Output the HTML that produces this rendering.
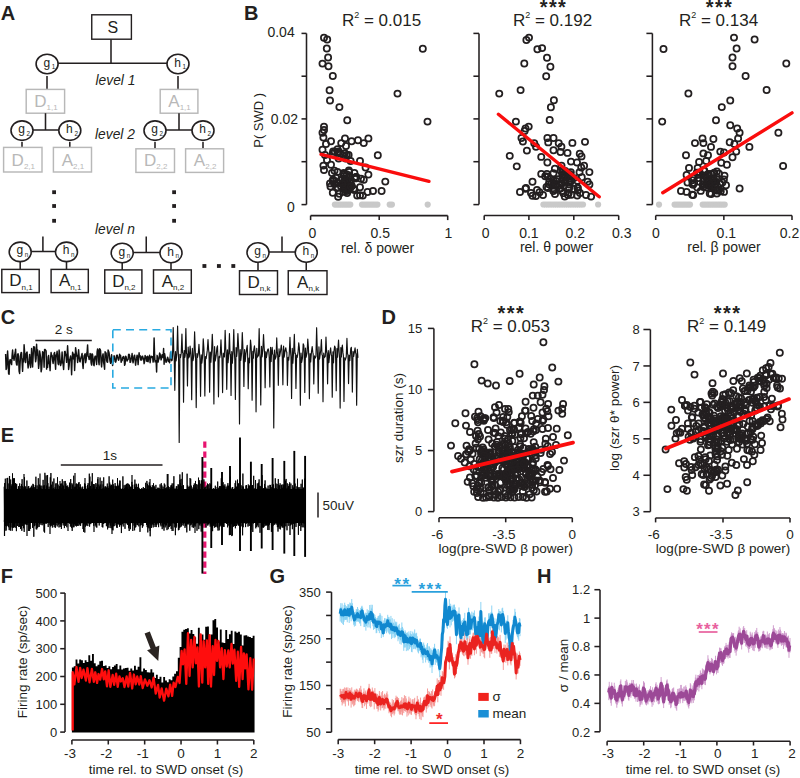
<!DOCTYPE html>
<html><head><meta charset="utf-8"><style>
html,body{margin:0;padding:0;background:#fff;}
svg{display:block;}
text{font-family:"Liberation Sans", sans-serif;}
</style></head><body>
<svg width="800" height="778" viewBox="0 0 800 778" style='font-family:"Liberation Sans", sans-serif'>
<text x="0.80" y="19.90" font-size="20" text-anchor="start" font-weight="bold" font-style="normal" fill="#231f20" >A</text>
<rect x="91.75" y="14.80" width="39.65" height="24.40" stroke="#231f20" stroke-width="1.4" fill="white"/>
<text x="112.80" y="33.10" font-size="16" text-anchor="middle" font-weight="normal" font-style="normal" fill="#231f20" >S</text>
<line x1="111.00" y1="39.50" x2="111.00" y2="63.30" stroke="#231f20" stroke-width="1.55" />
<line x1="47.00" y1="63.30" x2="178.00" y2="63.30" stroke="#231f20" stroke-width="1.55" />
<line x1="47.00" y1="76.00" x2="47.00" y2="89.40" stroke="#231f20" stroke-width="1.55" />
<line x1="178.00" y1="76.00" x2="178.00" y2="89.40" stroke="#231f20" stroke-width="1.55" />
<ellipse cx="47.10" cy="64.00" rx="11.00" ry="9.73" stroke="#231f20" stroke-width="1.6" fill="white"/>
<text x="43.40" y="66.50" font-size="12" text-anchor="start" font-weight="normal" font-style="normal" fill="#231f20" >g</text>
<text x="51.70" y="69.00" font-size="6.3" text-anchor="start" font-weight="normal" font-style="normal" fill="#231f20" >1</text>
<ellipse cx="178.00" cy="64.00" rx="11.00" ry="9.73" stroke="#231f20" stroke-width="1.6" fill="white"/>
<text x="174.30" y="66.50" font-size="12" text-anchor="start" font-weight="normal" font-style="normal" fill="#231f20" >h</text>
<text x="182.60" y="69.00" font-size="6.3" text-anchor="start" font-weight="normal" font-style="normal" fill="#231f20" >1</text>
<text x="95.50" y="85.00" font-size="13.8" text-anchor="start" font-weight="normal" font-style="italic" fill="#231f20" >level 1</text>
<rect x="26.20" y="89.40" width="38.40" height="23.80" stroke="#b8b8b8" stroke-width="1.45" fill="white"/>
<text x="45.90" y="107.00" font-size="17" text-anchor="middle" fill="#b8b8b8">D<tspan font-size="8" dy="3.1">1,1</tspan></text>
<rect x="160.20" y="89.40" width="37.70" height="23.80" stroke="#b8b8b8" stroke-width="1.45" fill="white"/>
<text x="179.55" y="107.00" font-size="17" text-anchor="middle" fill="#b8b8b8">A<tspan font-size="8" dy="3.1">1,1</tspan></text>
<line x1="45.50" y1="113.20" x2="45.50" y2="130.00" stroke="#231f20" stroke-width="1.55" />
<line x1="22.00" y1="130.00" x2="69.80" y2="130.00" stroke="#231f20" stroke-width="1.55" />
<line x1="179.00" y1="113.20" x2="179.00" y2="130.00" stroke="#231f20" stroke-width="1.55" />
<line x1="155.00" y1="130.00" x2="203.00" y2="130.00" stroke="#231f20" stroke-width="1.55" />
<text x="95.00" y="138.75" font-size="13.8" text-anchor="start" font-weight="normal" font-style="italic" fill="#231f20" >level 2</text>
<line x1="22.00" y1="142.00" x2="22.00" y2="147.40" stroke="#231f20" stroke-width="1.55" />
<line x1="69.80" y1="142.00" x2="69.80" y2="147.40" stroke="#231f20" stroke-width="1.55" />
<ellipse cx="22.00" cy="130.60" rx="11.00" ry="9.73" stroke="#231f20" stroke-width="1.6" fill="white"/>
<text x="18.30" y="133.10" font-size="12" text-anchor="start" font-weight="normal" font-style="normal" fill="#231f20" >g</text>
<text x="26.60" y="135.60" font-size="6.3" text-anchor="start" font-weight="normal" font-style="normal" fill="#231f20" >2</text>
<ellipse cx="69.80" cy="130.60" rx="11.00" ry="9.73" stroke="#231f20" stroke-width="1.6" fill="white"/>
<text x="66.10" y="133.10" font-size="12" text-anchor="start" font-weight="normal" font-style="normal" fill="#231f20" >h</text>
<text x="74.40" y="135.60" font-size="6.3" text-anchor="start" font-weight="normal" font-style="normal" fill="#231f20" >2</text>
<rect x="3.60" y="147.40" width="38.40" height="24.60" stroke="#b8b8b8" stroke-width="1.45" fill="white"/>
<text x="23.30" y="165.80" font-size="17" text-anchor="middle" fill="#b8b8b8">D<tspan font-size="8" dy="3.1">2,1</tspan></text>
<rect x="53.40" y="147.40" width="38.10" height="24.60" stroke="#b8b8b8" stroke-width="1.45" fill="white"/>
<text x="72.95" y="165.80" font-size="17" text-anchor="middle" fill="#b8b8b8">A<tspan font-size="8" dy="3.1">2,1</tspan></text>
<line x1="155.00" y1="142.00" x2="155.00" y2="148.80" stroke="#231f20" stroke-width="1.55" />
<line x1="203.00" y1="142.00" x2="203.00" y2="148.80" stroke="#231f20" stroke-width="1.55" />
<ellipse cx="155.00" cy="130.60" rx="11.00" ry="9.73" stroke="#231f20" stroke-width="1.6" fill="white"/>
<text x="151.30" y="133.10" font-size="12" text-anchor="start" font-weight="normal" font-style="normal" fill="#231f20" >g</text>
<text x="159.60" y="135.60" font-size="6.3" text-anchor="start" font-weight="normal" font-style="normal" fill="#231f20" >2</text>
<ellipse cx="203.00" cy="130.60" rx="11.00" ry="9.73" stroke="#231f20" stroke-width="1.6" fill="white"/>
<text x="199.30" y="133.10" font-size="12" text-anchor="start" font-weight="normal" font-style="normal" fill="#231f20" >h</text>
<text x="207.60" y="135.60" font-size="6.3" text-anchor="start" font-weight="normal" font-style="normal" fill="#231f20" >2</text>
<rect x="135.90" y="148.80" width="38.60" height="23.60" stroke="#b8b8b8" stroke-width="1.45" fill="white"/>
<text x="155.70" y="166.20" font-size="17" text-anchor="middle" fill="#b8b8b8">D<tspan font-size="8" dy="3.1">2,2</tspan></text>
<rect x="185.60" y="148.80" width="38.00" height="23.60" stroke="#b8b8b8" stroke-width="1.45" fill="white"/>
<text x="205.10" y="166.20" font-size="17" text-anchor="middle" fill="#b8b8b8">A<tspan font-size="8" dy="3.1">2,2</tspan></text>
<rect x="52.20" y="190.30" width="3.8" height="3.8" fill="#231f20"/>
<rect x="52.20" y="204.10" width="3.8" height="3.8" fill="#231f20"/>
<rect x="52.20" y="218.90" width="3.8" height="3.8" fill="#231f20"/>
<rect x="172.20" y="190.30" width="3.8" height="3.8" fill="#231f20"/>
<rect x="172.20" y="204.10" width="3.8" height="3.8" fill="#231f20"/>
<rect x="172.20" y="218.90" width="3.8" height="3.8" fill="#231f20"/>
<text x="95.00" y="233.75" font-size="13.8" text-anchor="start" font-weight="normal" font-style="italic" fill="#231f20" >level n</text>
<line x1="42.90" y1="236.50" x2="42.90" y2="251.40" stroke="#231f20" stroke-width="1.55" />
<line x1="20.20" y1="251.40" x2="66.50" y2="251.40" stroke="#231f20" stroke-width="1.55" />
<line x1="20.20" y1="251.90" x2="20.20" y2="269.40" stroke="#231f20" stroke-width="1.55" />
<line x1="66.50" y1="251.90" x2="66.50" y2="269.40" stroke="#231f20" stroke-width="1.55" />
<ellipse cx="20.20" cy="251.90" rx="11.00" ry="9.73" stroke="#231f20" stroke-width="1.6" fill="white"/>
<text x="16.50" y="254.40" font-size="12" text-anchor="start" font-weight="normal" font-style="normal" fill="#231f20" >g</text>
<text x="24.80" y="256.90" font-size="6.3" text-anchor="start" font-weight="normal" font-style="normal" fill="#231f20" >n</text>
<ellipse cx="66.50" cy="251.90" rx="11.00" ry="9.73" stroke="#231f20" stroke-width="1.6" fill="white"/>
<text x="62.80" y="254.40" font-size="12" text-anchor="start" font-weight="normal" font-style="normal" fill="#231f20" >h</text>
<text x="71.10" y="256.90" font-size="6.3" text-anchor="start" font-weight="normal" font-style="normal" fill="#231f20" >n</text>
<rect x="1.80" y="269.40" width="37.40" height="23.20" stroke="#231f20" stroke-width="1.45" fill="white"/>
<text x="21.00" y="286.40" font-size="17" text-anchor="middle" fill="#231f20">D<tspan font-size="8" dy="3.1">n,1</tspan></text>
<rect x="51.10" y="269.40" width="37.20" height="23.20" stroke="#231f20" stroke-width="1.45" fill="white"/>
<text x="70.20" y="286.40" font-size="17" text-anchor="middle" fill="#231f20">A<tspan font-size="8" dy="3.1">n,1</tspan></text>
<line x1="146.25" y1="236.50" x2="146.25" y2="252.50" stroke="#231f20" stroke-width="1.55" />
<line x1="122.20" y1="252.50" x2="171.00" y2="252.50" stroke="#231f20" stroke-width="1.55" />
<line x1="122.20" y1="253.00" x2="122.20" y2="269.90" stroke="#231f20" stroke-width="1.55" />
<line x1="171.00" y1="253.00" x2="171.00" y2="269.90" stroke="#231f20" stroke-width="1.55" />
<ellipse cx="122.20" cy="253.00" rx="11.00" ry="9.73" stroke="#231f20" stroke-width="1.6" fill="white"/>
<text x="118.50" y="255.50" font-size="12" text-anchor="start" font-weight="normal" font-style="normal" fill="#231f20" >g</text>
<text x="126.80" y="258.00" font-size="6.3" text-anchor="start" font-weight="normal" font-style="normal" fill="#231f20" >n</text>
<ellipse cx="171.00" cy="253.00" rx="11.00" ry="9.73" stroke="#231f20" stroke-width="1.6" fill="white"/>
<text x="167.30" y="255.50" font-size="12" text-anchor="start" font-weight="normal" font-style="normal" fill="#231f20" >h</text>
<text x="175.60" y="258.00" font-size="6.3" text-anchor="start" font-weight="normal" font-style="normal" fill="#231f20" >n</text>
<rect x="104.75" y="269.90" width="37.15" height="23.30" stroke="#231f20" stroke-width="1.45" fill="white"/>
<text x="123.83" y="287.00" font-size="17" text-anchor="middle" fill="#231f20">D<tspan font-size="8" dy="3.1">n,2</tspan></text>
<rect x="153.50" y="269.90" width="37.80" height="23.30" stroke="#231f20" stroke-width="1.45" fill="white"/>
<text x="172.90" y="287.00" font-size="17" text-anchor="middle" fill="#231f20">A<tspan font-size="8" dy="3.1">n,2</tspan></text>
<line x1="282.00" y1="236.50" x2="282.00" y2="252.00" stroke="#231f20" stroke-width="1.55" />
<line x1="258.00" y1="252.00" x2="306.25" y2="252.00" stroke="#231f20" stroke-width="1.55" />
<line x1="258.00" y1="252.50" x2="258.00" y2="270.75" stroke="#231f20" stroke-width="1.55" />
<line x1="306.25" y1="252.50" x2="306.25" y2="270.75" stroke="#231f20" stroke-width="1.55" />
<ellipse cx="258.00" cy="252.50" rx="11.00" ry="9.73" stroke="#231f20" stroke-width="1.6" fill="white"/>
<text x="254.30" y="255.00" font-size="12" text-anchor="start" font-weight="normal" font-style="normal" fill="#231f20" >g</text>
<text x="262.60" y="257.50" font-size="6.3" text-anchor="start" font-weight="normal" font-style="normal" fill="#231f20" >n</text>
<ellipse cx="306.25" cy="252.50" rx="11.00" ry="9.73" stroke="#231f20" stroke-width="1.6" fill="white"/>
<text x="302.55" y="255.00" font-size="12" text-anchor="start" font-weight="normal" font-style="normal" fill="#231f20" >h</text>
<text x="310.85" y="257.50" font-size="6.3" text-anchor="start" font-weight="normal" font-style="normal" fill="#231f20" >n</text>
<rect x="239.50" y="270.75" width="38.00" height="23.75" stroke="#231f20" stroke-width="1.45" fill="white"/>
<text x="259.00" y="288.30" font-size="17" text-anchor="middle" fill="#231f20">D<tspan font-size="8" dy="3.1">n,k</tspan></text>
<rect x="288.25" y="270.75" width="38.75" height="23.75" stroke="#231f20" stroke-width="1.45" fill="white"/>
<text x="308.12" y="288.30" font-size="17" text-anchor="middle" fill="#231f20">A<tspan font-size="8" dy="3.1">n,k</tspan></text>
<rect x="202.45" y="264.10" width="3.9" height="3.8" fill="#231f20"/>
<rect x="216.95" y="264.10" width="3.9" height="3.8" fill="#231f20"/>
<rect x="231.35" y="264.10" width="3.9" height="3.8" fill="#231f20"/>
<text x="244.00" y="19.80" font-size="20" text-anchor="start" font-weight="bold" font-style="normal" fill="#231f20" >B</text>
<line x1="306.50" y1="33.40" x2="306.50" y2="204.60" stroke="#231f20" stroke-width="1.55" />
<line x1="301.50" y1="33.40" x2="306.50" y2="33.40" stroke="#231f20" stroke-width="1.55" />
<line x1="301.50" y1="76.20" x2="306.50" y2="76.20" stroke="#231f20" stroke-width="1.55" />
<line x1="301.50" y1="118.90" x2="306.50" y2="118.90" stroke="#231f20" stroke-width="1.55" />
<line x1="301.50" y1="161.70" x2="306.50" y2="161.70" stroke="#231f20" stroke-width="1.55" />
<line x1="301.50" y1="204.60" x2="306.50" y2="204.60" stroke="#231f20" stroke-width="1.55" />
<text x="294.70" y="36.90" font-size="14" text-anchor="end" font-weight="normal" font-style="normal" fill="#231f20" >0.04</text>
<text x="298.10" y="123.70" font-size="14" text-anchor="end" font-weight="normal" font-style="normal" fill="#231f20" >0.02</text>
<text x="294.70" y="211.60" font-size="14" text-anchor="end" font-weight="normal" font-style="normal" fill="#231f20" >0</text>
<line x1="310.60" y1="215.60" x2="447.70" y2="215.60" stroke="#231f20" stroke-width="1.55" />
<line x1="310.60" y1="215.60" x2="310.60" y2="220.10" stroke="#231f20" stroke-width="1.55" />
<text x="312.30" y="237.60" font-size="14" text-anchor="middle" font-weight="normal" font-style="normal" fill="#231f20" >0</text>
<line x1="379.20" y1="215.60" x2="379.20" y2="220.10" stroke="#231f20" stroke-width="1.55" />
<text x="380.30" y="237.60" font-size="14" text-anchor="middle" font-weight="normal" font-style="normal" fill="#231f20" >0.5</text>
<line x1="447.70" y1="215.60" x2="447.70" y2="220.10" stroke="#231f20" stroke-width="1.55" />
<text x="448.30" y="237.60" font-size="14" text-anchor="middle" font-weight="normal" font-style="normal" fill="#231f20" >1</text>
<text x="377.70" y="252.80" font-size="14" text-anchor="middle" font-weight="normal" font-style="normal" fill="#231f20" >rel. δ power</text>
<text x="0" y="0" font-size="13" text-anchor="middle" fill="#231f20" transform="translate(263.4,120.3) rotate(-90)">P( SWD )</text>
<text x="381.50" y="25.80" font-size="17" text-anchor="middle" fill="#231f20">R<tspan font-size="9" dy="-7.8">2</tspan><tspan dy="7.8"> = 0.015</tspan></text>
<line x1="479.00" y1="33.40" x2="479.00" y2="204.60" stroke="#231f20" stroke-width="1.55" />
<line x1="473.40" y1="33.40" x2="479.00" y2="33.40" stroke="#231f20" stroke-width="1.55" />
<line x1="473.40" y1="76.20" x2="479.00" y2="76.20" stroke="#231f20" stroke-width="1.55" />
<line x1="473.40" y1="118.90" x2="479.00" y2="118.90" stroke="#231f20" stroke-width="1.55" />
<line x1="473.40" y1="161.70" x2="479.00" y2="161.70" stroke="#231f20" stroke-width="1.55" />
<line x1="473.40" y1="204.60" x2="479.00" y2="204.60" stroke="#231f20" stroke-width="1.55" />
<line x1="484.20" y1="215.50" x2="618.70" y2="215.50" stroke="#231f20" stroke-width="1.55" />
<line x1="484.20" y1="215.50" x2="484.20" y2="220.00" stroke="#231f20" stroke-width="1.55" />
<text x="485.70" y="237.60" font-size="14" text-anchor="middle" font-weight="normal" font-style="normal" fill="#231f20" >0</text>
<line x1="528.90" y1="215.50" x2="528.90" y2="220.00" stroke="#231f20" stroke-width="1.55" />
<text x="528.90" y="237.60" font-size="14" text-anchor="middle" font-weight="normal" font-style="normal" fill="#231f20" >0.1</text>
<line x1="573.80" y1="215.50" x2="573.80" y2="220.00" stroke="#231f20" stroke-width="1.55" />
<text x="575.30" y="237.60" font-size="14" text-anchor="middle" font-weight="normal" font-style="normal" fill="#231f20" >0.2</text>
<line x1="618.70" y1="215.50" x2="618.70" y2="220.00" stroke="#231f20" stroke-width="1.55" />
<text x="621.70" y="237.60" font-size="14" text-anchor="middle" font-weight="normal" font-style="normal" fill="#231f20" >0.3</text>
<text x="556.50" y="251.80" font-size="14" text-anchor="middle" font-weight="normal" font-style="normal" fill="#231f20" >rel. θ power</text>
<text x="552.50" y="25.90" font-size="17" text-anchor="middle" fill="#231f20">R<tspan font-size="9" dy="-7.8">2</tspan><tspan dy="7.8"> = 0.192</tspan></text>
<text x="553.50" y="14.40" font-size="20" text-anchor="middle" font-weight="bold" font-style="normal" fill="#231f20" letter-spacing="1.4">***</text>
<line x1="652.40" y1="33.40" x2="652.40" y2="204.60" stroke="#231f20" stroke-width="1.55" />
<line x1="646.40" y1="33.40" x2="652.40" y2="33.40" stroke="#231f20" stroke-width="1.55" />
<line x1="646.40" y1="76.20" x2="652.40" y2="76.20" stroke="#231f20" stroke-width="1.55" />
<line x1="646.40" y1="118.90" x2="652.40" y2="118.90" stroke="#231f20" stroke-width="1.55" />
<line x1="646.40" y1="161.70" x2="652.40" y2="161.70" stroke="#231f20" stroke-width="1.55" />
<line x1="646.40" y1="204.60" x2="652.40" y2="204.60" stroke="#231f20" stroke-width="1.55" />
<line x1="655.70" y1="215.50" x2="792.00" y2="215.50" stroke="#231f20" stroke-width="1.55" />
<line x1="655.70" y1="215.50" x2="655.70" y2="220.00" stroke="#231f20" stroke-width="1.55" />
<text x="656.00" y="237.60" font-size="14" text-anchor="middle" font-weight="normal" font-style="normal" fill="#231f20" >0</text>
<line x1="723.85" y1="215.50" x2="723.85" y2="220.00" stroke="#231f20" stroke-width="1.55" />
<text x="726.35" y="237.60" font-size="14" text-anchor="middle" font-weight="normal" font-style="normal" fill="#231f20" >0.1</text>
<line x1="792.00" y1="215.50" x2="792.00" y2="220.00" stroke="#231f20" stroke-width="1.55" />
<text x="789.50" y="237.60" font-size="14" text-anchor="middle" font-weight="normal" font-style="normal" fill="#231f20" >0.2</text>
<text x="724.00" y="251.80" font-size="14" text-anchor="middle" font-weight="normal" font-style="normal" fill="#231f20" >rel. β power</text>
<text x="718.50" y="25.90" font-size="17" text-anchor="middle" fill="#231f20">R<tspan font-size="9" dy="-7.8">2</tspan><tspan dy="7.8"> = 0.134</tspan></text>
<text x="719.50" y="14.40" font-size="20" text-anchor="middle" font-weight="bold" font-style="normal" fill="#231f20" letter-spacing="1.4">***</text>
<circle cx="334.90" cy="204.6" r="3.1" fill="#c9c9c9"/>
<circle cx="337.10" cy="204.6" r="3.1" fill="#c9c9c9"/>
<circle cx="339.30" cy="204.6" r="3.1" fill="#c9c9c9"/>
<circle cx="341.50" cy="204.6" r="3.1" fill="#c9c9c9"/>
<circle cx="343.70" cy="204.6" r="3.1" fill="#c9c9c9"/>
<circle cx="345.90" cy="204.6" r="3.1" fill="#c9c9c9"/>
<circle cx="348.10" cy="204.6" r="3.1" fill="#c9c9c9"/>
<circle cx="350.30" cy="204.6" r="3.1" fill="#c9c9c9"/>
<circle cx="362.00" cy="204.6" r="3.1" fill="#c9c9c9"/>
<circle cx="364.20" cy="204.6" r="3.1" fill="#c9c9c9"/>
<circle cx="366.40" cy="204.6" r="3.1" fill="#c9c9c9"/>
<circle cx="368.60" cy="204.6" r="3.1" fill="#c9c9c9"/>
<circle cx="370.80" cy="204.6" r="3.1" fill="#c9c9c9"/>
<circle cx="373.00" cy="204.6" r="3.1" fill="#c9c9c9"/>
<circle cx="375.20" cy="204.6" r="3.1" fill="#c9c9c9"/>
<circle cx="377.40" cy="204.6" r="3.1" fill="#c9c9c9"/>
<circle cx="389.70" cy="204.6" r="3.1" fill="#c9c9c9"/>
<circle cx="391.90" cy="204.6" r="3.1" fill="#c9c9c9"/>
<circle cx="427.70" cy="204.6" r="3.1" fill="#c9c9c9"/>
<circle cx="543.40" cy="204.5" r="3.1" fill="#c9c9c9"/>
<circle cx="545.60" cy="204.5" r="3.1" fill="#c9c9c9"/>
<circle cx="547.80" cy="204.5" r="3.1" fill="#c9c9c9"/>
<circle cx="550.00" cy="204.5" r="3.1" fill="#c9c9c9"/>
<circle cx="552.20" cy="204.5" r="3.1" fill="#c9c9c9"/>
<circle cx="554.40" cy="204.5" r="3.1" fill="#c9c9c9"/>
<circle cx="556.60" cy="204.5" r="3.1" fill="#c9c9c9"/>
<circle cx="558.80" cy="204.5" r="3.1" fill="#c9c9c9"/>
<circle cx="561.00" cy="204.5" r="3.1" fill="#c9c9c9"/>
<circle cx="563.20" cy="204.5" r="3.1" fill="#c9c9c9"/>
<circle cx="565.40" cy="204.5" r="3.1" fill="#c9c9c9"/>
<circle cx="567.60" cy="204.5" r="3.1" fill="#c9c9c9"/>
<circle cx="569.80" cy="204.5" r="3.1" fill="#c9c9c9"/>
<circle cx="572.00" cy="204.5" r="3.1" fill="#c9c9c9"/>
<circle cx="574.20" cy="204.5" r="3.1" fill="#c9c9c9"/>
<circle cx="576.40" cy="204.5" r="3.1" fill="#c9c9c9"/>
<circle cx="578.60" cy="204.5" r="3.1" fill="#c9c9c9"/>
<circle cx="580.80" cy="204.5" r="3.1" fill="#c9c9c9"/>
<circle cx="583.00" cy="204.5" r="3.1" fill="#c9c9c9"/>
<circle cx="598.10" cy="204.5" r="3.1" fill="#c9c9c9"/>
<circle cx="674.60" cy="204.6" r="3.1" fill="#c9c9c9"/>
<circle cx="676.80" cy="204.6" r="3.1" fill="#c9c9c9"/>
<circle cx="679.00" cy="204.6" r="3.1" fill="#c9c9c9"/>
<circle cx="681.20" cy="204.6" r="3.1" fill="#c9c9c9"/>
<circle cx="683.40" cy="204.6" r="3.1" fill="#c9c9c9"/>
<circle cx="685.60" cy="204.6" r="3.1" fill="#c9c9c9"/>
<circle cx="687.80" cy="204.6" r="3.1" fill="#c9c9c9"/>
<circle cx="690.00" cy="204.6" r="3.1" fill="#c9c9c9"/>
<circle cx="702.70" cy="204.6" r="3.1" fill="#c9c9c9"/>
<circle cx="704.90" cy="204.6" r="3.1" fill="#c9c9c9"/>
<circle cx="707.10" cy="204.6" r="3.1" fill="#c9c9c9"/>
<circle cx="709.30" cy="204.6" r="3.1" fill="#c9c9c9"/>
<circle cx="711.50" cy="204.6" r="3.1" fill="#c9c9c9"/>
<circle cx="713.70" cy="204.6" r="3.1" fill="#c9c9c9"/>
<circle cx="715.90" cy="204.6" r="3.1" fill="#c9c9c9"/>
<circle cx="718.10" cy="204.6" r="3.1" fill="#c9c9c9"/>
<circle cx="720.30" cy="204.6" r="3.1" fill="#c9c9c9"/>
<circle cx="722.50" cy="204.6" r="3.1" fill="#c9c9c9"/>
<circle cx="724.70" cy="204.6" r="3.1" fill="#c9c9c9"/>
<circle cx="659.00" cy="204.6" r="3.1" fill="#c9c9c9"/>
<circle cx="324.00" cy="37.75" r="3.1" stroke="#231f20" stroke-width="1.75" fill="none"/>
<circle cx="327.20" cy="39.40" r="3.1" stroke="#231f20" stroke-width="1.75" fill="none"/>
<circle cx="326.80" cy="48.40" r="3.1" stroke="#231f20" stroke-width="1.75" fill="none"/>
<circle cx="328.10" cy="57.40" r="3.1" stroke="#231f20" stroke-width="1.75" fill="none"/>
<circle cx="322.50" cy="63.60" r="3.1" stroke="#231f20" stroke-width="1.75" fill="none"/>
<circle cx="328.50" cy="66.25" r="3.1" stroke="#231f20" stroke-width="1.75" fill="none"/>
<circle cx="332.80" cy="76.00" r="3.1" stroke="#231f20" stroke-width="1.75" fill="none"/>
<circle cx="329.60" cy="90.25" r="3.1" stroke="#231f20" stroke-width="1.75" fill="none"/>
<circle cx="330.00" cy="100.40" r="3.1" stroke="#231f20" stroke-width="1.75" fill="none"/>
<circle cx="339.40" cy="107.10" r="3.1" stroke="#231f20" stroke-width="1.75" fill="none"/>
<circle cx="347.25" cy="120.25" r="3.1" stroke="#231f20" stroke-width="1.75" fill="none"/>
<circle cx="397.50" cy="93.60" r="3.1" stroke="#231f20" stroke-width="1.75" fill="none"/>
<circle cx="422.80" cy="48.80" r="3.1" stroke="#231f20" stroke-width="1.75" fill="none"/>
<circle cx="427.50" cy="121.60" r="3.1" stroke="#231f20" stroke-width="1.75" fill="none"/>
<circle cx="324.00" cy="126.60" r="3.1" stroke="#231f20" stroke-width="1.75" fill="none"/>
<circle cx="324.00" cy="130.00" r="3.1" stroke="#231f20" stroke-width="1.75" fill="none"/>
<circle cx="322.50" cy="132.80" r="3.1" stroke="#231f20" stroke-width="1.75" fill="none"/>
<circle cx="323.40" cy="137.50" r="3.1" stroke="#231f20" stroke-width="1.75" fill="none"/>
<circle cx="326.00" cy="144.00" r="3.1" stroke="#231f20" stroke-width="1.75" fill="none"/>
<circle cx="331.00" cy="141.25" r="3.1" stroke="#231f20" stroke-width="1.75" fill="none"/>
<circle cx="322.50" cy="149.70" r="3.1" stroke="#231f20" stroke-width="1.75" fill="none"/>
<circle cx="323.40" cy="165.60" r="3.1" stroke="#231f20" stroke-width="1.75" fill="none"/>
<circle cx="331.00" cy="164.70" r="3.1" stroke="#231f20" stroke-width="1.75" fill="none"/>
<circle cx="345.00" cy="138.40" r="3.1" stroke="#231f20" stroke-width="1.75" fill="none"/>
<circle cx="351.60" cy="141.25" r="3.1" stroke="#231f20" stroke-width="1.75" fill="none"/>
<circle cx="358.00" cy="140.30" r="3.1" stroke="#231f20" stroke-width="1.75" fill="none"/>
<circle cx="363.75" cy="143.10" r="3.1" stroke="#231f20" stroke-width="1.75" fill="none"/>
<circle cx="368.40" cy="138.40" r="3.1" stroke="#231f20" stroke-width="1.75" fill="none"/>
<circle cx="341.25" cy="143.10" r="3.1" stroke="#231f20" stroke-width="1.75" fill="none"/>
<circle cx="346.00" cy="146.00" r="3.1" stroke="#231f20" stroke-width="1.75" fill="none"/>
<circle cx="377.80" cy="155.30" r="3.1" stroke="#231f20" stroke-width="1.75" fill="none"/>
<circle cx="360.00" cy="161.00" r="3.1" stroke="#231f20" stroke-width="1.75" fill="none"/>
<circle cx="365.60" cy="167.50" r="3.1" stroke="#231f20" stroke-width="1.75" fill="none"/>
<circle cx="368.40" cy="174.60" r="3.1" stroke="#231f20" stroke-width="1.75" fill="none"/>
<circle cx="363.75" cy="179.70" r="3.1" stroke="#231f20" stroke-width="1.75" fill="none"/>
<circle cx="385.30" cy="181.60" r="3.1" stroke="#231f20" stroke-width="1.75" fill="none"/>
<circle cx="381.60" cy="191.00" r="3.1" stroke="#231f20" stroke-width="1.75" fill="none"/>
<circle cx="332.00" cy="173.00" r="3.1" stroke="#231f20" stroke-width="1.75" fill="none"/>
<circle cx="330.00" cy="183.40" r="3.1" stroke="#231f20" stroke-width="1.75" fill="none"/>
<circle cx="332.80" cy="192.80" r="3.1" stroke="#231f20" stroke-width="1.75" fill="none"/>
<circle cx="339.40" cy="193.75" r="3.1" stroke="#231f20" stroke-width="1.75" fill="none"/>
<circle cx="347.00" cy="191.00" r="3.1" stroke="#231f20" stroke-width="1.75" fill="none"/>
<circle cx="354.40" cy="190.00" r="3.1" stroke="#231f20" stroke-width="1.75" fill="none"/>
<circle cx="357.20" cy="195.60" r="3.1" stroke="#231f20" stroke-width="1.75" fill="none"/>
<circle cx="362.80" cy="195.60" r="3.1" stroke="#231f20" stroke-width="1.75" fill="none"/>
<circle cx="367.50" cy="192.00" r="3.1" stroke="#231f20" stroke-width="1.75" fill="none"/>
<circle cx="373.00" cy="191.00" r="3.1" stroke="#231f20" stroke-width="1.75" fill="none"/>
<circle cx="334.70" cy="151.60" r="3.1" stroke="#231f20" stroke-width="1.75" fill="none"/>
<circle cx="337.50" cy="152.50" r="3.1" stroke="#231f20" stroke-width="1.75" fill="none"/>
<circle cx="340.30" cy="153.40" r="3.1" stroke="#231f20" stroke-width="1.75" fill="none"/>
<circle cx="350.60" cy="161.00" r="3.1" stroke="#231f20" stroke-width="1.75" fill="none"/>
<circle cx="354.40" cy="173.00" r="3.1" stroke="#231f20" stroke-width="1.75" fill="none"/>
<circle cx="356.25" cy="177.00" r="3.1" stroke="#231f20" stroke-width="1.75" fill="none"/>
<circle cx="360.00" cy="187.20" r="3.1" stroke="#231f20" stroke-width="1.75" fill="none"/>
<circle cx="325.00" cy="155.00" r="3.1" stroke="#231f20" stroke-width="1.75" fill="none"/>
<circle cx="327.00" cy="160.00" r="3.1" stroke="#231f20" stroke-width="1.75" fill="none"/>
<circle cx="324.00" cy="170.00" r="3.1" stroke="#231f20" stroke-width="1.75" fill="none"/>
<circle cx="334.43" cy="184.02" r="3.1" stroke="#231f20" stroke-width="1.75" fill="none"/>
<circle cx="349.96" cy="176.89" r="3.1" stroke="#231f20" stroke-width="1.75" fill="none"/>
<circle cx="333.70" cy="180.48" r="3.1" stroke="#231f20" stroke-width="1.75" fill="none"/>
<circle cx="346.35" cy="189.79" r="3.1" stroke="#231f20" stroke-width="1.75" fill="none"/>
<circle cx="334.49" cy="170.66" r="3.1" stroke="#231f20" stroke-width="1.75" fill="none"/>
<circle cx="347.94" cy="184.79" r="3.1" stroke="#231f20" stroke-width="1.75" fill="none"/>
<circle cx="353.74" cy="188.86" r="3.1" stroke="#231f20" stroke-width="1.75" fill="none"/>
<circle cx="342.29" cy="178.81" r="3.1" stroke="#231f20" stroke-width="1.75" fill="none"/>
<circle cx="360.99" cy="178.69" r="3.1" stroke="#231f20" stroke-width="1.75" fill="none"/>
<circle cx="337.51" cy="171.89" r="3.1" stroke="#231f20" stroke-width="1.75" fill="none"/>
<circle cx="343.67" cy="182.16" r="3.1" stroke="#231f20" stroke-width="1.75" fill="none"/>
<circle cx="340.59" cy="180.50" r="3.1" stroke="#231f20" stroke-width="1.75" fill="none"/>
<circle cx="344.91" cy="186.54" r="3.1" stroke="#231f20" stroke-width="1.75" fill="none"/>
<circle cx="350.68" cy="182.68" r="3.1" stroke="#231f20" stroke-width="1.75" fill="none"/>
<circle cx="330.47" cy="186.61" r="3.1" stroke="#231f20" stroke-width="1.75" fill="none"/>
<circle cx="333.06" cy="179.63" r="3.1" stroke="#231f20" stroke-width="1.75" fill="none"/>
<circle cx="332.68" cy="181.02" r="3.1" stroke="#231f20" stroke-width="1.75" fill="none"/>
<circle cx="337.55" cy="182.71" r="3.1" stroke="#231f20" stroke-width="1.75" fill="none"/>
<circle cx="348.90" cy="170.41" r="3.1" stroke="#231f20" stroke-width="1.75" fill="none"/>
<circle cx="340.98" cy="186.30" r="3.1" stroke="#231f20" stroke-width="1.75" fill="none"/>
<circle cx="342.35" cy="183.96" r="3.1" stroke="#231f20" stroke-width="1.75" fill="none"/>
<circle cx="343.72" cy="172.95" r="3.1" stroke="#231f20" stroke-width="1.75" fill="none"/>
<circle cx="346.95" cy="174.50" r="3.1" stroke="#231f20" stroke-width="1.75" fill="none"/>
<circle cx="356.10" cy="176.96" r="3.1" stroke="#231f20" stroke-width="1.75" fill="none"/>
<circle cx="347.80" cy="181.02" r="3.1" stroke="#231f20" stroke-width="1.75" fill="none"/>
<circle cx="349.67" cy="176.18" r="3.1" stroke="#231f20" stroke-width="1.75" fill="none"/>
<circle cx="349.99" cy="180.01" r="3.1" stroke="#231f20" stroke-width="1.75" fill="none"/>
<circle cx="351.84" cy="185.99" r="3.1" stroke="#231f20" stroke-width="1.75" fill="none"/>
<circle cx="343.99" cy="174.76" r="3.1" stroke="#231f20" stroke-width="1.75" fill="none"/>
<circle cx="348.37" cy="184.75" r="3.1" stroke="#231f20" stroke-width="1.75" fill="none"/>
<circle cx="354.49" cy="177.98" r="3.1" stroke="#231f20" stroke-width="1.75" fill="none"/>
<circle cx="346.88" cy="185.06" r="3.1" stroke="#231f20" stroke-width="1.75" fill="none"/>
<circle cx="344.98" cy="182.67" r="3.1" stroke="#231f20" stroke-width="1.75" fill="none"/>
<circle cx="344.27" cy="176.21" r="3.1" stroke="#231f20" stroke-width="1.75" fill="none"/>
<circle cx="335.90" cy="177.83" r="3.1" stroke="#231f20" stroke-width="1.75" fill="none"/>
<circle cx="347.14" cy="193.09" r="3.1" stroke="#231f20" stroke-width="1.75" fill="none"/>
<circle cx="349.84" cy="189.43" r="3.1" stroke="#231f20" stroke-width="1.75" fill="none"/>
<circle cx="348.44" cy="186.59" r="3.1" stroke="#231f20" stroke-width="1.75" fill="none"/>
<circle cx="344.28" cy="187.17" r="3.1" stroke="#231f20" stroke-width="1.75" fill="none"/>
<circle cx="355.42" cy="178.38" r="3.1" stroke="#231f20" stroke-width="1.75" fill="none"/>
<circle cx="338.14" cy="196.68" r="3.1" stroke="#231f20" stroke-width="1.75" fill="none"/>
<circle cx="344.71" cy="188.77" r="3.1" stroke="#231f20" stroke-width="1.75" fill="none"/>
<circle cx="349.12" cy="171.91" r="3.1" stroke="#231f20" stroke-width="1.75" fill="none"/>
<circle cx="360.03" cy="195.21" r="3.1" stroke="#231f20" stroke-width="1.75" fill="none"/>
<circle cx="344.24" cy="187.02" r="3.1" stroke="#231f20" stroke-width="1.75" fill="none"/>
<circle cx="343.89" cy="173.93" r="3.1" stroke="#231f20" stroke-width="1.75" fill="none"/>
<circle cx="342.22" cy="183.99" r="3.1" stroke="#231f20" stroke-width="1.75" fill="none"/>
<circle cx="350.81" cy="186.67" r="3.1" stroke="#231f20" stroke-width="1.75" fill="none"/>
<circle cx="343.42" cy="191.84" r="3.1" stroke="#231f20" stroke-width="1.75" fill="none"/>
<circle cx="337.67" cy="187.34" r="3.1" stroke="#231f20" stroke-width="1.75" fill="none"/>
<circle cx="332.77" cy="153.70" r="3.1" stroke="#231f20" stroke-width="1.75" fill="none"/>
<circle cx="338.61" cy="151.56" r="3.1" stroke="#231f20" stroke-width="1.75" fill="none"/>
<circle cx="344.83" cy="153.20" r="3.1" stroke="#231f20" stroke-width="1.75" fill="none"/>
<circle cx="338.63" cy="158.41" r="3.1" stroke="#231f20" stroke-width="1.75" fill="none"/>
<circle cx="337.53" cy="149.21" r="3.1" stroke="#231f20" stroke-width="1.75" fill="none"/>
<circle cx="333.13" cy="151.42" r="3.1" stroke="#231f20" stroke-width="1.75" fill="none"/>
<circle cx="343.29" cy="155.56" r="3.1" stroke="#231f20" stroke-width="1.75" fill="none"/>
<circle cx="345.69" cy="158.56" r="3.1" stroke="#231f20" stroke-width="1.75" fill="none"/>
<circle cx="348.62" cy="155.00" r="3.1" stroke="#231f20" stroke-width="1.75" fill="none"/>
<circle cx="346.80" cy="155.07" r="3.1" stroke="#231f20" stroke-width="1.75" fill="none"/>
<circle cx="526.40" cy="39.90" r="3.1" stroke="#231f20" stroke-width="1.75" fill="none"/>
<circle cx="529.00" cy="37.60" r="3.1" stroke="#231f20" stroke-width="1.75" fill="none"/>
<circle cx="537.40" cy="49.20" r="3.1" stroke="#231f20" stroke-width="1.75" fill="none"/>
<circle cx="542.10" cy="48.10" r="3.1" stroke="#231f20" stroke-width="1.75" fill="none"/>
<circle cx="547.00" cy="57.70" r="3.1" stroke="#231f20" stroke-width="1.75" fill="none"/>
<circle cx="524.30" cy="63.50" r="3.1" stroke="#231f20" stroke-width="1.75" fill="none"/>
<circle cx="550.40" cy="66.70" r="3.1" stroke="#231f20" stroke-width="1.75" fill="none"/>
<circle cx="546.20" cy="76.30" r="3.1" stroke="#231f20" stroke-width="1.75" fill="none"/>
<circle cx="499.25" cy="93.60" r="3.1" stroke="#231f20" stroke-width="1.75" fill="none"/>
<circle cx="520.60" cy="90.10" r="3.1" stroke="#231f20" stroke-width="1.75" fill="none"/>
<circle cx="553.90" cy="100.25" r="3.1" stroke="#231f20" stroke-width="1.75" fill="none"/>
<circle cx="550.90" cy="107.25" r="3.1" stroke="#231f20" stroke-width="1.75" fill="none"/>
<circle cx="549.70" cy="120.00" r="3.1" stroke="#231f20" stroke-width="1.75" fill="none"/>
<circle cx="515.90" cy="121.60" r="3.1" stroke="#231f20" stroke-width="1.75" fill="none"/>
<circle cx="525.50" cy="128.40" r="3.1" stroke="#231f20" stroke-width="1.75" fill="none"/>
<circle cx="528.70" cy="126.60" r="3.1" stroke="#231f20" stroke-width="1.75" fill="none"/>
<circle cx="524.60" cy="131.00" r="3.1" stroke="#231f20" stroke-width="1.75" fill="none"/>
<circle cx="521.50" cy="138.00" r="3.1" stroke="#231f20" stroke-width="1.75" fill="none"/>
<circle cx="522.90" cy="141.50" r="3.1" stroke="#231f20" stroke-width="1.75" fill="none"/>
<circle cx="534.25" cy="143.25" r="3.1" stroke="#231f20" stroke-width="1.75" fill="none"/>
<circle cx="536.00" cy="146.75" r="3.1" stroke="#231f20" stroke-width="1.75" fill="none"/>
<circle cx="526.90" cy="150.60" r="3.1" stroke="#231f20" stroke-width="1.75" fill="none"/>
<circle cx="509.75" cy="155.85" r="3.1" stroke="#231f20" stroke-width="1.75" fill="none"/>
<circle cx="516.75" cy="166.35" r="3.1" stroke="#231f20" stroke-width="1.75" fill="none"/>
<circle cx="541.25" cy="156.90" r="3.1" stroke="#231f20" stroke-width="1.75" fill="none"/>
<circle cx="547.40" cy="138.00" r="3.1" stroke="#231f20" stroke-width="1.75" fill="none"/>
<circle cx="553.50" cy="138.00" r="3.1" stroke="#231f20" stroke-width="1.75" fill="none"/>
<circle cx="548.25" cy="142.40" r="3.1" stroke="#231f20" stroke-width="1.75" fill="none"/>
<circle cx="558.75" cy="143.25" r="3.1" stroke="#231f20" stroke-width="1.75" fill="none"/>
<circle cx="561.40" cy="146.75" r="3.1" stroke="#231f20" stroke-width="1.75" fill="none"/>
<circle cx="572.40" cy="142.90" r="3.1" stroke="#231f20" stroke-width="1.75" fill="none"/>
<circle cx="585.00" cy="141.85" r="3.1" stroke="#231f20" stroke-width="1.75" fill="none"/>
<circle cx="553.50" cy="150.25" r="3.1" stroke="#231f20" stroke-width="1.75" fill="none"/>
<circle cx="560.50" cy="152.00" r="3.1" stroke="#231f20" stroke-width="1.75" fill="none"/>
<circle cx="567.50" cy="152.90" r="3.1" stroke="#231f20" stroke-width="1.75" fill="none"/>
<circle cx="579.75" cy="153.75" r="3.1" stroke="#231f20" stroke-width="1.75" fill="none"/>
<circle cx="581.50" cy="156.40" r="3.1" stroke="#231f20" stroke-width="1.75" fill="none"/>
<circle cx="547.40" cy="162.50" r="3.1" stroke="#231f20" stroke-width="1.75" fill="none"/>
<circle cx="571.00" cy="161.60" r="3.1" stroke="#231f20" stroke-width="1.75" fill="none"/>
<circle cx="577.00" cy="162.50" r="3.1" stroke="#231f20" stroke-width="1.75" fill="none"/>
<circle cx="589.40" cy="172.10" r="3.1" stroke="#231f20" stroke-width="1.75" fill="none"/>
<circle cx="541.25" cy="173.90" r="3.1" stroke="#231f20" stroke-width="1.75" fill="none"/>
<circle cx="525.50" cy="188.75" r="3.1" stroke="#231f20" stroke-width="1.75" fill="none"/>
<circle cx="532.50" cy="181.75" r="3.1" stroke="#231f20" stroke-width="1.75" fill="none"/>
<circle cx="532.50" cy="195.75" r="3.1" stroke="#231f20" stroke-width="1.75" fill="none"/>
<circle cx="539.50" cy="192.25" r="3.1" stroke="#231f20" stroke-width="1.75" fill="none"/>
<circle cx="546.50" cy="187.00" r="3.1" stroke="#231f20" stroke-width="1.75" fill="none"/>
<circle cx="587.60" cy="181.75" r="3.1" stroke="#231f20" stroke-width="1.75" fill="none"/>
<circle cx="589.40" cy="184.40" r="3.1" stroke="#231f20" stroke-width="1.75" fill="none"/>
<circle cx="591.10" cy="196.60" r="3.1" stroke="#231f20" stroke-width="1.75" fill="none"/>
<circle cx="578.00" cy="190.50" r="3.1" stroke="#231f20" stroke-width="1.75" fill="none"/>
<circle cx="568.79" cy="192.85" r="3.1" stroke="#231f20" stroke-width="1.75" fill="none"/>
<circle cx="553.45" cy="173.29" r="3.1" stroke="#231f20" stroke-width="1.75" fill="none"/>
<circle cx="564.76" cy="196.60" r="3.1" stroke="#231f20" stroke-width="1.75" fill="none"/>
<circle cx="565.26" cy="170.92" r="3.1" stroke="#231f20" stroke-width="1.75" fill="none"/>
<circle cx="553.67" cy="180.79" r="3.1" stroke="#231f20" stroke-width="1.75" fill="none"/>
<circle cx="570.63" cy="181.17" r="3.1" stroke="#231f20" stroke-width="1.75" fill="none"/>
<circle cx="557.74" cy="179.26" r="3.1" stroke="#231f20" stroke-width="1.75" fill="none"/>
<circle cx="562.97" cy="174.70" r="3.1" stroke="#231f20" stroke-width="1.75" fill="none"/>
<circle cx="561.32" cy="183.63" r="3.1" stroke="#231f20" stroke-width="1.75" fill="none"/>
<circle cx="577.38" cy="180.77" r="3.1" stroke="#231f20" stroke-width="1.75" fill="none"/>
<circle cx="570.78" cy="172.20" r="3.1" stroke="#231f20" stroke-width="1.75" fill="none"/>
<circle cx="569.73" cy="182.71" r="3.1" stroke="#231f20" stroke-width="1.75" fill="none"/>
<circle cx="556.04" cy="181.07" r="3.1" stroke="#231f20" stroke-width="1.75" fill="none"/>
<circle cx="570.15" cy="178.44" r="3.1" stroke="#231f20" stroke-width="1.75" fill="none"/>
<circle cx="571.39" cy="194.72" r="3.1" stroke="#231f20" stroke-width="1.75" fill="none"/>
<circle cx="577.23" cy="195.59" r="3.1" stroke="#231f20" stroke-width="1.75" fill="none"/>
<circle cx="548.87" cy="184.31" r="3.1" stroke="#231f20" stroke-width="1.75" fill="none"/>
<circle cx="554.65" cy="189.65" r="3.1" stroke="#231f20" stroke-width="1.75" fill="none"/>
<circle cx="562.06" cy="183.28" r="3.1" stroke="#231f20" stroke-width="1.75" fill="none"/>
<circle cx="565.87" cy="176.08" r="3.1" stroke="#231f20" stroke-width="1.75" fill="none"/>
<circle cx="562.29" cy="174.96" r="3.1" stroke="#231f20" stroke-width="1.75" fill="none"/>
<circle cx="581.78" cy="177.28" r="3.1" stroke="#231f20" stroke-width="1.75" fill="none"/>
<circle cx="561.51" cy="165.74" r="3.1" stroke="#231f20" stroke-width="1.75" fill="none"/>
<circle cx="546.86" cy="173.92" r="3.1" stroke="#231f20" stroke-width="1.75" fill="none"/>
<circle cx="569.17" cy="188.12" r="3.1" stroke="#231f20" stroke-width="1.75" fill="none"/>
<circle cx="564.12" cy="175.66" r="3.1" stroke="#231f20" stroke-width="1.75" fill="none"/>
<circle cx="579.52" cy="172.27" r="3.1" stroke="#231f20" stroke-width="1.75" fill="none"/>
<circle cx="552.96" cy="185.62" r="3.1" stroke="#231f20" stroke-width="1.75" fill="none"/>
<circle cx="551.59" cy="183.68" r="3.1" stroke="#231f20" stroke-width="1.75" fill="none"/>
<circle cx="570.88" cy="180.71" r="3.1" stroke="#231f20" stroke-width="1.75" fill="none"/>
<circle cx="565.36" cy="181.67" r="3.1" stroke="#231f20" stroke-width="1.75" fill="none"/>
<circle cx="549.37" cy="181.26" r="3.1" stroke="#231f20" stroke-width="1.75" fill="none"/>
<circle cx="545.22" cy="176.34" r="3.1" stroke="#231f20" stroke-width="1.75" fill="none"/>
<circle cx="563.40" cy="193.14" r="3.1" stroke="#231f20" stroke-width="1.75" fill="none"/>
<circle cx="547.91" cy="176.63" r="3.1" stroke="#231f20" stroke-width="1.75" fill="none"/>
<circle cx="563.58" cy="185.98" r="3.1" stroke="#231f20" stroke-width="1.75" fill="none"/>
<circle cx="553.31" cy="190.97" r="3.1" stroke="#231f20" stroke-width="1.75" fill="none"/>
<circle cx="559.37" cy="184.94" r="3.1" stroke="#231f20" stroke-width="1.75" fill="none"/>
<circle cx="577.80" cy="187.61" r="3.1" stroke="#231f20" stroke-width="1.75" fill="none"/>
<circle cx="562.64" cy="172.40" r="3.1" stroke="#231f20" stroke-width="1.75" fill="none"/>
<circle cx="554.90" cy="168.66" r="3.1" stroke="#231f20" stroke-width="1.75" fill="none"/>
<circle cx="581.27" cy="167.52" r="3.1" stroke="#231f20" stroke-width="1.75" fill="none"/>
<circle cx="535.92" cy="195.93" r="3.1" stroke="#231f20" stroke-width="1.75" fill="none"/>
<circle cx="573.97" cy="178.11" r="3.1" stroke="#231f20" stroke-width="1.75" fill="none"/>
<circle cx="569.63" cy="173.99" r="3.1" stroke="#231f20" stroke-width="1.75" fill="none"/>
<circle cx="555.65" cy="185.78" r="3.1" stroke="#231f20" stroke-width="1.75" fill="none"/>
<circle cx="565.24" cy="177.24" r="3.1" stroke="#231f20" stroke-width="1.75" fill="none"/>
<circle cx="577.40" cy="187.87" r="3.1" stroke="#231f20" stroke-width="1.75" fill="none"/>
<circle cx="562.72" cy="170.78" r="3.1" stroke="#231f20" stroke-width="1.75" fill="none"/>
<circle cx="562.70" cy="178.48" r="3.1" stroke="#231f20" stroke-width="1.75" fill="none"/>
<circle cx="560.59" cy="188.44" r="3.1" stroke="#231f20" stroke-width="1.75" fill="none"/>
<circle cx="555.65" cy="183.67" r="3.1" stroke="#231f20" stroke-width="1.75" fill="none"/>
<circle cx="569.23" cy="184.46" r="3.1" stroke="#231f20" stroke-width="1.75" fill="none"/>
<circle cx="584.08" cy="165.74" r="3.1" stroke="#231f20" stroke-width="1.75" fill="none"/>
<circle cx="560.70" cy="170.73" r="3.1" stroke="#231f20" stroke-width="1.75" fill="none"/>
<circle cx="520.00" cy="192.00" r="3.1" stroke="#231f20" stroke-width="1.75" fill="none"/>
<circle cx="526.00" cy="188.00" r="3.1" stroke="#231f20" stroke-width="1.75" fill="none"/>
<circle cx="531.00" cy="193.00" r="3.1" stroke="#231f20" stroke-width="1.75" fill="none"/>
<circle cx="537.00" cy="190.00" r="3.1" stroke="#231f20" stroke-width="1.75" fill="none"/>
<circle cx="543.00" cy="195.00" r="3.1" stroke="#231f20" stroke-width="1.75" fill="none"/>
<circle cx="548.00" cy="188.00" r="3.1" stroke="#231f20" stroke-width="1.75" fill="none"/>
<circle cx="555.00" cy="194.00" r="3.1" stroke="#231f20" stroke-width="1.75" fill="none"/>
<circle cx="562.00" cy="191.00" r="3.1" stroke="#231f20" stroke-width="1.75" fill="none"/>
<circle cx="568.00" cy="195.00" r="3.1" stroke="#231f20" stroke-width="1.75" fill="none"/>
<circle cx="574.00" cy="189.00" r="3.1" stroke="#231f20" stroke-width="1.75" fill="none"/>
<circle cx="580.00" cy="193.00" r="3.1" stroke="#231f20" stroke-width="1.75" fill="none"/>
<circle cx="586.00" cy="195.00" r="3.1" stroke="#231f20" stroke-width="1.75" fill="none"/>
<circle cx="663.50" cy="49.00" r="3.1" stroke="#231f20" stroke-width="1.75" fill="none"/>
<circle cx="734.00" cy="37.60" r="3.1" stroke="#231f20" stroke-width="1.75" fill="none"/>
<circle cx="754.60" cy="39.40" r="3.1" stroke="#231f20" stroke-width="1.75" fill="none"/>
<circle cx="736.60" cy="48.40" r="3.1" stroke="#231f20" stroke-width="1.75" fill="none"/>
<circle cx="732.50" cy="57.40" r="3.1" stroke="#231f20" stroke-width="1.75" fill="none"/>
<circle cx="732.50" cy="66.25" r="3.1" stroke="#231f20" stroke-width="1.75" fill="none"/>
<circle cx="786.30" cy="63.40" r="3.1" stroke="#231f20" stroke-width="1.75" fill="none"/>
<circle cx="745.60" cy="76.00" r="3.1" stroke="#231f20" stroke-width="1.75" fill="none"/>
<circle cx="688.40" cy="93.40" r="3.1" stroke="#231f20" stroke-width="1.75" fill="none"/>
<circle cx="766.60" cy="90.00" r="3.1" stroke="#231f20" stroke-width="1.75" fill="none"/>
<circle cx="730.25" cy="100.40" r="3.1" stroke="#231f20" stroke-width="1.75" fill="none"/>
<circle cx="721.80" cy="107.10" r="3.1" stroke="#231f20" stroke-width="1.75" fill="none"/>
<circle cx="716.00" cy="120.25" r="3.1" stroke="#231f20" stroke-width="1.75" fill="none"/>
<circle cx="662.20" cy="121.60" r="3.1" stroke="#231f20" stroke-width="1.75" fill="none"/>
<circle cx="730.25" cy="125.30" r="3.1" stroke="#231f20" stroke-width="1.75" fill="none"/>
<circle cx="737.20" cy="128.50" r="3.1" stroke="#231f20" stroke-width="1.75" fill="none"/>
<circle cx="739.60" cy="132.80" r="3.1" stroke="#231f20" stroke-width="1.75" fill="none"/>
<circle cx="738.10" cy="138.40" r="3.1" stroke="#231f20" stroke-width="1.75" fill="none"/>
<circle cx="778.40" cy="132.80" r="3.1" stroke="#231f20" stroke-width="1.75" fill="none"/>
<circle cx="695.00" cy="143.10" r="3.1" stroke="#231f20" stroke-width="1.75" fill="none"/>
<circle cx="702.50" cy="138.40" r="3.1" stroke="#231f20" stroke-width="1.75" fill="none"/>
<circle cx="703.40" cy="143.10" r="3.1" stroke="#231f20" stroke-width="1.75" fill="none"/>
<circle cx="713.40" cy="139.00" r="3.1" stroke="#231f20" stroke-width="1.75" fill="none"/>
<circle cx="729.70" cy="142.20" r="3.1" stroke="#231f20" stroke-width="1.75" fill="none"/>
<circle cx="734.40" cy="144.00" r="3.1" stroke="#231f20" stroke-width="1.75" fill="none"/>
<circle cx="749.40" cy="146.90" r="3.1" stroke="#231f20" stroke-width="1.75" fill="none"/>
<circle cx="711.00" cy="146.90" r="3.1" stroke="#231f20" stroke-width="1.75" fill="none"/>
<circle cx="686.00" cy="155.30" r="3.1" stroke="#231f20" stroke-width="1.75" fill="none"/>
<circle cx="703.40" cy="153.40" r="3.1" stroke="#231f20" stroke-width="1.75" fill="none"/>
<circle cx="708.00" cy="155.30" r="3.1" stroke="#231f20" stroke-width="1.75" fill="none"/>
<circle cx="720.30" cy="151.60" r="3.1" stroke="#231f20" stroke-width="1.75" fill="none"/>
<circle cx="724.00" cy="152.50" r="3.1" stroke="#231f20" stroke-width="1.75" fill="none"/>
<circle cx="732.50" cy="157.20" r="3.1" stroke="#231f20" stroke-width="1.75" fill="none"/>
<circle cx="736.25" cy="151.60" r="3.1" stroke="#231f20" stroke-width="1.75" fill="none"/>
<circle cx="699.10" cy="161.90" r="3.1" stroke="#231f20" stroke-width="1.75" fill="none"/>
<circle cx="706.25" cy="161.00" r="3.1" stroke="#231f20" stroke-width="1.75" fill="none"/>
<circle cx="721.25" cy="162.80" r="3.1" stroke="#231f20" stroke-width="1.75" fill="none"/>
<circle cx="726.90" cy="164.70" r="3.1" stroke="#231f20" stroke-width="1.75" fill="none"/>
<circle cx="783.10" cy="166.00" r="3.1" stroke="#231f20" stroke-width="1.75" fill="none"/>
<circle cx="689.00" cy="167.90" r="3.1" stroke="#231f20" stroke-width="1.75" fill="none"/>
<circle cx="686.60" cy="175.00" r="3.1" stroke="#231f20" stroke-width="1.75" fill="none"/>
<circle cx="687.50" cy="182.50" r="3.1" stroke="#231f20" stroke-width="1.75" fill="none"/>
<circle cx="681.00" cy="191.00" r="3.1" stroke="#231f20" stroke-width="1.75" fill="none"/>
<circle cx="686.60" cy="191.90" r="3.1" stroke="#231f20" stroke-width="1.75" fill="none"/>
<circle cx="692.20" cy="194.70" r="3.1" stroke="#231f20" stroke-width="1.75" fill="none"/>
<circle cx="739.60" cy="188.50" r="3.1" stroke="#231f20" stroke-width="1.75" fill="none"/>
<circle cx="726.00" cy="185.30" r="3.1" stroke="#231f20" stroke-width="1.75" fill="none"/>
<circle cx="724.00" cy="191.90" r="3.1" stroke="#231f20" stroke-width="1.75" fill="none"/>
<circle cx="712.38" cy="180.30" r="3.1" stroke="#231f20" stroke-width="1.75" fill="none"/>
<circle cx="697.32" cy="187.57" r="3.1" stroke="#231f20" stroke-width="1.75" fill="none"/>
<circle cx="710.83" cy="182.99" r="3.1" stroke="#231f20" stroke-width="1.75" fill="none"/>
<circle cx="709.73" cy="193.38" r="3.1" stroke="#231f20" stroke-width="1.75" fill="none"/>
<circle cx="716.89" cy="190.51" r="3.1" stroke="#231f20" stroke-width="1.75" fill="none"/>
<circle cx="705.44" cy="176.31" r="3.1" stroke="#231f20" stroke-width="1.75" fill="none"/>
<circle cx="698.44" cy="178.06" r="3.1" stroke="#231f20" stroke-width="1.75" fill="none"/>
<circle cx="709.52" cy="180.90" r="3.1" stroke="#231f20" stroke-width="1.75" fill="none"/>
<circle cx="716.49" cy="177.00" r="3.1" stroke="#231f20" stroke-width="1.75" fill="none"/>
<circle cx="710.56" cy="186.79" r="3.1" stroke="#231f20" stroke-width="1.75" fill="none"/>
<circle cx="693.18" cy="194.96" r="3.1" stroke="#231f20" stroke-width="1.75" fill="none"/>
<circle cx="709.55" cy="185.42" r="3.1" stroke="#231f20" stroke-width="1.75" fill="none"/>
<circle cx="698.24" cy="174.88" r="3.1" stroke="#231f20" stroke-width="1.75" fill="none"/>
<circle cx="724.47" cy="175.62" r="3.1" stroke="#231f20" stroke-width="1.75" fill="none"/>
<circle cx="704.26" cy="184.26" r="3.1" stroke="#231f20" stroke-width="1.75" fill="none"/>
<circle cx="722.40" cy="182.47" r="3.1" stroke="#231f20" stroke-width="1.75" fill="none"/>
<circle cx="716.84" cy="171.45" r="3.1" stroke="#231f20" stroke-width="1.75" fill="none"/>
<circle cx="711.17" cy="194.00" r="3.1" stroke="#231f20" stroke-width="1.75" fill="none"/>
<circle cx="707.25" cy="174.79" r="3.1" stroke="#231f20" stroke-width="1.75" fill="none"/>
<circle cx="703.99" cy="175.64" r="3.1" stroke="#231f20" stroke-width="1.75" fill="none"/>
<circle cx="715.87" cy="181.86" r="3.1" stroke="#231f20" stroke-width="1.75" fill="none"/>
<circle cx="703.43" cy="186.93" r="3.1" stroke="#231f20" stroke-width="1.75" fill="none"/>
<circle cx="697.66" cy="167.87" r="3.1" stroke="#231f20" stroke-width="1.75" fill="none"/>
<circle cx="723.88" cy="179.42" r="3.1" stroke="#231f20" stroke-width="1.75" fill="none"/>
<circle cx="706.06" cy="184.67" r="3.1" stroke="#231f20" stroke-width="1.75" fill="none"/>
<circle cx="699.94" cy="172.95" r="3.1" stroke="#231f20" stroke-width="1.75" fill="none"/>
<circle cx="706.18" cy="176.85" r="3.1" stroke="#231f20" stroke-width="1.75" fill="none"/>
<circle cx="696.85" cy="172.66" r="3.1" stroke="#231f20" stroke-width="1.75" fill="none"/>
<circle cx="715.49" cy="184.57" r="3.1" stroke="#231f20" stroke-width="1.75" fill="none"/>
<circle cx="719.01" cy="173.80" r="3.1" stroke="#231f20" stroke-width="1.75" fill="none"/>
<circle cx="713.95" cy="179.72" r="3.1" stroke="#231f20" stroke-width="1.75" fill="none"/>
<circle cx="692.49" cy="184.03" r="3.1" stroke="#231f20" stroke-width="1.75" fill="none"/>
<circle cx="693.08" cy="184.81" r="3.1" stroke="#231f20" stroke-width="1.75" fill="none"/>
<circle cx="703.82" cy="178.48" r="3.1" stroke="#231f20" stroke-width="1.75" fill="none"/>
<circle cx="712.33" cy="183.58" r="3.1" stroke="#231f20" stroke-width="1.75" fill="none"/>
<circle cx="700.74" cy="190.88" r="3.1" stroke="#231f20" stroke-width="1.75" fill="none"/>
<circle cx="714.22" cy="172.78" r="3.1" stroke="#231f20" stroke-width="1.75" fill="none"/>
<circle cx="692.14" cy="180.16" r="3.1" stroke="#231f20" stroke-width="1.75" fill="none"/>
<circle cx="706.48" cy="187.60" r="3.1" stroke="#231f20" stroke-width="1.75" fill="none"/>
<circle cx="698.28" cy="172.60" r="3.1" stroke="#231f20" stroke-width="1.75" fill="none"/>
<circle cx="712.26" cy="180.92" r="3.1" stroke="#231f20" stroke-width="1.75" fill="none"/>
<circle cx="717.36" cy="189.80" r="3.1" stroke="#231f20" stroke-width="1.75" fill="none"/>
<circle cx="708.76" cy="173.90" r="3.1" stroke="#231f20" stroke-width="1.75" fill="none"/>
<circle cx="707.22" cy="180.98" r="3.1" stroke="#231f20" stroke-width="1.75" fill="none"/>
<circle cx="702.81" cy="184.60" r="3.1" stroke="#231f20" stroke-width="1.75" fill="none"/>
<circle cx="709.22" cy="182.17" r="3.1" stroke="#231f20" stroke-width="1.75" fill="none"/>
<circle cx="720.75" cy="191.31" r="3.1" stroke="#231f20" stroke-width="1.75" fill="none"/>
<circle cx="719.81" cy="183.41" r="3.1" stroke="#231f20" stroke-width="1.75" fill="none"/>
<circle cx="709.59" cy="185.05" r="3.1" stroke="#231f20" stroke-width="1.75" fill="none"/>
<circle cx="711.26" cy="173.92" r="3.1" stroke="#231f20" stroke-width="1.75" fill="none"/>
<circle cx="712.00" cy="188.06" r="3.1" stroke="#231f20" stroke-width="1.75" fill="none"/>
<circle cx="704.28" cy="170.82" r="3.1" stroke="#231f20" stroke-width="1.75" fill="none"/>
<circle cx="713.80" cy="173.75" r="3.1" stroke="#231f20" stroke-width="1.75" fill="none"/>
<circle cx="693.86" cy="178.09" r="3.1" stroke="#231f20" stroke-width="1.75" fill="none"/>
<circle cx="694.12" cy="183.04" r="3.1" stroke="#231f20" stroke-width="1.75" fill="none"/>
<circle cx="703.28" cy="180.88" r="3.1" stroke="#231f20" stroke-width="1.75" fill="none"/>
<circle cx="719.23" cy="189.80" r="3.1" stroke="#231f20" stroke-width="1.75" fill="none"/>
<circle cx="703.65" cy="170.20" r="3.1" stroke="#231f20" stroke-width="1.75" fill="none"/>
<circle cx="716.86" cy="193.55" r="3.1" stroke="#231f20" stroke-width="1.75" fill="none"/>
<circle cx="714.95" cy="185.71" r="3.1" stroke="#231f20" stroke-width="1.75" fill="none"/>
<line x1="321.00" y1="154.40" x2="429.00" y2="181.30" stroke="#fa0d0d" stroke-width="3.4" stroke-linecap="round"/>
<line x1="498.40" y1="114.30" x2="599.20" y2="196.80" stroke="#fa0d0d" stroke-width="3.4" stroke-linecap="round"/>
<line x1="662.75" y1="192.70" x2="792.00" y2="112.90" stroke="#fa0d0d" stroke-width="3.4" stroke-linecap="round"/>
<text x="0.80" y="323.80" font-size="20" text-anchor="start" font-weight="bold" font-style="normal" fill="#231f20" >C</text>
<text x="63.80" y="333.80" font-size="13.5" text-anchor="middle" font-weight="normal" font-style="normal" fill="#231f20" >2 s</text>
<line x1="35.30" y1="340.40" x2="91.80" y2="340.40" stroke="#231f20" stroke-width="1.5" />
<polyline points="5.60,353.90 6.10,369.56 6.60,368.21 7.10,359.68 7.60,351.00 8.10,360.20 8.60,373.73 9.10,374.25 9.60,361.53 10.10,359.61 10.60,360.15 11.10,363.40 11.60,364.60 12.10,355.63 12.60,349.98 13.10,358.16 13.60,357.63 14.10,360.27 14.60,354.91 15.10,353.05 15.60,349.12 16.10,361.40 16.60,364.65 17.10,365.08 17.60,354.25 18.10,353.78 18.60,356.47 19.10,371.21 19.60,373.44 20.10,363.31 20.60,355.21 21.10,352.53 21.60,352.67 22.10,362.66 22.60,371.34 23.10,358.71 23.60,361.86 24.10,344.83 24.60,351.76 25.10,359.09 25.60,362.57 26.10,354.10 26.60,352.63 27.10,351.97 27.60,362.26 28.10,368.00 28.60,364.95 29.10,360.40 29.60,354.40 30.10,362.15 30.60,367.48 31.10,361.00 31.60,348.53 32.10,357.02 32.60,366.97 33.10,357.20 33.60,346.79 34.10,349.28 34.60,346.89 35.10,355.49 35.60,361.73 36.10,358.79 36.60,344.23 37.10,355.01 37.60,349.89 38.10,358.44 38.60,368.35 39.10,364.25 39.60,350.93 40.10,353.83 40.60,357.49 41.10,371.81 41.60,369.36 42.10,360.66 42.60,351.64 43.10,352.21 43.60,354.23 44.10,367.21 44.60,349.38 45.10,349.49 45.60,350.12 46.10,350.83 46.60,369.13 47.10,362.79 47.60,367.36 48.10,356.96 48.60,355.54 49.10,363.44 49.60,364.36 50.10,370.61 50.60,358.15 51.10,352.52 51.60,356.16 52.10,355.42 52.60,360.64 53.10,363.44 53.60,359.46 54.10,353.58 54.60,352.46 55.10,361.71 55.60,369.27 56.10,354.92 56.60,355.02 57.10,351.28 57.60,357.65 58.10,363.85 58.60,364.63 59.10,350.04 59.60,353.49 60.10,361.95 60.60,365.54 61.10,363.66 61.60,360.36 62.10,351.98 62.60,362.63 63.10,364.14 63.60,369.45 64.10,360.89 64.60,351.67 65.10,351.34 65.60,354.26 66.10,356.75 66.60,362.38 67.10,355.17 67.60,345.81 68.10,355.62 68.60,369.52 69.10,365.95 69.60,359.35 70.10,358.22 70.60,355.98 71.10,361.14 71.60,374.71 72.10,360.26 72.60,352.21 73.10,354.51 73.60,358.90 74.10,354.28 74.60,370.46 75.10,361.00 75.60,347.65 76.10,351.63 76.60,356.06 77.10,355.60 77.60,362.41 78.10,355.06 78.60,349.71 79.10,356.30 79.60,361.19 80.10,361.93 80.60,358.95 81.10,357.16 81.60,355.52 82.10,353.50 82.60,363.46 83.10,368.45 83.60,360.84 84.10,355.98 84.60,355.15 85.10,353.76 85.60,362.65 86.10,360.29 86.60,354.71 87.10,352.18 87.60,344.88 88.10,356.20 88.60,356.68 89.10,359.45 89.60,358.85 90.10,353.50 90.60,354.66 91.10,362.84 91.60,365.12 92.10,353.82 92.60,354.68 93.10,359.69 93.60,364.72 94.10,365.78 94.60,358.39 95.10,356.16 95.60,356.27 96.10,359.61 96.60,364.53 97.10,351.83 97.60,348.91 98.10,350.02 98.60,361.16 99.10,364.68 99.60,348.78 100.10,349.24 100.60,350.84 101.10,362.18 101.60,366.90 102.10,359.84 102.60,355.57 103.10,353.85 103.60,362.43 104.10,365.15 104.60,369.26 105.10,351.64 105.60,354.56 106.10,353.05 106.60,360.63 107.10,362.11 107.60,362.30 108.10,350.09 108.60,351.21 109.10,352.86 109.60,358.48 110.10,361.54 110.60,363.19 111.10,358.29 111.60,354.70 112.10,361.35 112.60,365.53 113.10,361.14 113.60,358.32 114.10,355.63 114.60,357.26 115.10,361.38 115.60,362.23 116.10,360.70 116.60,355.31 117.10,355.04 117.60,356.61 118.10,359.08 118.60,360.31 119.10,358.47 119.60,354.26 120.10,355.71 120.60,355.51 121.10,362.30 121.60,360.43 122.10,360.52 122.60,357.22 123.10,358.36 123.60,356.39 124.10,358.25 124.60,365.36 125.10,363.91 125.60,356.23 126.10,356.83 126.60,359.48 127.10,361.09 127.60,359.68 128.10,359.55 128.60,354.41 129.10,354.26 129.60,355.37 130.10,362.36 130.60,362.17 131.10,358.22 131.60,357.68 132.10,353.55 132.60,360.25 133.10,362.77 133.60,358.81 134.10,356.08 134.60,355.16 135.10,359.88 135.60,365.15 136.10,360.95 136.60,358.45 137.10,355.20 137.60,357.74 138.10,364.61 138.60,357.83 139.10,352.77 139.60,356.65 140.10,355.68 140.60,359.63 141.10,360.29 141.60,357.39 142.10,356.15 142.60,356.21 143.10,359.74 143.60,358.24 144.10,363.65 144.60,361.53 145.10,355.56 145.60,356.25 146.10,356.90 146.60,361.16 147.10,361.36 147.60,356.20 148.10,361.68 148.60,357.30 149.10,357.80 149.60,355.32 150.10,362.74 150.60,358.81 151.10,356.83 151.60,356.28 152.10,357.61 152.60,356.70 153.10,362.06 153.60,358.89 154.10,338.00 154.60,354.90 155.10,361.84 155.60,361.69 156.10,360.66 156.60,372.00 157.10,355.35 157.60,357.02 158.10,362.01 158.60,359.25 159.10,359.02 159.60,352.99 160.10,354.04 160.60,356.64 161.10,359.92 161.60,358.03 162.10,354.72 162.60,354.85 163.10,357.40 163.60,348.50 164.10,364.19 164.60,353.69 165.10,356.61 165.60,360.47 166.10,362.18 166.60,361.66 167.10,359.21 167.60,357.18 168.10,358.56 168.60,361.54 169.10,359.98 169.60,362.73 170.10,357.76 170.60,352.15 171.10,354.50 171.60,360.64 172.10,360.76" fill="none" stroke="#111" stroke-width="1.45" stroke-linejoin="round" />
<polyline points="172.10,360.76 172.50,356.15 173.20,327.60 173.80,351.99 174.20,356.90 174.80,390.33 175.50,351.58 176.10,360.95 176.90,353.55 177.60,326.00 178.20,350.02 178.60,359.75 179.20,442.50 179.90,354.36 180.50,357.61 181.24,353.13 181.94,333.97 182.54,352.72 182.94,352.92 183.54,402.25 184.24,350.61 184.84,357.50 185.17,355.50 185.87,328.61 186.47,353.39 186.87,354.13 187.47,386.03 188.17,347.10 188.77,357.86 189.39,356.61 190.09,346.00 190.69,352.35 191.09,357.86 191.69,399.79 192.39,348.43 192.99,360.66 193.91,355.67 194.61,331.75 195.21,349.33 195.61,358.52 196.21,407.60 196.91,353.53 197.51,357.46 198.25,353.73 198.95,344.29 199.55,353.29 199.95,359.19 200.55,396.34 201.25,354.72 201.85,363.08 202.54,357.08 203.24,338.88 203.84,347.65 204.24,356.57 204.84,395.90 205.54,356.63 206.14,358.63 207.31,350.13 208.01,339.60 208.61,349.80 209.01,352.87 209.61,392.29 210.31,352.17 210.91,362.21 211.59,351.39 212.29,334.33 212.89,348.50 213.29,358.16 213.89,403.90 214.59,346.50 215.19,361.04 216.17,355.45 216.87,347.83 217.47,345.85 217.87,355.90 218.47,396.82 219.17,356.56 219.77,357.73 220.28,354.13 220.98,339.79 221.58,353.81 221.98,358.65 222.58,392.59 223.28,353.08 223.88,356.58 224.45,356.97 225.15,330.38 225.75,348.56 226.15,352.83 226.75,389.33 227.45,349.90 228.05,362.64 228.75,354.76 229.45,333.57 230.05,353.89 230.45,354.48 231.05,395.41 231.75,351.52 232.35,363.12 233.08,351.57 233.78,329.57 234.38,352.29 234.78,359.47 235.38,399.42 236.08,347.49 236.68,356.51 237.20,350.87 237.90,333.61 238.50,345.09 238.90,353.15 239.50,424.00 240.20,349.66 240.80,360.54 241.59,353.46 242.29,332.46 242.89,347.32 243.29,355.47 243.89,386.49 244.59,349.56 245.19,361.56 245.92,353.70 246.62,348.95 247.22,345.39 247.62,354.92 248.22,388.70 248.92,357.96 249.52,362.80 249.81,355.02 250.51,340.00 251.11,346.15 251.51,355.22 252.11,400.25 252.81,351.39 253.41,358.12 253.75,350.08 254.45,345.81 255.05,351.84 255.45,354.52 256.05,411.81 256.75,348.34 257.35,357.24 258.46,355.53 259.16,328.65 259.76,353.75 260.16,357.34 260.76,404.87 261.46,346.32 262.06,356.91 262.82,350.10 263.52,334.59 264.12,346.96 264.52,352.26 265.12,387.65 265.82,351.70 266.42,357.64 267.54,350.14 268.24,348.88 268.84,351.99 269.24,358.07 269.84,386.92 270.54,347.30 271.14,361.55 271.46,354.68 272.16,347.38 272.76,354.22 273.16,354.81 273.76,428.00 274.46,350.05 275.06,359.29 276.03,356.71 276.73,337.90 277.33,352.67 277.73,355.76 278.33,385.30 279.03,348.79 279.63,356.44 280.58,350.78 281.28,345.09 281.88,349.84 282.28,357.50 282.88,384.80 283.58,346.04 284.18,357.18 285.12,350.05 285.82,347.79 286.42,351.97 286.82,352.02 287.42,385.31 288.12,357.36 288.72,360.17 289.27,353.62 289.97,337.29 290.57,351.86 290.97,356.73 291.57,398.50 292.27,348.38 292.87,363.28 293.64,351.74 294.34,334.43 294.94,353.42 295.34,353.11 295.94,388.42 296.64,355.12 297.24,357.35 298.04,352.45 298.74,342.84 299.34,347.54 299.74,356.77 300.34,405.27 301.04,353.08 301.64,362.40 302.49,357.93 303.19,343.82 303.79,345.14 304.19,352.11 304.79,392.49 305.49,347.98 306.09,357.28 307.08,352.70 307.78,339.06 308.38,346.94 308.78,356.38 309.38,398.74 310.08,353.57 310.68,361.93 311.49,351.59 312.19,346.48 312.79,352.17 313.19,354.22 313.79,383.97 314.49,355.92 315.09,358.16 315.93,356.45 316.63,327.70 317.23,348.79 317.63,358.46 318.23,393.28 318.93,346.81 319.53,359.16 320.71,350.49 321.41,339.50 322.01,354.88 322.41,355.18 323.01,401.70 323.71,353.18 324.31,357.61 325.28,356.47 325.98,337.13 326.58,351.77 326.98,353.30 327.58,383.86 328.28,350.60 328.88,362.61 329.94,352.26 330.64,347.78 331.24,354.81 331.64,355.34 332.24,397.28 332.94,351.75 333.54,362.80 333.92,351.91 334.62,345.98 335.22,347.36 335.62,357.68 336.22,390.79 336.92,348.64 337.52,357.17 337.84,350.11 338.54,340.14 339.14,351.98 339.54,357.44 340.14,408.10 340.84,347.68 341.44,356.89 341.68,350.16 342.38,345.18 342.98,352.89 343.38,355.49 343.98,401.43 344.68,357.88 345.28,360.16 346.24,356.78 346.94,338.44 347.54,353.94 347.94,354.59 348.54,383.60 349.24,355.24 349.84,360.70 350.05,357.78 350.75,348.82 351.35,347.30 351.75,357.36 352.35,392.07 353.05,351.32 353.65,356.53 354.35,352.52 355.05,347.73 355.65,352.91 356.05,353.90 356.65,405.23 357.35,349.44 357.95,357.88" fill="none" stroke="#111" stroke-width="1.15" stroke-linejoin="round" />
<rect x="112.8" y="329.8" width="58.2" height="58.2" fill="none" stroke="#29aae1" stroke-width="1.6" stroke-dasharray="8 5.2"/>
<text x="0.80" y="442.00" font-size="20" text-anchor="start" font-weight="bold" font-style="normal" fill="#231f20" >E</text>
<text x="110.00" y="460.00" font-size="13.5" text-anchor="middle" font-weight="normal" font-style="normal" fill="#231f20" >1s</text>
<line x1="60.80" y1="465.00" x2="162.50" y2="465.00" stroke="#231f20" stroke-width="1.5" />
<line x1="204.80" y1="441.50" x2="204.80" y2="574.00" stroke="#e8136f" stroke-width="3.2" stroke-dasharray="6.2 3.8"/>
<polyline points="4.10,486.70 4.40,521.97 4.70,483.05 5.00,530.77 5.30,478.65 5.60,525.92 5.90,488.80 6.20,530.53 6.50,490.39 6.80,526.42 7.10,478.04 7.40,525.72 7.70,477.87 8.00,522.47 8.30,489.48 8.60,527.20 8.90,483.44 9.20,530.12 9.50,480.18 9.80,521.85 10.10,490.16 10.40,530.70 10.70,479.48 11.00,527.45 11.30,486.19 11.60,521.65 11.90,484.38 12.20,530.78 12.50,473.34 12.80,527.96 13.10,483.97 13.40,527.66 13.70,478.56 14.00,525.72 14.30,478.43 14.60,527.05 14.90,486.61 15.20,527.90 15.50,483.15 15.80,523.30 16.10,484.71 16.40,531.15 16.70,483.82 17.00,521.18 17.30,489.46 17.60,525.97 17.90,488.90 18.20,522.62 18.50,486.21 18.80,527.02 19.10,488.34 19.40,526.90 19.70,483.40 20.00,522.21 20.30,490.89 20.60,529.04 20.90,486.11 21.20,527.77 21.50,484.13 21.80,530.78 22.10,479.16 22.40,525.93 22.70,486.06 23.00,522.18 23.30,489.17 23.60,528.24 23.90,487.23 24.20,531.90 24.50,477.23 24.80,524.20 25.10,486.11 25.40,524.37 25.70,487.28 26.00,521.20 26.30,490.11 26.60,524.66 26.90,480.50 27.20,524.80 27.50,488.80 27.80,521.72 28.10,486.63 28.40,531.01 28.70,485.99 29.00,522.62 29.30,488.84 29.60,530.98 29.90,487.91 30.20,528.95 30.50,487.86 30.80,521.45 31.10,486.76 31.40,521.18 31.70,485.67 32.00,521.06 32.30,487.72 32.60,527.90 32.90,483.85 33.20,522.62 33.50,484.54 33.80,536.75 34.10,490.81 34.40,526.19 34.70,487.18 35.00,525.44 35.30,485.05 35.60,522.38 35.90,476.72 36.20,529.26 36.50,489.81 36.80,529.38 37.10,485.40 37.40,527.83 37.70,490.21 38.00,527.14 38.30,478.22 38.60,522.73 38.90,486.93 39.20,526.86 39.50,484.67 39.80,524.23 40.10,487.55 40.40,522.30 40.70,485.60 41.00,524.81 41.30,488.69 41.60,521.96 41.90,485.70 42.20,525.25 42.50,490.07 42.80,522.48 43.10,479.87 43.40,524.29 43.70,485.59 44.00,531.58 44.30,485.28 44.60,532.60 44.90,472.82 45.20,521.67 45.50,490.96 45.80,523.77 46.10,475.45 46.40,523.51 46.70,485.56 47.00,522.28 47.30,489.95 47.60,521.07 47.90,483.16 48.20,527.06 48.50,490.27 48.80,522.91 49.10,486.61 49.40,522.62 49.70,488.98 50.00,525.21 50.30,477.30 50.60,526.45 50.90,473.05 51.20,524.80 51.50,484.73 51.80,525.80 52.10,489.77 52.40,527.55 52.70,481.66 53.00,523.79 53.30,488.06 53.60,524.89 53.90,478.48 54.20,527.22 54.50,490.75 54.80,524.72 55.10,487.32 55.40,527.82 55.70,483.45 56.00,525.07 56.30,489.66 56.60,521.91 56.90,483.29 57.20,526.46 57.50,477.21 57.80,522.01 58.10,484.60 58.40,524.66 58.70,489.76 59.00,527.46 59.30,486.03 59.60,523.78 59.90,486.85 60.20,526.94 60.50,483.76 60.80,524.64 61.10,487.90 61.40,528.99 61.70,483.47 62.00,523.18 62.30,479.25 62.60,521.86 62.90,484.80 63.20,525.45 63.50,485.96 63.80,523.26 64.10,481.19 64.40,528.10 64.70,489.72 65.00,523.51 65.30,480.94 65.60,525.96 65.90,483.47 66.20,524.56 66.50,485.91 66.80,527.28 67.10,487.12 67.40,521.24 67.70,485.50 68.00,523.01 68.30,487.26 68.60,521.73 68.90,489.57 69.20,522.56 69.50,482.68 69.80,523.85 70.10,484.46 70.40,526.59 70.70,479.05 71.00,523.73 71.30,490.79 71.60,527.86 71.90,483.24 72.20,530.89 72.50,484.61 72.80,523.66 73.10,490.75 73.40,527.18 73.70,475.72 74.00,527.23 74.30,486.78 74.60,524.32 74.90,488.15 75.20,525.77 75.50,486.71 75.80,525.44 76.10,483.71 76.40,526.45 76.70,483.59 77.00,525.11 77.30,484.20 77.60,525.88 77.90,490.52 78.20,521.09 78.50,482.76 78.80,525.89 79.10,482.11 79.40,524.58 79.70,487.15 80.00,523.61 80.30,484.30 80.60,525.87 80.90,486.82 81.20,523.28 81.50,490.27 81.80,522.79 82.10,487.87 82.40,521.49 82.70,486.61 83.00,529.05 83.30,489.65 83.60,531.87 83.90,489.93 84.20,524.37 84.50,483.43 84.80,532.55 85.10,483.77 85.40,526.71 85.70,485.98 86.00,525.96 86.30,488.95 86.60,524.76 86.90,488.72 87.20,522.72 87.50,485.04 87.80,526.09 88.10,483.17 88.40,521.94 88.70,487.80 89.00,523.72 89.30,473.68 89.60,526.66 89.90,476.59 90.20,523.54 90.50,485.94 90.80,524.13 91.10,490.50 91.40,522.80 91.70,481.56 92.00,522.87 92.30,473.18 92.60,522.06 92.90,488.45 93.20,521.50 93.50,484.03 93.80,525.83 94.10,486.83 94.40,522.97 94.70,484.21 95.00,522.82 95.30,490.13 95.60,525.52 95.90,483.01 96.20,527.12 96.50,487.18 96.80,527.61 97.10,484.31 97.40,521.13 97.70,478.80 98.00,521.04 98.30,489.80 98.60,521.37 98.90,484.52 99.20,525.51 99.50,486.49 99.80,522.47 100.10,477.51 100.40,521.26 100.70,484.48 101.00,522.92 101.30,489.29 101.60,522.87 101.90,480.86 102.20,526.97 102.50,488.58 102.80,527.48 103.10,484.42 103.40,523.99 103.70,477.35 104.00,522.00 104.30,488.51 104.60,523.22 104.90,486.58 105.20,522.38 105.50,486.54 105.80,522.45 106.10,486.77 106.40,526.21 106.70,487.98 107.00,521.95 107.30,483.56 107.60,529.38 107.90,486.30 108.20,527.78 108.50,488.13 108.80,524.60 109.10,476.31 109.40,521.34 109.70,482.56 110.00,527.90 110.30,485.90 110.60,525.66 110.90,484.46 111.20,528.24 111.50,485.11 111.80,522.88 112.10,486.18 112.40,530.03 112.70,479.62 113.00,530.37 113.30,484.26 113.60,526.26 113.90,485.86 114.20,526.14 114.50,490.60 114.80,523.39 115.10,483.13 115.40,521.85 115.70,485.83 116.00,525.43 116.30,486.86 116.60,527.48 116.90,485.95 117.20,527.94 117.50,478.03 117.80,523.97 118.10,486.71 118.40,523.71 118.70,485.59 119.00,524.82 119.30,483.48 119.60,526.81 119.90,480.36 120.20,525.05 120.50,488.42 120.80,525.16 121.10,490.36 121.40,533.05 121.70,489.81 122.00,524.50 122.30,488.30 122.60,523.75 122.90,476.37 123.20,526.52 123.50,489.82 123.80,522.58 124.10,485.24 124.40,521.01 124.70,488.23 125.00,528.84 125.30,484.75 125.60,521.22 125.90,486.73 126.20,523.53 126.50,483.83 126.80,522.73 127.10,487.50 127.40,524.80 127.70,483.41 128.00,524.50 128.30,483.85 128.60,528.26 128.90,490.83 129.20,531.03 129.50,484.74 129.80,526.17 130.10,487.33 130.40,529.19 130.70,486.62 131.00,521.18 131.30,487.20 131.60,521.58 131.90,481.88 132.20,523.21 132.50,484.97 132.80,531.01 133.10,490.27 133.40,521.85 133.70,489.04 134.00,525.61 134.30,484.60 134.60,530.36 134.90,479.62 135.20,527.56 135.50,486.96 135.80,527.12 136.10,483.73 136.40,523.32 136.70,484.48 137.00,525.12 137.30,486.96 137.60,525.08 137.90,488.76 138.20,521.14 138.50,483.78 138.80,526.37 139.10,487.87 139.40,522.51 139.70,489.00 140.00,531.87 140.30,490.67 140.60,525.38 140.90,490.69 141.20,521.44 141.50,488.41 141.80,525.10 142.10,488.46 142.40,527.78 142.70,489.21 143.00,526.30 143.30,486.99 143.60,522.39 143.90,488.82 144.20,521.46 144.50,488.18 144.80,522.07 145.10,488.83 145.40,522.03 145.70,482.81 146.00,522.22 146.30,489.36 146.60,525.02 146.90,480.92 147.20,527.13 147.50,483.83 147.80,532.42 148.10,489.63 148.40,527.41 148.70,485.38 149.00,528.37 149.30,482.36 149.60,523.66 149.90,486.01 150.20,536.29 150.50,485.77 150.80,524.51 151.10,487.39 151.40,527.94 151.70,487.38 152.00,525.22 152.30,485.17 152.60,523.95 152.90,487.59 153.20,527.45 153.50,483.28 153.80,525.02 154.10,485.83 154.40,521.65 154.70,487.18 155.00,526.92 155.30,489.03 155.60,524.54 155.90,484.87 156.20,527.07 156.50,489.41 156.80,525.09 157.10,490.86 157.40,521.50 157.70,487.76 158.00,523.84 158.30,487.78 158.60,527.17 158.90,488.39 159.20,521.62 159.50,488.53 159.80,521.27 160.10,484.32 160.40,524.53 160.70,490.46 161.00,526.37 161.30,483.20 161.60,521.83 161.90,485.43 162.20,529.14 162.50,490.46 162.80,525.64 163.10,486.69 163.40,527.34 163.70,489.31 164.00,530.67 164.30,483.50 164.60,524.24 164.90,484.66 165.20,527.43 165.50,488.30 165.80,525.48 166.10,488.56 166.40,525.26 166.70,487.40 167.00,530.12 167.30,474.04 167.60,523.12 167.90,489.83 168.20,529.19 168.50,486.36 168.80,527.15 169.10,487.07 169.40,526.76 169.70,489.34 170.00,525.42 170.30,487.57 170.60,525.93 170.90,485.42 171.20,528.94 171.50,485.32 171.80,523.72 172.10,483.43 172.40,522.68 172.70,486.74 173.00,530.97 173.30,483.34 173.60,522.97 173.90,476.21 174.20,523.89 174.50,488.73 174.80,527.33 175.10,490.70 175.40,535.18 175.70,488.60 176.00,527.87 176.30,486.39 176.60,526.59 176.90,486.16 177.20,521.42 177.50,490.16 177.80,521.83 178.10,484.23 178.40,530.25 178.70,484.90 179.00,529.87 179.30,486.52 179.60,527.73 179.90,474.41 180.20,527.23 180.50,482.99 180.80,523.52 181.10,478.90 181.40,526.53 181.70,486.09 182.00,525.03 182.30,472.28 182.60,521.62 182.90,490.64 183.20,525.69 183.50,485.21 183.80,523.81 184.10,490.69 184.40,522.93 184.70,490.38 185.00,527.86 185.30,489.64 185.60,525.86 185.90,490.97 186.20,526.36 186.50,490.03 186.80,532.39 187.10,473.70 187.40,523.71 187.70,485.44 188.00,524.66 188.30,486.76 188.60,523.68 188.90,489.09 189.20,521.41 189.50,486.47 189.80,530.73 190.10,488.82 190.40,525.30 190.70,478.73 191.00,522.73 191.30,485.63 191.60,524.59 191.90,490.23 192.20,527.25 192.50,488.77 192.80,522.11 193.10,487.31 193.40,527.90 193.70,485.17 194.00,526.55 194.30,483.43 194.60,524.93 194.90,487.59 195.20,526.47 195.50,480.95 195.80,524.08 196.10,487.33 196.40,522.14 196.70,484.13 197.00,530.75 197.30,489.57 197.60,522.07 197.90,484.76 198.20,523.39 198.50,477.63 198.80,529.14 199.10,482.60 199.40,524.63 199.70,480.22 200.00,525.67 200.30,489.90 200.60,523.61 200.90,483.73 201.20,531.60 201.50,480.39 201.80,526.45 202.10,485.19 202.40,521.59 202.70,487.64 203.00,523.39 203.30,490.49 203.60,522.50 203.90,479.45 204.20,523.55 204.50,487.49 204.80,522.92 205.10,488.62 205.40,521.03 205.70,486.78 206.00,527.44 206.30,490.19 206.60,521.49 206.90,485.47 207.20,524.56 207.50,483.53 207.80,525.67 208.10,489.31 208.40,524.18 208.70,484.31 209.00,524.36 209.30,488.52 209.60,522.66 209.90,483.25 210.20,526.63 210.50,484.50 210.80,524.41 211.10,485.15 211.40,525.81 211.70,490.74 212.00,527.19 212.30,488.85 212.60,531.16 212.90,490.24 213.20,524.79 213.50,488.23 213.80,526.01 214.10,490.27 214.40,527.65 214.70,488.79 215.00,523.79 215.30,485.70 215.60,527.11 215.90,486.92 216.20,523.09 216.50,489.90 216.80,526.59 217.10,488.99 217.40,527.59 217.70,481.55 218.00,530.56 218.30,488.56 218.60,521.80 218.90,487.71 219.20,530.33 219.50,486.16 219.80,526.70 220.10,486.64 220.40,525.65 220.70,486.05 221.00,524.42 221.30,478.23 221.60,524.95 221.90,484.40 222.20,526.51 222.50,486.82 222.80,525.11 223.10,482.23 223.40,526.63 223.70,485.46 224.00,526.94 224.30,486.30 224.60,522.92 224.90,484.34 225.20,522.32 225.50,489.08 225.80,523.01 226.10,486.68 226.40,523.90 226.70,488.68 227.00,521.67 227.30,485.62 227.60,527.33 227.90,483.17 228.20,525.60 228.50,485.75 228.80,522.24 229.10,488.69 229.40,535.11 229.70,484.85 230.00,527.79 230.30,476.63 230.60,523.94 230.90,488.57 231.20,524.25 231.50,490.82 231.80,536.09 232.10,487.48 232.40,535.38 232.70,486.99 233.00,524.50 233.30,489.22 233.60,526.74 233.90,490.25 234.20,525.85 234.50,488.57 234.80,525.89 235.10,483.09 235.40,528.29 235.70,480.62 236.00,521.41 236.30,486.57 236.60,525.94 236.90,487.07 237.20,521.34 237.50,479.62 237.80,524.54 238.10,484.01 238.40,525.51 238.70,483.24 239.00,525.53 239.30,490.80 239.60,525.35 239.90,489.26 240.20,532.62 240.50,483.43 240.80,526.69 241.10,485.27 241.40,521.61 241.70,490.89 242.00,526.09 242.30,486.34 242.60,535.31 242.90,473.58 243.20,527.22 243.50,486.58 243.80,521.26 244.10,490.30 244.40,523.20 244.70,488.85 245.00,521.39 245.30,489.95 245.60,527.11 245.90,485.43 246.20,523.82 246.50,485.06 246.80,522.74 247.10,488.28 247.40,521.40 247.70,490.41 248.00,526.62 248.30,484.45 248.60,523.49 248.90,486.20 249.20,525.97 249.50,485.54 249.80,522.48 250.10,489.47 250.40,525.09 250.70,480.40 251.00,529.72 251.30,485.49 251.60,526.57 251.90,485.43 252.20,521.84 252.50,485.14 252.80,531.95 253.10,488.92 253.40,523.49 253.70,475.83 254.00,523.00 254.30,488.83 254.60,522.23 254.90,488.42 255.20,522.45 255.50,479.99 255.80,528.33 256.10,488.89 256.40,527.03 256.70,490.71 257.00,523.09 257.30,483.39 257.60,525.44 257.90,487.46 258.20,527.26 258.50,482.68 258.80,522.75 259.10,479.38 259.40,522.39 259.70,485.83 260.00,532.78 260.30,486.20 260.60,521.71 260.90,489.22 261.20,522.73 261.50,488.92 261.80,521.88 262.10,475.06 262.40,527.15 262.70,489.17 263.00,527.91 263.30,488.04 263.60,527.39 263.90,488.98 264.20,526.60 264.50,483.94 264.80,523.78 265.10,480.38 265.40,525.65 265.70,487.17 266.00,524.04 266.30,489.74 266.60,525.44 266.90,488.32 267.20,525.19 267.50,489.06 267.80,529.97 268.10,485.58 268.40,526.20 268.70,489.50 269.00,530.05 269.30,489.20 269.60,524.62 269.90,484.87 270.20,522.72 270.50,484.99 270.80,521.31 271.10,489.60 271.40,531.85 271.70,487.26 272.00,527.22 272.30,484.30 272.60,526.05 272.90,485.35 273.20,525.54 273.50,484.44 273.80,523.17 274.10,488.62 274.40,524.73 274.70,488.53 275.00,523.75 275.30,478.32 275.60,521.64 275.90,483.40 276.20,524.58 276.50,488.35 276.80,522.49 277.10,483.95 277.40,527.16 277.70,490.54 278.00,531.59 278.30,478.99 278.60,526.82 278.90,485.31 279.20,528.75 279.50,485.45 279.80,524.55 280.10,483.33 280.40,529.39 280.70,490.78 281.00,524.98 281.30,485.06 281.60,526.28 281.90,484.63 282.20,527.66 282.50,487.80 282.80,527.20 283.10,484.33 283.40,523.20 283.70,484.99 284.00,527.75 284.30,487.26 284.60,529.45 284.90,484.52 285.20,521.73 285.50,480.68 285.80,526.32 286.10,478.94 286.40,522.62 286.70,488.55 287.00,530.31 287.30,483.30 287.60,521.47 287.90,487.73 288.20,522.54 288.50,486.15 288.80,525.87 289.10,484.21 289.40,521.72 289.70,482.34 290.00,534.98 290.30,489.64 290.60,525.42 290.90,483.55 291.20,523.74 291.50,490.04 291.80,524.60 292.10,489.60 292.40,529.16 292.70,485.27 293.00,521.49 293.30,487.54 293.60,523.70 293.90,488.33 294.20,524.01 294.50,473.46 294.80,523.86 295.10,483.56 295.40,522.80 295.70,489.46 296.00,526.94 296.30,490.32 296.60,522.13 296.90,486.36 297.20,521.17 297.50,478.70 297.80,522.22 298.10,489.56 298.40,534.83 298.70,487.28 299.00,523.66 299.30,489.32 299.60,526.01 299.90,487.18 300.20,521.19 300.50,489.82 300.80,530.94 301.10,483.78 301.40,525.13 301.70,489.76 302.00,527.23 302.30,479.55 302.60,521.27 302.90,489.27 303.20,527.33 303.50,487.60 303.80,523.35 304.10,489.03 304.40,523.47 304.70,478.66 305.00,527.77 305.30,486.58" fill="none" stroke="#000" stroke-width="0.9" stroke-linejoin="round" />
<rect x="4" y="489" width="301.5" height="34" fill="#000"/>
<line x1="202.40" y1="457.00" x2="202.40" y2="573.60" stroke="#000" stroke-width="1.9" />
<line x1="211.25" y1="468.00" x2="211.25" y2="548.00" stroke="#000" stroke-width="1.9" />
<line x1="222.00" y1="472.00" x2="222.00" y2="545.00" stroke="#000" stroke-width="1.9" />
<line x1="230.00" y1="466.00" x2="230.00" y2="535.00" stroke="#000" stroke-width="1.9" />
<line x1="240.00" y1="437.50" x2="240.00" y2="551.00" stroke="#000" stroke-width="1.9" />
<line x1="250.90" y1="461.70" x2="250.90" y2="551.00" stroke="#000" stroke-width="1.9" />
<line x1="261.70" y1="464.00" x2="261.70" y2="548.50" stroke="#000" stroke-width="1.9" />
<line x1="272.60" y1="458.00" x2="272.60" y2="550.00" stroke="#000" stroke-width="1.9" />
<line x1="284.30" y1="460.90" x2="284.30" y2="553.60" stroke="#000" stroke-width="1.9" />
<line x1="294.30" y1="450.90" x2="294.30" y2="556.00" stroke="#000" stroke-width="1.9" />
<line x1="305.10" y1="455.90" x2="305.10" y2="556.90" stroke="#000" stroke-width="1.9" />
<line x1="9.50" y1="476.00" x2="9.50" y2="490.00" stroke="#000" stroke-width="1.2" />
<line x1="14.00" y1="478.00" x2="14.00" y2="490.00" stroke="#000" stroke-width="1.2" />
<line x1="24.00" y1="474.00" x2="24.00" y2="490.00" stroke="#000" stroke-width="1.2" />
<line x1="40.00" y1="473.50" x2="40.00" y2="490.00" stroke="#000" stroke-width="1.2" />
<line x1="47.50" y1="475.00" x2="47.50" y2="490.00" stroke="#000" stroke-width="1.2" />
<line x1="60.00" y1="481.00" x2="60.00" y2="490.00" stroke="#000" stroke-width="1.2" />
<line x1="75.00" y1="473.00" x2="75.00" y2="490.00" stroke="#000" stroke-width="1.2" />
<line x1="85.00" y1="478.00" x2="85.00" y2="490.00" stroke="#000" stroke-width="1.2" />
<line x1="98.00" y1="477.00" x2="98.00" y2="490.00" stroke="#000" stroke-width="1.2" />
<line x1="120.00" y1="481.00" x2="120.00" y2="490.00" stroke="#000" stroke-width="1.2" />
<line x1="132.00" y1="475.00" x2="132.00" y2="490.00" stroke="#000" stroke-width="1.2" />
<line x1="150.00" y1="479.00" x2="150.00" y2="490.00" stroke="#000" stroke-width="1.2" />
<line x1="168.00" y1="474.00" x2="168.00" y2="490.00" stroke="#000" stroke-width="1.2" />
<line x1="180.00" y1="480.00" x2="180.00" y2="490.00" stroke="#000" stroke-width="1.2" />
<line x1="190.00" y1="478.00" x2="190.00" y2="490.00" stroke="#000" stroke-width="1.2" />
<line x1="4.50" y1="520.00" x2="4.50" y2="536.00" stroke="#000" stroke-width="1.2" />
<line x1="27.00" y1="520.00" x2="27.00" y2="536.00" stroke="#000" stroke-width="1.2" />
<line x1="50.00" y1="520.00" x2="50.00" y2="534.00" stroke="#000" stroke-width="1.2" />
<line x1="68.00" y1="520.00" x2="68.00" y2="531.00" stroke="#000" stroke-width="1.2" />
<line x1="94.00" y1="520.00" x2="94.00" y2="532.00" stroke="#000" stroke-width="1.2" />
<line x1="112.00" y1="520.00" x2="112.00" y2="534.00" stroke="#000" stroke-width="1.2" />
<line x1="150.00" y1="520.00" x2="150.00" y2="531.00" stroke="#000" stroke-width="1.2" />
<line x1="172.00" y1="520.00" x2="172.00" y2="531.00" stroke="#000" stroke-width="1.2" />
<line x1="195.00" y1="520.00" x2="195.00" y2="533.00" stroke="#000" stroke-width="1.2" />
<line x1="318.00" y1="492.50" x2="318.00" y2="517.50" stroke="#231f20" stroke-width="1.5" />
<text x="322.50" y="509.50" font-size="13.5" text-anchor="start" font-weight="normal" font-style="normal" fill="#231f20" >50uV</text>
<text x="381.50" y="324.30" font-size="20" text-anchor="start" font-weight="bold" font-style="normal" fill="#231f20" >D</text>
<line x1="433.90" y1="328.40" x2="433.90" y2="511.60" stroke="#231f20" stroke-width="1.55" />
<line x1="427.90" y1="328.40" x2="433.90" y2="328.40" stroke="#231f20" stroke-width="1.55" />
<text x="422.30" y="333.10" font-size="13" text-anchor="end" font-weight="normal" font-style="normal" fill="#231f20" >15</text>
<line x1="427.90" y1="389.50" x2="433.90" y2="389.50" stroke="#231f20" stroke-width="1.55" />
<text x="422.30" y="394.20" font-size="13" text-anchor="end" font-weight="normal" font-style="normal" fill="#231f20" >10</text>
<line x1="427.90" y1="450.60" x2="433.90" y2="450.60" stroke="#231f20" stroke-width="1.55" />
<text x="422.30" y="455.30" font-size="13" text-anchor="end" font-weight="normal" font-style="normal" fill="#231f20" >5</text>
<line x1="427.90" y1="511.60" x2="433.90" y2="511.60" stroke="#231f20" stroke-width="1.55" />
<text x="422.30" y="516.30" font-size="13" text-anchor="end" font-weight="normal" font-style="normal" fill="#231f20" >0</text>
<line x1="439.00" y1="517.80" x2="572.30" y2="517.80" stroke="#231f20" stroke-width="1.55" />
<line x1="439.00" y1="517.80" x2="439.00" y2="522.30" stroke="#231f20" stroke-width="1.55" />
<text x="437.20" y="539.30" font-size="13.5" text-anchor="middle" font-weight="normal" font-style="normal" fill="#231f20" >-6</text>
<line x1="505.70" y1="517.80" x2="505.70" y2="522.30" stroke="#231f20" stroke-width="1.55" />
<text x="503.90" y="539.30" font-size="13.5" text-anchor="middle" font-weight="normal" font-style="normal" fill="#231f20" >-3.5</text>
<line x1="572.30" y1="517.80" x2="572.30" y2="522.30" stroke="#231f20" stroke-width="1.55" />
<text x="572.30" y="539.30" font-size="13.5" text-anchor="middle" font-weight="normal" font-style="normal" fill="#231f20" >0</text>
<text x="505.70" y="553.20" font-size="13.5" text-anchor="middle" font-weight="normal" font-style="normal" fill="#231f20" >log(pre-SWD β power)</text>
<text x="0" y="0" font-size="13.5" text-anchor="middle" fill="#231f20" transform="translate(402.6,418) rotate(-90)">szr duration (s)</text>
<text x="510.30" y="332.00" font-size="17" text-anchor="middle" fill="#231f20">R<tspan font-size="9" dy="-7.8">2</tspan><tspan dy="7.8"> = 0.053</tspan></text>
<text x="511.30" y="319.70" font-size="20" text-anchor="middle" font-weight="bold" font-style="normal" fill="#231f20" letter-spacing="1.4">***</text>
<line x1="650.40" y1="329.50" x2="650.40" y2="511.70" stroke="#231f20" stroke-width="1.55" />
<line x1="643.40" y1="329.50" x2="650.40" y2="329.50" stroke="#231f20" stroke-width="1.55" />
<text x="639.70" y="334.20" font-size="13" text-anchor="end" font-weight="normal" font-style="normal" fill="#231f20" >8</text>
<line x1="643.40" y1="365.94" x2="650.40" y2="365.94" stroke="#231f20" stroke-width="1.55" />
<text x="639.70" y="370.64" font-size="13" text-anchor="end" font-weight="normal" font-style="normal" fill="#231f20" >7</text>
<line x1="643.40" y1="402.38" x2="650.40" y2="402.38" stroke="#231f20" stroke-width="1.55" />
<text x="639.70" y="407.08" font-size="13" text-anchor="end" font-weight="normal" font-style="normal" fill="#231f20" >6</text>
<line x1="643.40" y1="438.82" x2="650.40" y2="438.82" stroke="#231f20" stroke-width="1.55" />
<text x="639.70" y="443.52" font-size="13" text-anchor="end" font-weight="normal" font-style="normal" fill="#231f20" >5</text>
<line x1="643.40" y1="475.26" x2="650.40" y2="475.26" stroke="#231f20" stroke-width="1.55" />
<text x="639.70" y="479.96" font-size="13" text-anchor="end" font-weight="normal" font-style="normal" fill="#231f20" >4</text>
<line x1="643.40" y1="511.70" x2="650.40" y2="511.70" stroke="#231f20" stroke-width="1.55" />
<text x="639.70" y="516.40" font-size="13" text-anchor="end" font-weight="normal" font-style="normal" fill="#231f20" >3</text>
<line x1="655.60" y1="517.90" x2="790.00" y2="517.90" stroke="#231f20" stroke-width="1.55" />
<line x1="655.60" y1="517.90" x2="655.60" y2="522.40" stroke="#231f20" stroke-width="1.55" />
<text x="653.80" y="539.40" font-size="13.5" text-anchor="middle" font-weight="normal" font-style="normal" fill="#231f20" >-6</text>
<line x1="723.00" y1="517.90" x2="723.00" y2="522.40" stroke="#231f20" stroke-width="1.55" />
<text x="721.20" y="539.40" font-size="13.5" text-anchor="middle" font-weight="normal" font-style="normal" fill="#231f20" >-3.5</text>
<line x1="790.00" y1="517.90" x2="790.00" y2="522.40" stroke="#231f20" stroke-width="1.55" />
<text x="790.00" y="539.40" font-size="13.5" text-anchor="middle" font-weight="normal" font-style="normal" fill="#231f20" >0</text>
<text x="723.00" y="553.30" font-size="13.5" text-anchor="middle" font-weight="normal" font-style="normal" fill="#231f20" >log(pre-SWD β power)</text>
<text x="0" y="0" font-size="13.5" text-anchor="middle" fill="#231f20" transform="translate(619.3,418) rotate(-90)">log (szr θ* power)</text>
<text x="726.60" y="332.00" font-size="17" text-anchor="middle" fill="#231f20">R<tspan font-size="9" dy="-7.8">2</tspan><tspan dy="7.8"> = 0.149</tspan></text>
<text x="727.60" y="319.70" font-size="20" text-anchor="middle" font-weight="bold" font-style="normal" fill="#231f20" letter-spacing="1.4">***</text>
<circle cx="543.40" cy="342.20" r="3.1" stroke="#231f20" stroke-width="1.75" fill="none"/>
<circle cx="474.40" cy="364.30" r="3.1" stroke="#231f20" stroke-width="1.75" fill="none"/>
<circle cx="552.25" cy="367.50" r="3.1" stroke="#231f20" stroke-width="1.75" fill="none"/>
<circle cx="519.60" cy="373.70" r="3.1" stroke="#231f20" stroke-width="1.75" fill="none"/>
<circle cx="481.60" cy="380.60" r="3.1" stroke="#231f20" stroke-width="1.75" fill="none"/>
<circle cx="487.75" cy="383.40" r="3.1" stroke="#231f20" stroke-width="1.75" fill="none"/>
<circle cx="496.00" cy="385.50" r="3.1" stroke="#231f20" stroke-width="1.75" fill="none"/>
<circle cx="509.70" cy="381.00" r="3.1" stroke="#231f20" stroke-width="1.75" fill="none"/>
<circle cx="539.70" cy="377.40" r="3.1" stroke="#231f20" stroke-width="1.75" fill="none"/>
<circle cx="533.70" cy="384.40" r="3.1" stroke="#231f20" stroke-width="1.75" fill="none"/>
<circle cx="558.40" cy="381.60" r="3.1" stroke="#231f20" stroke-width="1.75" fill="none"/>
<circle cx="544.40" cy="386.25" r="3.1" stroke="#231f20" stroke-width="1.75" fill="none"/>
<circle cx="544.00" cy="390.00" r="3.1" stroke="#231f20" stroke-width="1.75" fill="none"/>
<circle cx="542.50" cy="394.70" r="3.1" stroke="#231f20" stroke-width="1.75" fill="none"/>
<circle cx="532.75" cy="395.60" r="3.1" stroke="#231f20" stroke-width="1.75" fill="none"/>
<circle cx="537.80" cy="395.60" r="3.1" stroke="#231f20" stroke-width="1.75" fill="none"/>
<circle cx="525.60" cy="401.80" r="3.1" stroke="#231f20" stroke-width="1.75" fill="none"/>
<circle cx="499.00" cy="405.00" r="3.1" stroke="#231f20" stroke-width="1.75" fill="none"/>
<circle cx="533.50" cy="407.80" r="3.1" stroke="#231f20" stroke-width="1.75" fill="none"/>
<circle cx="540.60" cy="402.20" r="3.1" stroke="#231f20" stroke-width="1.75" fill="none"/>
<circle cx="548.10" cy="404.00" r="3.1" stroke="#231f20" stroke-width="1.75" fill="none"/>
<circle cx="563.10" cy="404.00" r="3.1" stroke="#231f20" stroke-width="1.75" fill="none"/>
<circle cx="562.20" cy="408.75" r="3.1" stroke="#231f20" stroke-width="1.75" fill="none"/>
<circle cx="558.40" cy="410.60" r="3.1" stroke="#231f20" stroke-width="1.75" fill="none"/>
<circle cx="562.20" cy="413.80" r="3.1" stroke="#231f20" stroke-width="1.75" fill="none"/>
<circle cx="496.60" cy="412.50" r="3.1" stroke="#231f20" stroke-width="1.75" fill="none"/>
<circle cx="508.75" cy="412.10" r="3.1" stroke="#231f20" stroke-width="1.75" fill="none"/>
<circle cx="525.60" cy="410.60" r="3.1" stroke="#231f20" stroke-width="1.75" fill="none"/>
<circle cx="521.90" cy="416.25" r="3.1" stroke="#231f20" stroke-width="1.75" fill="none"/>
<circle cx="546.25" cy="408.75" r="3.1" stroke="#231f20" stroke-width="1.75" fill="none"/>
<circle cx="542.50" cy="412.50" r="3.1" stroke="#231f20" stroke-width="1.75" fill="none"/>
<circle cx="548.50" cy="416.25" r="3.1" stroke="#231f20" stroke-width="1.75" fill="none"/>
<circle cx="480.60" cy="416.25" r="3.1" stroke="#231f20" stroke-width="1.75" fill="none"/>
<circle cx="485.30" cy="418.10" r="3.1" stroke="#231f20" stroke-width="1.75" fill="none"/>
<circle cx="477.80" cy="420.00" r="3.1" stroke="#231f20" stroke-width="1.75" fill="none"/>
<circle cx="493.75" cy="418.10" r="3.1" stroke="#231f20" stroke-width="1.75" fill="none"/>
<circle cx="500.30" cy="421.00" r="3.1" stroke="#231f20" stroke-width="1.75" fill="none"/>
<circle cx="455.30" cy="423.20" r="3.1" stroke="#231f20" stroke-width="1.75" fill="none"/>
<circle cx="466.00" cy="425.60" r="3.1" stroke="#231f20" stroke-width="1.75" fill="none"/>
<circle cx="532.20" cy="421.00" r="3.1" stroke="#231f20" stroke-width="1.75" fill="none"/>
<circle cx="537.80" cy="419.00" r="3.1" stroke="#231f20" stroke-width="1.75" fill="none"/>
<circle cx="542.50" cy="421.00" r="3.1" stroke="#231f20" stroke-width="1.75" fill="none"/>
<circle cx="506.90" cy="424.70" r="3.1" stroke="#231f20" stroke-width="1.75" fill="none"/>
<circle cx="520.00" cy="422.80" r="3.1" stroke="#231f20" stroke-width="1.75" fill="none"/>
<circle cx="519.00" cy="427.50" r="3.1" stroke="#231f20" stroke-width="1.75" fill="none"/>
<circle cx="451.00" cy="445.60" r="3.1" stroke="#231f20" stroke-width="1.75" fill="none"/>
<circle cx="458.10" cy="456.00" r="3.1" stroke="#231f20" stroke-width="1.75" fill="none"/>
<circle cx="461.00" cy="458.75" r="3.1" stroke="#231f20" stroke-width="1.75" fill="none"/>
<circle cx="464.70" cy="462.50" r="3.1" stroke="#231f20" stroke-width="1.75" fill="none"/>
<circle cx="567.80" cy="435.30" r="3.1" stroke="#231f20" stroke-width="1.75" fill="none"/>
<circle cx="564.00" cy="460.60" r="3.1" stroke="#231f20" stroke-width="1.75" fill="none"/>
<circle cx="559.40" cy="470.00" r="3.1" stroke="#231f20" stroke-width="1.75" fill="none"/>
<circle cx="557.10" cy="488.75" r="3.1" stroke="#231f20" stroke-width="1.75" fill="none"/>
<circle cx="550.00" cy="488.75" r="3.1" stroke="#231f20" stroke-width="1.75" fill="none"/>
<circle cx="470.00" cy="432.00" r="3.1" stroke="#231f20" stroke-width="1.75" fill="none"/>
<circle cx="476.00" cy="436.00" r="3.1" stroke="#231f20" stroke-width="1.75" fill="none"/>
<circle cx="488.00" cy="430.00" r="3.1" stroke="#231f20" stroke-width="1.75" fill="none"/>
<circle cx="495.00" cy="433.00" r="3.1" stroke="#231f20" stroke-width="1.75" fill="none"/>
<circle cx="510.00" cy="430.00" r="3.1" stroke="#231f20" stroke-width="1.75" fill="none"/>
<circle cx="528.00" cy="432.00" r="3.1" stroke="#231f20" stroke-width="1.75" fill="none"/>
<circle cx="536.00" cy="430.00" r="3.1" stroke="#231f20" stroke-width="1.75" fill="none"/>
<circle cx="548.00" cy="428.00" r="3.1" stroke="#231f20" stroke-width="1.75" fill="none"/>
<circle cx="553.00" cy="437.00" r="3.1" stroke="#231f20" stroke-width="1.75" fill="none"/>
<circle cx="556.00" cy="445.00" r="3.1" stroke="#231f20" stroke-width="1.75" fill="none"/>
<circle cx="552.00" cy="452.00" r="3.1" stroke="#231f20" stroke-width="1.75" fill="none"/>
<circle cx="548.00" cy="466.00" r="3.1" stroke="#231f20" stroke-width="1.75" fill="none"/>
<circle cx="553.00" cy="478.00" r="3.1" stroke="#231f20" stroke-width="1.75" fill="none"/>
<circle cx="545.00" cy="482.00" r="3.1" stroke="#231f20" stroke-width="1.75" fill="none"/>
<circle cx="524.17" cy="486.87" r="3.1" stroke="#231f20" stroke-width="1.75" fill="none"/>
<circle cx="522.79" cy="491.50" r="3.1" stroke="#231f20" stroke-width="1.75" fill="none"/>
<circle cx="489.12" cy="457.50" r="3.1" stroke="#231f20" stroke-width="1.75" fill="none"/>
<circle cx="484.97" cy="453.21" r="3.1" stroke="#231f20" stroke-width="1.75" fill="none"/>
<circle cx="532.05" cy="473.60" r="3.1" stroke="#231f20" stroke-width="1.75" fill="none"/>
<circle cx="486.54" cy="453.94" r="3.1" stroke="#231f20" stroke-width="1.75" fill="none"/>
<circle cx="532.07" cy="448.96" r="3.1" stroke="#231f20" stroke-width="1.75" fill="none"/>
<circle cx="494.69" cy="476.51" r="3.1" stroke="#231f20" stroke-width="1.75" fill="none"/>
<circle cx="533.81" cy="490.33" r="3.1" stroke="#231f20" stroke-width="1.75" fill="none"/>
<circle cx="494.86" cy="446.34" r="3.1" stroke="#231f20" stroke-width="1.75" fill="none"/>
<circle cx="481.78" cy="475.18" r="3.1" stroke="#231f20" stroke-width="1.75" fill="none"/>
<circle cx="510.73" cy="488.58" r="3.1" stroke="#231f20" stroke-width="1.75" fill="none"/>
<circle cx="524.73" cy="486.75" r="3.1" stroke="#231f20" stroke-width="1.75" fill="none"/>
<circle cx="483.59" cy="449.52" r="3.1" stroke="#231f20" stroke-width="1.75" fill="none"/>
<circle cx="506.22" cy="475.47" r="3.1" stroke="#231f20" stroke-width="1.75" fill="none"/>
<circle cx="489.28" cy="490.49" r="3.1" stroke="#231f20" stroke-width="1.75" fill="none"/>
<circle cx="469.56" cy="466.24" r="3.1" stroke="#231f20" stroke-width="1.75" fill="none"/>
<circle cx="485.87" cy="475.19" r="3.1" stroke="#231f20" stroke-width="1.75" fill="none"/>
<circle cx="517.12" cy="462.36" r="3.1" stroke="#231f20" stroke-width="1.75" fill="none"/>
<circle cx="513.76" cy="489.86" r="3.1" stroke="#231f20" stroke-width="1.75" fill="none"/>
<circle cx="490.11" cy="454.69" r="3.1" stroke="#231f20" stroke-width="1.75" fill="none"/>
<circle cx="483.85" cy="461.46" r="3.1" stroke="#231f20" stroke-width="1.75" fill="none"/>
<circle cx="520.27" cy="446.37" r="3.1" stroke="#231f20" stroke-width="1.75" fill="none"/>
<circle cx="476.84" cy="475.77" r="3.1" stroke="#231f20" stroke-width="1.75" fill="none"/>
<circle cx="528.61" cy="449.04" r="3.1" stroke="#231f20" stroke-width="1.75" fill="none"/>
<circle cx="477.95" cy="485.76" r="3.1" stroke="#231f20" stroke-width="1.75" fill="none"/>
<circle cx="466.53" cy="445.76" r="3.1" stroke="#231f20" stroke-width="1.75" fill="none"/>
<circle cx="486.55" cy="453.33" r="3.1" stroke="#231f20" stroke-width="1.75" fill="none"/>
<circle cx="532.59" cy="464.62" r="3.1" stroke="#231f20" stroke-width="1.75" fill="none"/>
<circle cx="518.69" cy="464.40" r="3.1" stroke="#231f20" stroke-width="1.75" fill="none"/>
<circle cx="545.05" cy="482.76" r="3.1" stroke="#231f20" stroke-width="1.75" fill="none"/>
<circle cx="522.05" cy="456.75" r="3.1" stroke="#231f20" stroke-width="1.75" fill="none"/>
<circle cx="505.01" cy="493.81" r="3.1" stroke="#231f20" stroke-width="1.75" fill="none"/>
<circle cx="520.17" cy="463.68" r="3.1" stroke="#231f20" stroke-width="1.75" fill="none"/>
<circle cx="475.29" cy="476.07" r="3.1" stroke="#231f20" stroke-width="1.75" fill="none"/>
<circle cx="510.15" cy="485.30" r="3.1" stroke="#231f20" stroke-width="1.75" fill="none"/>
<circle cx="521.67" cy="483.20" r="3.1" stroke="#231f20" stroke-width="1.75" fill="none"/>
<circle cx="507.14" cy="474.92" r="3.1" stroke="#231f20" stroke-width="1.75" fill="none"/>
<circle cx="496.37" cy="474.22" r="3.1" stroke="#231f20" stroke-width="1.75" fill="none"/>
<circle cx="515.22" cy="474.60" r="3.1" stroke="#231f20" stroke-width="1.75" fill="none"/>
<circle cx="489.27" cy="475.35" r="3.1" stroke="#231f20" stroke-width="1.75" fill="none"/>
<circle cx="502.91" cy="450.58" r="3.1" stroke="#231f20" stroke-width="1.75" fill="none"/>
<circle cx="506.60" cy="478.96" r="3.1" stroke="#231f20" stroke-width="1.75" fill="none"/>
<circle cx="495.41" cy="494.82" r="3.1" stroke="#231f20" stroke-width="1.75" fill="none"/>
<circle cx="513.38" cy="486.15" r="3.1" stroke="#231f20" stroke-width="1.75" fill="none"/>
<circle cx="520.43" cy="438.02" r="3.1" stroke="#231f20" stroke-width="1.75" fill="none"/>
<circle cx="496.12" cy="458.49" r="3.1" stroke="#231f20" stroke-width="1.75" fill="none"/>
<circle cx="517.21" cy="473.72" r="3.1" stroke="#231f20" stroke-width="1.75" fill="none"/>
<circle cx="511.45" cy="451.64" r="3.1" stroke="#231f20" stroke-width="1.75" fill="none"/>
<circle cx="527.65" cy="458.71" r="3.1" stroke="#231f20" stroke-width="1.75" fill="none"/>
<circle cx="523.67" cy="468.65" r="3.1" stroke="#231f20" stroke-width="1.75" fill="none"/>
<circle cx="512.18" cy="492.13" r="3.1" stroke="#231f20" stroke-width="1.75" fill="none"/>
<circle cx="489.86" cy="453.28" r="3.1" stroke="#231f20" stroke-width="1.75" fill="none"/>
<circle cx="515.13" cy="456.37" r="3.1" stroke="#231f20" stroke-width="1.75" fill="none"/>
<circle cx="512.31" cy="441.02" r="3.1" stroke="#231f20" stroke-width="1.75" fill="none"/>
<circle cx="511.20" cy="463.55" r="3.1" stroke="#231f20" stroke-width="1.75" fill="none"/>
<circle cx="521.12" cy="482.50" r="3.1" stroke="#231f20" stroke-width="1.75" fill="none"/>
<circle cx="485.75" cy="456.37" r="3.1" stroke="#231f20" stroke-width="1.75" fill="none"/>
<circle cx="545.82" cy="438.83" r="3.1" stroke="#231f20" stroke-width="1.75" fill="none"/>
<circle cx="499.59" cy="475.67" r="3.1" stroke="#231f20" stroke-width="1.75" fill="none"/>
<circle cx="526.78" cy="458.44" r="3.1" stroke="#231f20" stroke-width="1.75" fill="none"/>
<circle cx="506.10" cy="477.27" r="3.1" stroke="#231f20" stroke-width="1.75" fill="none"/>
<circle cx="535.04" cy="469.28" r="3.1" stroke="#231f20" stroke-width="1.75" fill="none"/>
<circle cx="500.57" cy="489.26" r="3.1" stroke="#231f20" stroke-width="1.75" fill="none"/>
<circle cx="528.51" cy="459.05" r="3.1" stroke="#231f20" stroke-width="1.75" fill="none"/>
<circle cx="513.83" cy="466.18" r="3.1" stroke="#231f20" stroke-width="1.75" fill="none"/>
<circle cx="507.86" cy="439.54" r="3.1" stroke="#231f20" stroke-width="1.75" fill="none"/>
<circle cx="511.33" cy="466.91" r="3.1" stroke="#231f20" stroke-width="1.75" fill="none"/>
<circle cx="477.98" cy="467.09" r="3.1" stroke="#231f20" stroke-width="1.75" fill="none"/>
<circle cx="485.75" cy="456.89" r="3.1" stroke="#231f20" stroke-width="1.75" fill="none"/>
<circle cx="530.63" cy="449.67" r="3.1" stroke="#231f20" stroke-width="1.75" fill="none"/>
<circle cx="533.02" cy="462.53" r="3.1" stroke="#231f20" stroke-width="1.75" fill="none"/>
<circle cx="535.73" cy="480.52" r="3.1" stroke="#231f20" stroke-width="1.75" fill="none"/>
<circle cx="535.00" cy="485.35" r="3.1" stroke="#231f20" stroke-width="1.75" fill="none"/>
<circle cx="497.09" cy="458.69" r="3.1" stroke="#231f20" stroke-width="1.75" fill="none"/>
<circle cx="510.73" cy="473.20" r="3.1" stroke="#231f20" stroke-width="1.75" fill="none"/>
<circle cx="519.28" cy="479.56" r="3.1" stroke="#231f20" stroke-width="1.75" fill="none"/>
<circle cx="485.59" cy="470.78" r="3.1" stroke="#231f20" stroke-width="1.75" fill="none"/>
<circle cx="521.90" cy="465.20" r="3.1" stroke="#231f20" stroke-width="1.75" fill="none"/>
<circle cx="491.17" cy="469.18" r="3.1" stroke="#231f20" stroke-width="1.75" fill="none"/>
<circle cx="532.08" cy="484.48" r="3.1" stroke="#231f20" stroke-width="1.75" fill="none"/>
<circle cx="492.50" cy="484.64" r="3.1" stroke="#231f20" stroke-width="1.75" fill="none"/>
<circle cx="502.66" cy="461.14" r="3.1" stroke="#231f20" stroke-width="1.75" fill="none"/>
<circle cx="537.61" cy="476.71" r="3.1" stroke="#231f20" stroke-width="1.75" fill="none"/>
<circle cx="510.25" cy="467.87" r="3.1" stroke="#231f20" stroke-width="1.75" fill="none"/>
<circle cx="529.34" cy="474.62" r="3.1" stroke="#231f20" stroke-width="1.75" fill="none"/>
<circle cx="518.63" cy="454.18" r="3.1" stroke="#231f20" stroke-width="1.75" fill="none"/>
<circle cx="483.63" cy="474.76" r="3.1" stroke="#231f20" stroke-width="1.75" fill="none"/>
<circle cx="476.68" cy="489.34" r="3.1" stroke="#231f20" stroke-width="1.75" fill="none"/>
<circle cx="521.70" cy="465.91" r="3.1" stroke="#231f20" stroke-width="1.75" fill="none"/>
<circle cx="488.54" cy="495.56" r="3.1" stroke="#231f20" stroke-width="1.75" fill="none"/>
<circle cx="523.51" cy="448.07" r="3.1" stroke="#231f20" stroke-width="1.75" fill="none"/>
<circle cx="504.05" cy="475.01" r="3.1" stroke="#231f20" stroke-width="1.75" fill="none"/>
<circle cx="533.71" cy="442.12" r="3.1" stroke="#231f20" stroke-width="1.75" fill="none"/>
<circle cx="519.40" cy="459.60" r="3.1" stroke="#231f20" stroke-width="1.75" fill="none"/>
<circle cx="507.29" cy="471.58" r="3.1" stroke="#231f20" stroke-width="1.75" fill="none"/>
<circle cx="513.10" cy="478.61" r="3.1" stroke="#231f20" stroke-width="1.75" fill="none"/>
<circle cx="488.62" cy="439.45" r="3.1" stroke="#231f20" stroke-width="1.75" fill="none"/>
<circle cx="520.08" cy="444.40" r="3.1" stroke="#231f20" stroke-width="1.75" fill="none"/>
<circle cx="502.81" cy="455.49" r="3.1" stroke="#231f20" stroke-width="1.75" fill="none"/>
<circle cx="494.43" cy="462.69" r="3.1" stroke="#231f20" stroke-width="1.75" fill="none"/>
<circle cx="473.43" cy="486.33" r="3.1" stroke="#231f20" stroke-width="1.75" fill="none"/>
<circle cx="533.23" cy="469.31" r="3.1" stroke="#231f20" stroke-width="1.75" fill="none"/>
<circle cx="489.50" cy="473.45" r="3.1" stroke="#231f20" stroke-width="1.75" fill="none"/>
<circle cx="530.60" cy="476.18" r="3.1" stroke="#231f20" stroke-width="1.75" fill="none"/>
<circle cx="501.01" cy="474.66" r="3.1" stroke="#231f20" stroke-width="1.75" fill="none"/>
<circle cx="478.98" cy="482.88" r="3.1" stroke="#231f20" stroke-width="1.75" fill="none"/>
<circle cx="539.86" cy="482.30" r="3.1" stroke="#231f20" stroke-width="1.75" fill="none"/>
<circle cx="527.49" cy="477.58" r="3.1" stroke="#231f20" stroke-width="1.75" fill="none"/>
<circle cx="476.96" cy="492.94" r="3.1" stroke="#231f20" stroke-width="1.75" fill="none"/>
<circle cx="534.12" cy="450.67" r="3.1" stroke="#231f20" stroke-width="1.75" fill="none"/>
<circle cx="500.65" cy="482.48" r="3.1" stroke="#231f20" stroke-width="1.75" fill="none"/>
<circle cx="517.90" cy="449.90" r="3.1" stroke="#231f20" stroke-width="1.75" fill="none"/>
<circle cx="482.69" cy="447.52" r="3.1" stroke="#231f20" stroke-width="1.75" fill="none"/>
<circle cx="513.76" cy="483.65" r="3.1" stroke="#231f20" stroke-width="1.75" fill="none"/>
<circle cx="524.96" cy="463.68" r="3.1" stroke="#231f20" stroke-width="1.75" fill="none"/>
<circle cx="513.40" cy="459.97" r="3.1" stroke="#231f20" stroke-width="1.75" fill="none"/>
<circle cx="531.89" cy="469.78" r="3.1" stroke="#231f20" stroke-width="1.75" fill="none"/>
<circle cx="499.88" cy="490.39" r="3.1" stroke="#231f20" stroke-width="1.75" fill="none"/>
<circle cx="506.77" cy="463.25" r="3.1" stroke="#231f20" stroke-width="1.75" fill="none"/>
<circle cx="484.72" cy="468.07" r="3.1" stroke="#231f20" stroke-width="1.75" fill="none"/>
<circle cx="541.23" cy="449.73" r="3.1" stroke="#231f20" stroke-width="1.75" fill="none"/>
<circle cx="533.09" cy="449.46" r="3.1" stroke="#231f20" stroke-width="1.75" fill="none"/>
<circle cx="488.51" cy="487.38" r="3.1" stroke="#231f20" stroke-width="1.75" fill="none"/>
<circle cx="485.73" cy="463.54" r="3.1" stroke="#231f20" stroke-width="1.75" fill="none"/>
<circle cx="498.09" cy="491.82" r="3.1" stroke="#231f20" stroke-width="1.75" fill="none"/>
<circle cx="519.02" cy="460.33" r="3.1" stroke="#231f20" stroke-width="1.75" fill="none"/>
<circle cx="498.03" cy="475.85" r="3.1" stroke="#231f20" stroke-width="1.75" fill="none"/>
<circle cx="491.56" cy="480.64" r="3.1" stroke="#231f20" stroke-width="1.75" fill="none"/>
<circle cx="532.35" cy="481.58" r="3.1" stroke="#231f20" stroke-width="1.75" fill="none"/>
<circle cx="483.82" cy="493.62" r="3.1" stroke="#231f20" stroke-width="1.75" fill="none"/>
<circle cx="507.63" cy="495.64" r="3.1" stroke="#231f20" stroke-width="1.75" fill="none"/>
<circle cx="519.28" cy="466.68" r="3.1" stroke="#231f20" stroke-width="1.75" fill="none"/>
<circle cx="489.87" cy="476.65" r="3.1" stroke="#231f20" stroke-width="1.75" fill="none"/>
<circle cx="529.58" cy="494.26" r="3.1" stroke="#231f20" stroke-width="1.75" fill="none"/>
<circle cx="493.06" cy="464.18" r="3.1" stroke="#231f20" stroke-width="1.75" fill="none"/>
<circle cx="505.76" cy="444.94" r="3.1" stroke="#231f20" stroke-width="1.75" fill="none"/>
<circle cx="511.32" cy="479.95" r="3.1" stroke="#231f20" stroke-width="1.75" fill="none"/>
<circle cx="507.78" cy="450.38" r="3.1" stroke="#231f20" stroke-width="1.75" fill="none"/>
<circle cx="547.51" cy="464.98" r="3.1" stroke="#231f20" stroke-width="1.75" fill="none"/>
<circle cx="493.14" cy="466.65" r="3.1" stroke="#231f20" stroke-width="1.75" fill="none"/>
<circle cx="483.24" cy="453.08" r="3.1" stroke="#231f20" stroke-width="1.75" fill="none"/>
<circle cx="472.54" cy="453.73" r="3.1" stroke="#231f20" stroke-width="1.75" fill="none"/>
<circle cx="495.25" cy="462.33" r="3.1" stroke="#231f20" stroke-width="1.75" fill="none"/>
<circle cx="511.76" cy="458.67" r="3.1" stroke="#231f20" stroke-width="1.75" fill="none"/>
<circle cx="547.73" cy="446.26" r="3.1" stroke="#231f20" stroke-width="1.75" fill="none"/>
<circle cx="510.96" cy="478.73" r="3.1" stroke="#231f20" stroke-width="1.75" fill="none"/>
<circle cx="498.83" cy="450.06" r="3.1" stroke="#231f20" stroke-width="1.75" fill="none"/>
<circle cx="480.10" cy="488.09" r="3.1" stroke="#231f20" stroke-width="1.75" fill="none"/>
<circle cx="500.05" cy="475.73" r="3.1" stroke="#231f20" stroke-width="1.75" fill="none"/>
<circle cx="516.09" cy="465.99" r="3.1" stroke="#231f20" stroke-width="1.75" fill="none"/>
<circle cx="505.51" cy="452.97" r="3.1" stroke="#231f20" stroke-width="1.75" fill="none"/>
<circle cx="527.52" cy="464.94" r="3.1" stroke="#231f20" stroke-width="1.75" fill="none"/>
<circle cx="521.76" cy="477.16" r="3.1" stroke="#231f20" stroke-width="1.75" fill="none"/>
<circle cx="492.39" cy="466.98" r="3.1" stroke="#231f20" stroke-width="1.75" fill="none"/>
<circle cx="508.45" cy="452.92" r="3.1" stroke="#231f20" stroke-width="1.75" fill="none"/>
<circle cx="505.21" cy="455.65" r="3.1" stroke="#231f20" stroke-width="1.75" fill="none"/>
<circle cx="473.75" cy="469.38" r="3.1" stroke="#231f20" stroke-width="1.75" fill="none"/>
<circle cx="510.90" cy="481.53" r="3.1" stroke="#231f20" stroke-width="1.75" fill="none"/>
<circle cx="517.76" cy="453.61" r="3.1" stroke="#231f20" stroke-width="1.75" fill="none"/>
<circle cx="488.29" cy="487.20" r="3.1" stroke="#231f20" stroke-width="1.75" fill="none"/>
<circle cx="466.38" cy="454.76" r="3.1" stroke="#231f20" stroke-width="1.75" fill="none"/>
<circle cx="545.35" cy="443.77" r="3.1" stroke="#231f20" stroke-width="1.75" fill="none"/>
<circle cx="535.62" cy="455.31" r="3.1" stroke="#231f20" stroke-width="1.75" fill="none"/>
<circle cx="498.73" cy="452.09" r="3.1" stroke="#231f20" stroke-width="1.75" fill="none"/>
<circle cx="545.04" cy="491.84" r="3.1" stroke="#231f20" stroke-width="1.75" fill="none"/>
<circle cx="488.85" cy="475.92" r="3.1" stroke="#231f20" stroke-width="1.75" fill="none"/>
<circle cx="470.79" cy="459.35" r="3.1" stroke="#231f20" stroke-width="1.75" fill="none"/>
<circle cx="511.21" cy="460.66" r="3.1" stroke="#231f20" stroke-width="1.75" fill="none"/>
<circle cx="470.01" cy="450.16" r="3.1" stroke="#231f20" stroke-width="1.75" fill="none"/>
<circle cx="527.29" cy="466.94" r="3.1" stroke="#231f20" stroke-width="1.75" fill="none"/>
<circle cx="532.13" cy="487.85" r="3.1" stroke="#231f20" stroke-width="1.75" fill="none"/>
<circle cx="550.10" cy="454.01" r="3.1" stroke="#231f20" stroke-width="1.75" fill="none"/>
<circle cx="482.64" cy="472.33" r="3.1" stroke="#231f20" stroke-width="1.75" fill="none"/>
<circle cx="536.45" cy="491.44" r="3.1" stroke="#231f20" stroke-width="1.75" fill="none"/>
<circle cx="504.47" cy="476.59" r="3.1" stroke="#231f20" stroke-width="1.75" fill="none"/>
<circle cx="546.82" cy="491.43" r="3.1" stroke="#231f20" stroke-width="1.75" fill="none"/>
<circle cx="472.30" cy="483.24" r="3.1" stroke="#231f20" stroke-width="1.75" fill="none"/>
<circle cx="528.80" cy="476.32" r="3.1" stroke="#231f20" stroke-width="1.75" fill="none"/>
<circle cx="505.01" cy="438.79" r="3.1" stroke="#231f20" stroke-width="1.75" fill="none"/>
<circle cx="515.25" cy="486.11" r="3.1" stroke="#231f20" stroke-width="1.75" fill="none"/>
<circle cx="530.31" cy="480.61" r="3.1" stroke="#231f20" stroke-width="1.75" fill="none"/>
<circle cx="529.54" cy="452.89" r="3.1" stroke="#231f20" stroke-width="1.75" fill="none"/>
<circle cx="510.06" cy="454.07" r="3.1" stroke="#231f20" stroke-width="1.75" fill="none"/>
<circle cx="502.32" cy="468.14" r="3.1" stroke="#231f20" stroke-width="1.75" fill="none"/>
<circle cx="514.48" cy="447.13" r="3.1" stroke="#231f20" stroke-width="1.75" fill="none"/>
<circle cx="507.38" cy="472.32" r="3.1" stroke="#231f20" stroke-width="1.75" fill="none"/>
<circle cx="504.57" cy="461.15" r="3.1" stroke="#231f20" stroke-width="1.75" fill="none"/>
<circle cx="499.53" cy="460.26" r="3.1" stroke="#231f20" stroke-width="1.75" fill="none"/>
<circle cx="541.57" cy="471.94" r="3.1" stroke="#231f20" stroke-width="1.75" fill="none"/>
<circle cx="481.55" cy="451.69" r="3.1" stroke="#231f20" stroke-width="1.75" fill="none"/>
<circle cx="497.05" cy="441.88" r="3.1" stroke="#231f20" stroke-width="1.75" fill="none"/>
<circle cx="516.35" cy="483.97" r="3.1" stroke="#231f20" stroke-width="1.75" fill="none"/>
<circle cx="469.07" cy="449.33" r="3.1" stroke="#231f20" stroke-width="1.75" fill="none"/>
<circle cx="490.49" cy="452.41" r="3.1" stroke="#231f20" stroke-width="1.75" fill="none"/>
<circle cx="523.98" cy="438.30" r="3.1" stroke="#231f20" stroke-width="1.75" fill="none"/>
<circle cx="506.02" cy="478.82" r="3.1" stroke="#231f20" stroke-width="1.75" fill="none"/>
<circle cx="550.57" cy="469.22" r="3.1" stroke="#231f20" stroke-width="1.75" fill="none"/>
<circle cx="512.88" cy="489.70" r="3.1" stroke="#231f20" stroke-width="1.75" fill="none"/>
<circle cx="474.19" cy="463.99" r="3.1" stroke="#231f20" stroke-width="1.75" fill="none"/>
<circle cx="535.79" cy="458.60" r="3.1" stroke="#231f20" stroke-width="1.75" fill="none"/>
<circle cx="516.97" cy="483.93" r="3.1" stroke="#231f20" stroke-width="1.75" fill="none"/>
<circle cx="514.54" cy="483.33" r="3.1" stroke="#231f20" stroke-width="1.75" fill="none"/>
<circle cx="504.07" cy="443.35" r="3.1" stroke="#231f20" stroke-width="1.75" fill="none"/>
<circle cx="475.63" cy="443.53" r="3.1" stroke="#231f20" stroke-width="1.75" fill="none"/>
<circle cx="522.75" cy="467.83" r="3.1" stroke="#231f20" stroke-width="1.75" fill="none"/>
<circle cx="496.53" cy="444.62" r="3.1" stroke="#231f20" stroke-width="1.75" fill="none"/>
<circle cx="479.51" cy="483.07" r="3.1" stroke="#231f20" stroke-width="1.75" fill="none"/>
<circle cx="508.97" cy="485.69" r="3.1" stroke="#231f20" stroke-width="1.75" fill="none"/>
<circle cx="514.25" cy="469.72" r="3.1" stroke="#231f20" stroke-width="1.75" fill="none"/>
<circle cx="501.78" cy="445.96" r="3.1" stroke="#231f20" stroke-width="1.75" fill="none"/>
<circle cx="498.41" cy="450.40" r="3.1" stroke="#231f20" stroke-width="1.75" fill="none"/>
<circle cx="520.55" cy="456.37" r="3.1" stroke="#231f20" stroke-width="1.75" fill="none"/>
<circle cx="508.37" cy="456.14" r="3.1" stroke="#231f20" stroke-width="1.75" fill="none"/>
<circle cx="503.92" cy="450.87" r="3.1" stroke="#231f20" stroke-width="1.75" fill="none"/>
<circle cx="483.30" cy="463.06" r="3.1" stroke="#231f20" stroke-width="1.75" fill="none"/>
<circle cx="498.89" cy="448.08" r="3.1" stroke="#231f20" stroke-width="1.75" fill="none"/>
<circle cx="484.06" cy="473.16" r="3.1" stroke="#231f20" stroke-width="1.75" fill="none"/>
<circle cx="535.21" cy="446.73" r="3.1" stroke="#231f20" stroke-width="1.75" fill="none"/>
<circle cx="507.04" cy="485.10" r="3.1" stroke="#231f20" stroke-width="1.75" fill="none"/>
<circle cx="534.84" cy="451.89" r="3.1" stroke="#231f20" stroke-width="1.75" fill="none"/>
<circle cx="481.05" cy="453.79" r="3.1" stroke="#231f20" stroke-width="1.75" fill="none"/>
<circle cx="514.55" cy="489.00" r="3.1" stroke="#231f20" stroke-width="1.75" fill="none"/>
<circle cx="505.45" cy="449.67" r="3.1" stroke="#231f20" stroke-width="1.75" fill="none"/>
<circle cx="486.32" cy="477.75" r="3.1" stroke="#231f20" stroke-width="1.75" fill="none"/>
<circle cx="493.43" cy="461.01" r="3.1" stroke="#231f20" stroke-width="1.75" fill="none"/>
<circle cx="509.50" cy="462.39" r="3.1" stroke="#231f20" stroke-width="1.75" fill="none"/>
<circle cx="509.93" cy="447.49" r="3.1" stroke="#231f20" stroke-width="1.75" fill="none"/>
<circle cx="505.93" cy="480.93" r="3.1" stroke="#231f20" stroke-width="1.75" fill="none"/>
<circle cx="504.40" cy="478.03" r="3.1" stroke="#231f20" stroke-width="1.75" fill="none"/>
<circle cx="523.76" cy="467.39" r="3.1" stroke="#231f20" stroke-width="1.75" fill="none"/>
<circle cx="533.82" cy="480.58" r="3.1" stroke="#231f20" stroke-width="1.75" fill="none"/>
<circle cx="523.92" cy="465.88" r="3.1" stroke="#231f20" stroke-width="1.75" fill="none"/>
<circle cx="509.42" cy="490.38" r="3.1" stroke="#231f20" stroke-width="1.75" fill="none"/>
<circle cx="494.78" cy="484.75" r="3.1" stroke="#231f20" stroke-width="1.75" fill="none"/>
<circle cx="491.04" cy="479.26" r="3.1" stroke="#231f20" stroke-width="1.75" fill="none"/>
<circle cx="498.52" cy="446.66" r="3.1" stroke="#231f20" stroke-width="1.75" fill="none"/>
<circle cx="522.78" cy="455.30" r="3.1" stroke="#231f20" stroke-width="1.75" fill="none"/>
<circle cx="488.72" cy="452.70" r="3.1" stroke="#231f20" stroke-width="1.75" fill="none"/>
<circle cx="485.72" cy="456.05" r="3.1" stroke="#231f20" stroke-width="1.75" fill="none"/>
<circle cx="511.91" cy="475.45" r="3.1" stroke="#231f20" stroke-width="1.75" fill="none"/>
<circle cx="480.17" cy="466.83" r="3.1" stroke="#231f20" stroke-width="1.75" fill="none"/>
<circle cx="469.96" cy="477.41" r="3.1" stroke="#231f20" stroke-width="1.75" fill="none"/>
<circle cx="492.68" cy="481.41" r="3.1" stroke="#231f20" stroke-width="1.75" fill="none"/>
<circle cx="491.31" cy="487.01" r="3.1" stroke="#231f20" stroke-width="1.75" fill="none"/>
<circle cx="476.35" cy="470.99" r="3.1" stroke="#231f20" stroke-width="1.75" fill="none"/>
<circle cx="524.54" cy="461.90" r="3.1" stroke="#231f20" stroke-width="1.75" fill="none"/>
<circle cx="511.56" cy="457.61" r="3.1" stroke="#231f20" stroke-width="1.75" fill="none"/>
<circle cx="492.46" cy="456.37" r="3.1" stroke="#231f20" stroke-width="1.75" fill="none"/>
<circle cx="498.93" cy="475.02" r="3.1" stroke="#231f20" stroke-width="1.75" fill="none"/>
<circle cx="521.24" cy="454.14" r="3.1" stroke="#231f20" stroke-width="1.75" fill="none"/>
<circle cx="540.63" cy="452.97" r="3.1" stroke="#231f20" stroke-width="1.75" fill="none"/>
<circle cx="476.39" cy="447.63" r="3.1" stroke="#231f20" stroke-width="1.75" fill="none"/>
<circle cx="506.57" cy="465.45" r="3.1" stroke="#231f20" stroke-width="1.75" fill="none"/>
<circle cx="482.85" cy="451.08" r="3.1" stroke="#231f20" stroke-width="1.75" fill="none"/>
<circle cx="480.69" cy="491.94" r="3.1" stroke="#231f20" stroke-width="1.75" fill="none"/>
<circle cx="505.28" cy="460.59" r="3.1" stroke="#231f20" stroke-width="1.75" fill="none"/>
<circle cx="503.76" cy="469.48" r="3.1" stroke="#231f20" stroke-width="1.75" fill="none"/>
<circle cx="498.48" cy="473.85" r="3.1" stroke="#231f20" stroke-width="1.75" fill="none"/>
<circle cx="524.51" cy="468.16" r="3.1" stroke="#231f20" stroke-width="1.75" fill="none"/>
<circle cx="503.17" cy="457.68" r="3.1" stroke="#231f20" stroke-width="1.75" fill="none"/>
<circle cx="519.87" cy="465.92" r="3.1" stroke="#231f20" stroke-width="1.75" fill="none"/>
<circle cx="514.34" cy="456.15" r="3.1" stroke="#231f20" stroke-width="1.75" fill="none"/>
<circle cx="524.59" cy="453.78" r="3.1" stroke="#231f20" stroke-width="1.75" fill="none"/>
<circle cx="518.91" cy="452.47" r="3.1" stroke="#231f20" stroke-width="1.75" fill="none"/>
<circle cx="517.42" cy="469.13" r="3.1" stroke="#231f20" stroke-width="1.75" fill="none"/>
<circle cx="524.02" cy="484.75" r="3.1" stroke="#231f20" stroke-width="1.75" fill="none"/>
<circle cx="506.97" cy="455.26" r="3.1" stroke="#231f20" stroke-width="1.75" fill="none"/>
<circle cx="468.45" cy="451.77" r="3.1" stroke="#231f20" stroke-width="1.75" fill="none"/>
<circle cx="543.33" cy="468.90" r="3.1" stroke="#231f20" stroke-width="1.75" fill="none"/>
<circle cx="509.34" cy="471.02" r="3.1" stroke="#231f20" stroke-width="1.75" fill="none"/>
<circle cx="484.25" cy="468.72" r="3.1" stroke="#231f20" stroke-width="1.75" fill="none"/>
<circle cx="481.28" cy="482.84" r="3.1" stroke="#231f20" stroke-width="1.75" fill="none"/>
<circle cx="535.83" cy="470.16" r="3.1" stroke="#231f20" stroke-width="1.75" fill="none"/>
<circle cx="490.97" cy="469.97" r="3.1" stroke="#231f20" stroke-width="1.75" fill="none"/>
<circle cx="483.57" cy="465.33" r="3.1" stroke="#231f20" stroke-width="1.75" fill="none"/>
<circle cx="539.56" cy="480.47" r="3.1" stroke="#231f20" stroke-width="1.75" fill="none"/>
<circle cx="467.67" cy="481.87" r="3.1" stroke="#231f20" stroke-width="1.75" fill="none"/>
<circle cx="523.60" cy="463.80" r="3.1" stroke="#231f20" stroke-width="1.75" fill="none"/>
<circle cx="479.73" cy="459.21" r="3.1" stroke="#231f20" stroke-width="1.75" fill="none"/>
<circle cx="479.14" cy="449.01" r="3.1" stroke="#231f20" stroke-width="1.75" fill="none"/>
<circle cx="508.73" cy="443.43" r="3.1" stroke="#231f20" stroke-width="1.75" fill="none"/>
<circle cx="484.09" cy="455.14" r="3.1" stroke="#231f20" stroke-width="1.75" fill="none"/>
<circle cx="517.02" cy="478.53" r="3.1" stroke="#231f20" stroke-width="1.75" fill="none"/>
<circle cx="527.68" cy="483.65" r="3.1" stroke="#231f20" stroke-width="1.75" fill="none"/>
<circle cx="493.65" cy="460.54" r="3.1" stroke="#231f20" stroke-width="1.75" fill="none"/>
<circle cx="474.20" cy="491.64" r="3.1" stroke="#231f20" stroke-width="1.75" fill="none"/>
<circle cx="521.21" cy="485.51" r="3.1" stroke="#231f20" stroke-width="1.75" fill="none"/>
<circle cx="481.25" cy="466.51" r="3.1" stroke="#231f20" stroke-width="1.75" fill="none"/>
<circle cx="481.90" cy="460.47" r="3.1" stroke="#231f20" stroke-width="1.75" fill="none"/>
<circle cx="511.42" cy="470.21" r="3.1" stroke="#231f20" stroke-width="1.75" fill="none"/>
<circle cx="489.07" cy="470.53" r="3.1" stroke="#231f20" stroke-width="1.75" fill="none"/>
<circle cx="492.11" cy="443.54" r="3.1" stroke="#231f20" stroke-width="1.75" fill="none"/>
<circle cx="525.93" cy="474.15" r="3.1" stroke="#231f20" stroke-width="1.75" fill="none"/>
<circle cx="494.08" cy="490.82" r="3.1" stroke="#231f20" stroke-width="1.75" fill="none"/>
<circle cx="466.06" cy="454.26" r="3.1" stroke="#231f20" stroke-width="1.75" fill="none"/>
<circle cx="530.35" cy="472.76" r="3.1" stroke="#231f20" stroke-width="1.75" fill="none"/>
<circle cx="504.14" cy="457.88" r="3.1" stroke="#231f20" stroke-width="1.75" fill="none"/>
<circle cx="529.15" cy="472.63" r="3.1" stroke="#231f20" stroke-width="1.75" fill="none"/>
<circle cx="506.66" cy="473.13" r="3.1" stroke="#231f20" stroke-width="1.75" fill="none"/>
<circle cx="536.08" cy="423.55" r="3.1" stroke="#231f20" stroke-width="1.75" fill="none"/>
<circle cx="505.03" cy="409.02" r="3.1" stroke="#231f20" stroke-width="1.75" fill="none"/>
<circle cx="513.94" cy="428.93" r="3.1" stroke="#231f20" stroke-width="1.75" fill="none"/>
<circle cx="503.04" cy="421.93" r="3.1" stroke="#231f20" stroke-width="1.75" fill="none"/>
<circle cx="477.89" cy="439.16" r="3.1" stroke="#231f20" stroke-width="1.75" fill="none"/>
<circle cx="519.68" cy="421.38" r="3.1" stroke="#231f20" stroke-width="1.75" fill="none"/>
<circle cx="525.57" cy="428.50" r="3.1" stroke="#231f20" stroke-width="1.75" fill="none"/>
<circle cx="514.32" cy="423.03" r="3.1" stroke="#231f20" stroke-width="1.75" fill="none"/>
<circle cx="513.63" cy="429.71" r="3.1" stroke="#231f20" stroke-width="1.75" fill="none"/>
<circle cx="530.62" cy="433.75" r="3.1" stroke="#231f20" stroke-width="1.75" fill="none"/>
<circle cx="521.17" cy="434.38" r="3.1" stroke="#231f20" stroke-width="1.75" fill="none"/>
<circle cx="508.28" cy="409.07" r="3.1" stroke="#231f20" stroke-width="1.75" fill="none"/>
<circle cx="478.74" cy="433.94" r="3.1" stroke="#231f20" stroke-width="1.75" fill="none"/>
<circle cx="474.99" cy="416.76" r="3.1" stroke="#231f20" stroke-width="1.75" fill="none"/>
<circle cx="512.15" cy="434.60" r="3.1" stroke="#231f20" stroke-width="1.75" fill="none"/>
<circle cx="465.49" cy="413.32" r="3.1" stroke="#231f20" stroke-width="1.75" fill="none"/>
<circle cx="493.62" cy="417.32" r="3.1" stroke="#231f20" stroke-width="1.75" fill="none"/>
<circle cx="511.89" cy="433.13" r="3.1" stroke="#231f20" stroke-width="1.75" fill="none"/>
<circle cx="547.31" cy="411.13" r="3.1" stroke="#231f20" stroke-width="1.75" fill="none"/>
<circle cx="478.02" cy="422.20" r="3.1" stroke="#231f20" stroke-width="1.75" fill="none"/>
<circle cx="504.74" cy="435.98" r="3.1" stroke="#231f20" stroke-width="1.75" fill="none"/>
<circle cx="526.02" cy="433.27" r="3.1" stroke="#231f20" stroke-width="1.75" fill="none"/>
<circle cx="511.83" cy="429.59" r="3.1" stroke="#231f20" stroke-width="1.75" fill="none"/>
<circle cx="520.68" cy="422.81" r="3.1" stroke="#231f20" stroke-width="1.75" fill="none"/>
<circle cx="525.14" cy="410.69" r="3.1" stroke="#231f20" stroke-width="1.75" fill="none"/>
<circle cx="533.40" cy="431.18" r="3.1" stroke="#231f20" stroke-width="1.75" fill="none"/>
<circle cx="477.13" cy="418.34" r="3.1" stroke="#231f20" stroke-width="1.75" fill="none"/>
<circle cx="507.31" cy="416.97" r="3.1" stroke="#231f20" stroke-width="1.75" fill="none"/>
<circle cx="483.79" cy="420.84" r="3.1" stroke="#231f20" stroke-width="1.75" fill="none"/>
<circle cx="480.01" cy="436.42" r="3.1" stroke="#231f20" stroke-width="1.75" fill="none"/>
<circle cx="477.62" cy="430.71" r="3.1" stroke="#231f20" stroke-width="1.75" fill="none"/>
<circle cx="533.92" cy="429.29" r="3.1" stroke="#231f20" stroke-width="1.75" fill="none"/>
<circle cx="542.51" cy="428.98" r="3.1" stroke="#231f20" stroke-width="1.75" fill="none"/>
<circle cx="531.19" cy="416.02" r="3.1" stroke="#231f20" stroke-width="1.75" fill="none"/>
<circle cx="483.85" cy="419.42" r="3.1" stroke="#231f20" stroke-width="1.75" fill="none"/>
<circle cx="514.85" cy="434.80" r="3.1" stroke="#231f20" stroke-width="1.75" fill="none"/>
<circle cx="484.06" cy="418.17" r="3.1" stroke="#231f20" stroke-width="1.75" fill="none"/>
<circle cx="493.72" cy="432.80" r="3.1" stroke="#231f20" stroke-width="1.75" fill="none"/>
<circle cx="498.40" cy="436.11" r="3.1" stroke="#231f20" stroke-width="1.75" fill="none"/>
<circle cx="503.21" cy="417.03" r="3.1" stroke="#231f20" stroke-width="1.75" fill="none"/>
<circle cx="495.01" cy="407.16" r="3.1" stroke="#231f20" stroke-width="1.75" fill="none"/>
<circle cx="520.68" cy="433.65" r="3.1" stroke="#231f20" stroke-width="1.75" fill="none"/>
<circle cx="514.31" cy="422.65" r="3.1" stroke="#231f20" stroke-width="1.75" fill="none"/>
<circle cx="478.49" cy="411.66" r="3.1" stroke="#231f20" stroke-width="1.75" fill="none"/>
<circle cx="543.27" cy="419.78" r="3.1" stroke="#231f20" stroke-width="1.75" fill="none"/>
<circle cx="500.83" cy="432.42" r="3.1" stroke="#231f20" stroke-width="1.75" fill="none"/>
<circle cx="506.45" cy="422.27" r="3.1" stroke="#231f20" stroke-width="1.75" fill="none"/>
<circle cx="556.74" cy="428.63" r="3.1" stroke="#231f20" stroke-width="1.75" fill="none"/>
<circle cx="502.84" cy="420.73" r="3.1" stroke="#231f20" stroke-width="1.75" fill="none"/>
<circle cx="495.62" cy="428.58" r="3.1" stroke="#231f20" stroke-width="1.75" fill="none"/>
<circle cx="478.16" cy="496.93" r="3.1" stroke="#231f20" stroke-width="1.75" fill="none"/>
<circle cx="483.03" cy="497.81" r="3.1" stroke="#231f20" stroke-width="1.75" fill="none"/>
<circle cx="486.13" cy="497.50" r="3.1" stroke="#231f20" stroke-width="1.75" fill="none"/>
<circle cx="489.73" cy="496.97" r="3.1" stroke="#231f20" stroke-width="1.75" fill="none"/>
<circle cx="493.98" cy="497.53" r="3.1" stroke="#231f20" stroke-width="1.75" fill="none"/>
<circle cx="497.92" cy="497.87" r="3.1" stroke="#231f20" stroke-width="1.75" fill="none"/>
<circle cx="501.74" cy="496.93" r="3.1" stroke="#231f20" stroke-width="1.75" fill="none"/>
<circle cx="505.88" cy="497.62" r="3.1" stroke="#231f20" stroke-width="1.75" fill="none"/>
<circle cx="510.53" cy="497.27" r="3.1" stroke="#231f20" stroke-width="1.75" fill="none"/>
<circle cx="514.55" cy="497.46" r="3.1" stroke="#231f20" stroke-width="1.75" fill="none"/>
<circle cx="518.81" cy="496.95" r="3.1" stroke="#231f20" stroke-width="1.75" fill="none"/>
<circle cx="522.96" cy="497.07" r="3.1" stroke="#231f20" stroke-width="1.75" fill="none"/>
<circle cx="526.42" cy="497.69" r="3.1" stroke="#231f20" stroke-width="1.75" fill="none"/>
<circle cx="531.66" cy="497.50" r="3.1" stroke="#231f20" stroke-width="1.75" fill="none"/>
<line x1="452.00" y1="471.60" x2="573.00" y2="442.60" stroke="#fa0d0d" stroke-width="3.8" stroke-linecap="round"/>
<circle cx="779.80" cy="352.80" r="3.1" stroke="#231f20" stroke-width="1.75" fill="none"/>
<circle cx="690.30" cy="362.50" r="3.1" stroke="#231f20" stroke-width="1.75" fill="none"/>
<circle cx="694.50" cy="374.60" r="3.1" stroke="#231f20" stroke-width="1.75" fill="none"/>
<circle cx="667.40" cy="489.10" r="3.1" stroke="#231f20" stroke-width="1.75" fill="none"/>
<circle cx="683.40" cy="489.10" r="3.1" stroke="#231f20" stroke-width="1.75" fill="none"/>
<circle cx="686.90" cy="490.80" r="3.1" stroke="#231f20" stroke-width="1.75" fill="none"/>
<circle cx="709.00" cy="490.80" r="3.1" stroke="#231f20" stroke-width="1.75" fill="none"/>
<circle cx="735.40" cy="495.00" r="3.1" stroke="#231f20" stroke-width="1.75" fill="none"/>
<circle cx="747.20" cy="482.20" r="3.1" stroke="#231f20" stroke-width="1.75" fill="none"/>
<circle cx="671.30" cy="409.60" r="3.1" stroke="#231f20" stroke-width="1.75" fill="none"/>
<circle cx="665.60" cy="449.50" r="3.1" stroke="#231f20" stroke-width="1.75" fill="none"/>
<circle cx="684.20" cy="461.30" r="3.1" stroke="#231f20" stroke-width="1.75" fill="none"/>
<circle cx="686.00" cy="464.00" r="3.1" stroke="#231f20" stroke-width="1.75" fill="none"/>
<circle cx="752.00" cy="451.50" r="3.1" stroke="#231f20" stroke-width="1.75" fill="none"/>
<circle cx="762.00" cy="443.00" r="3.1" stroke="#231f20" stroke-width="1.75" fill="none"/>
<circle cx="676.00" cy="420.00" r="3.1" stroke="#231f20" stroke-width="1.75" fill="none"/>
<circle cx="679.00" cy="432.00" r="3.1" stroke="#231f20" stroke-width="1.75" fill="none"/>
<circle cx="682.00" cy="400.00" r="3.1" stroke="#231f20" stroke-width="1.75" fill="none"/>
<circle cx="747.11" cy="443.71" r="3.1" stroke="#231f20" stroke-width="1.75" fill="none"/>
<circle cx="707.95" cy="416.25" r="3.1" stroke="#231f20" stroke-width="1.75" fill="none"/>
<circle cx="722.49" cy="398.91" r="3.1" stroke="#231f20" stroke-width="1.75" fill="none"/>
<circle cx="729.66" cy="400.94" r="3.1" stroke="#231f20" stroke-width="1.75" fill="none"/>
<circle cx="712.80" cy="391.64" r="3.1" stroke="#231f20" stroke-width="1.75" fill="none"/>
<circle cx="713.49" cy="431.08" r="3.1" stroke="#231f20" stroke-width="1.75" fill="none"/>
<circle cx="725.21" cy="418.31" r="3.1" stroke="#231f20" stroke-width="1.75" fill="none"/>
<circle cx="709.73" cy="435.94" r="3.1" stroke="#231f20" stroke-width="1.75" fill="none"/>
<circle cx="709.05" cy="432.60" r="3.1" stroke="#231f20" stroke-width="1.75" fill="none"/>
<circle cx="717.99" cy="408.01" r="3.1" stroke="#231f20" stroke-width="1.75" fill="none"/>
<circle cx="739.70" cy="435.35" r="3.1" stroke="#231f20" stroke-width="1.75" fill="none"/>
<circle cx="717.35" cy="435.91" r="3.1" stroke="#231f20" stroke-width="1.75" fill="none"/>
<circle cx="752.20" cy="427.82" r="3.1" stroke="#231f20" stroke-width="1.75" fill="none"/>
<circle cx="700.48" cy="441.87" r="3.1" stroke="#231f20" stroke-width="1.75" fill="none"/>
<circle cx="681.96" cy="428.64" r="3.1" stroke="#231f20" stroke-width="1.75" fill="none"/>
<circle cx="741.27" cy="435.06" r="3.1" stroke="#231f20" stroke-width="1.75" fill="none"/>
<circle cx="725.04" cy="410.43" r="3.1" stroke="#231f20" stroke-width="1.75" fill="none"/>
<circle cx="703.09" cy="430.96" r="3.1" stroke="#231f20" stroke-width="1.75" fill="none"/>
<circle cx="698.57" cy="464.97" r="3.1" stroke="#231f20" stroke-width="1.75" fill="none"/>
<circle cx="721.95" cy="454.81" r="3.1" stroke="#231f20" stroke-width="1.75" fill="none"/>
<circle cx="748.19" cy="433.09" r="3.1" stroke="#231f20" stroke-width="1.75" fill="none"/>
<circle cx="745.80" cy="440.24" r="3.1" stroke="#231f20" stroke-width="1.75" fill="none"/>
<circle cx="729.48" cy="429.32" r="3.1" stroke="#231f20" stroke-width="1.75" fill="none"/>
<circle cx="716.73" cy="439.39" r="3.1" stroke="#231f20" stroke-width="1.75" fill="none"/>
<circle cx="721.59" cy="401.80" r="3.1" stroke="#231f20" stroke-width="1.75" fill="none"/>
<circle cx="728.96" cy="427.42" r="3.1" stroke="#231f20" stroke-width="1.75" fill="none"/>
<circle cx="693.25" cy="438.58" r="3.1" stroke="#231f20" stroke-width="1.75" fill="none"/>
<circle cx="704.94" cy="407.20" r="3.1" stroke="#231f20" stroke-width="1.75" fill="none"/>
<circle cx="733.40" cy="381.02" r="3.1" stroke="#231f20" stroke-width="1.75" fill="none"/>
<circle cx="764.04" cy="397.01" r="3.1" stroke="#231f20" stroke-width="1.75" fill="none"/>
<circle cx="712.21" cy="395.47" r="3.1" stroke="#231f20" stroke-width="1.75" fill="none"/>
<circle cx="702.48" cy="414.53" r="3.1" stroke="#231f20" stroke-width="1.75" fill="none"/>
<circle cx="727.19" cy="408.08" r="3.1" stroke="#231f20" stroke-width="1.75" fill="none"/>
<circle cx="734.12" cy="412.55" r="3.1" stroke="#231f20" stroke-width="1.75" fill="none"/>
<circle cx="752.58" cy="429.11" r="3.1" stroke="#231f20" stroke-width="1.75" fill="none"/>
<circle cx="716.28" cy="424.17" r="3.1" stroke="#231f20" stroke-width="1.75" fill="none"/>
<circle cx="731.26" cy="393.24" r="3.1" stroke="#231f20" stroke-width="1.75" fill="none"/>
<circle cx="732.34" cy="409.12" r="3.1" stroke="#231f20" stroke-width="1.75" fill="none"/>
<circle cx="724.23" cy="435.55" r="3.1" stroke="#231f20" stroke-width="1.75" fill="none"/>
<circle cx="691.87" cy="417.40" r="3.1" stroke="#231f20" stroke-width="1.75" fill="none"/>
<circle cx="705.50" cy="419.04" r="3.1" stroke="#231f20" stroke-width="1.75" fill="none"/>
<circle cx="747.02" cy="465.00" r="3.1" stroke="#231f20" stroke-width="1.75" fill="none"/>
<circle cx="760.73" cy="423.40" r="3.1" stroke="#231f20" stroke-width="1.75" fill="none"/>
<circle cx="710.80" cy="423.05" r="3.1" stroke="#231f20" stroke-width="1.75" fill="none"/>
<circle cx="722.19" cy="447.70" r="3.1" stroke="#231f20" stroke-width="1.75" fill="none"/>
<circle cx="737.12" cy="402.74" r="3.1" stroke="#231f20" stroke-width="1.75" fill="none"/>
<circle cx="749.14" cy="450.59" r="3.1" stroke="#231f20" stroke-width="1.75" fill="none"/>
<circle cx="706.00" cy="408.34" r="3.1" stroke="#231f20" stroke-width="1.75" fill="none"/>
<circle cx="720.31" cy="404.66" r="3.1" stroke="#231f20" stroke-width="1.75" fill="none"/>
<circle cx="714.03" cy="422.94" r="3.1" stroke="#231f20" stroke-width="1.75" fill="none"/>
<circle cx="754.86" cy="444.17" r="3.1" stroke="#231f20" stroke-width="1.75" fill="none"/>
<circle cx="689.91" cy="439.84" r="3.1" stroke="#231f20" stroke-width="1.75" fill="none"/>
<circle cx="705.58" cy="437.71" r="3.1" stroke="#231f20" stroke-width="1.75" fill="none"/>
<circle cx="747.35" cy="449.98" r="3.1" stroke="#231f20" stroke-width="1.75" fill="none"/>
<circle cx="717.57" cy="456.39" r="3.1" stroke="#231f20" stroke-width="1.75" fill="none"/>
<circle cx="724.71" cy="438.53" r="3.1" stroke="#231f20" stroke-width="1.75" fill="none"/>
<circle cx="741.59" cy="439.47" r="3.1" stroke="#231f20" stroke-width="1.75" fill="none"/>
<circle cx="739.99" cy="410.82" r="3.1" stroke="#231f20" stroke-width="1.75" fill="none"/>
<circle cx="709.61" cy="412.68" r="3.1" stroke="#231f20" stroke-width="1.75" fill="none"/>
<circle cx="726.43" cy="421.26" r="3.1" stroke="#231f20" stroke-width="1.75" fill="none"/>
<circle cx="717.95" cy="448.55" r="3.1" stroke="#231f20" stroke-width="1.75" fill="none"/>
<circle cx="708.56" cy="411.95" r="3.1" stroke="#231f20" stroke-width="1.75" fill="none"/>
<circle cx="710.51" cy="418.92" r="3.1" stroke="#231f20" stroke-width="1.75" fill="none"/>
<circle cx="736.07" cy="430.04" r="3.1" stroke="#231f20" stroke-width="1.75" fill="none"/>
<circle cx="684.99" cy="405.71" r="3.1" stroke="#231f20" stroke-width="1.75" fill="none"/>
<circle cx="676.74" cy="433.18" r="3.1" stroke="#231f20" stroke-width="1.75" fill="none"/>
<circle cx="723.01" cy="373.59" r="3.1" stroke="#231f20" stroke-width="1.75" fill="none"/>
<circle cx="713.20" cy="404.74" r="3.1" stroke="#231f20" stroke-width="1.75" fill="none"/>
<circle cx="699.96" cy="402.04" r="3.1" stroke="#231f20" stroke-width="1.75" fill="none"/>
<circle cx="717.64" cy="435.69" r="3.1" stroke="#231f20" stroke-width="1.75" fill="none"/>
<circle cx="707.98" cy="445.24" r="3.1" stroke="#231f20" stroke-width="1.75" fill="none"/>
<circle cx="734.08" cy="429.59" r="3.1" stroke="#231f20" stroke-width="1.75" fill="none"/>
<circle cx="743.89" cy="459.11" r="3.1" stroke="#231f20" stroke-width="1.75" fill="none"/>
<circle cx="695.71" cy="431.29" r="3.1" stroke="#231f20" stroke-width="1.75" fill="none"/>
<circle cx="730.64" cy="439.96" r="3.1" stroke="#231f20" stroke-width="1.75" fill="none"/>
<circle cx="751.18" cy="415.58" r="3.1" stroke="#231f20" stroke-width="1.75" fill="none"/>
<circle cx="727.14" cy="418.04" r="3.1" stroke="#231f20" stroke-width="1.75" fill="none"/>
<circle cx="738.92" cy="397.36" r="3.1" stroke="#231f20" stroke-width="1.75" fill="none"/>
<circle cx="706.01" cy="436.04" r="3.1" stroke="#231f20" stroke-width="1.75" fill="none"/>
<circle cx="730.93" cy="415.51" r="3.1" stroke="#231f20" stroke-width="1.75" fill="none"/>
<circle cx="715.66" cy="451.17" r="3.1" stroke="#231f20" stroke-width="1.75" fill="none"/>
<circle cx="698.72" cy="423.49" r="3.1" stroke="#231f20" stroke-width="1.75" fill="none"/>
<circle cx="692.68" cy="437.81" r="3.1" stroke="#231f20" stroke-width="1.75" fill="none"/>
<circle cx="714.59" cy="403.57" r="3.1" stroke="#231f20" stroke-width="1.75" fill="none"/>
<circle cx="731.24" cy="418.43" r="3.1" stroke="#231f20" stroke-width="1.75" fill="none"/>
<circle cx="714.76" cy="442.53" r="3.1" stroke="#231f20" stroke-width="1.75" fill="none"/>
<circle cx="739.35" cy="424.33" r="3.1" stroke="#231f20" stroke-width="1.75" fill="none"/>
<circle cx="703.96" cy="426.16" r="3.1" stroke="#231f20" stroke-width="1.75" fill="none"/>
<circle cx="698.47" cy="430.57" r="3.1" stroke="#231f20" stroke-width="1.75" fill="none"/>
<circle cx="698.23" cy="412.48" r="3.1" stroke="#231f20" stroke-width="1.75" fill="none"/>
<circle cx="708.64" cy="439.19" r="3.1" stroke="#231f20" stroke-width="1.75" fill="none"/>
<circle cx="722.52" cy="418.66" r="3.1" stroke="#231f20" stroke-width="1.75" fill="none"/>
<circle cx="725.51" cy="417.55" r="3.1" stroke="#231f20" stroke-width="1.75" fill="none"/>
<circle cx="727.06" cy="441.85" r="3.1" stroke="#231f20" stroke-width="1.75" fill="none"/>
<circle cx="730.70" cy="423.00" r="3.1" stroke="#231f20" stroke-width="1.75" fill="none"/>
<circle cx="746.85" cy="434.05" r="3.1" stroke="#231f20" stroke-width="1.75" fill="none"/>
<circle cx="708.42" cy="423.43" r="3.1" stroke="#231f20" stroke-width="1.75" fill="none"/>
<circle cx="736.36" cy="407.93" r="3.1" stroke="#231f20" stroke-width="1.75" fill="none"/>
<circle cx="714.09" cy="415.72" r="3.1" stroke="#231f20" stroke-width="1.75" fill="none"/>
<circle cx="713.81" cy="420.21" r="3.1" stroke="#231f20" stroke-width="1.75" fill="none"/>
<circle cx="717.09" cy="448.66" r="3.1" stroke="#231f20" stroke-width="1.75" fill="none"/>
<circle cx="759.67" cy="422.00" r="3.1" stroke="#231f20" stroke-width="1.75" fill="none"/>
<circle cx="731.80" cy="462.79" r="3.1" stroke="#231f20" stroke-width="1.75" fill="none"/>
<circle cx="724.47" cy="418.86" r="3.1" stroke="#231f20" stroke-width="1.75" fill="none"/>
<circle cx="729.42" cy="428.42" r="3.1" stroke="#231f20" stroke-width="1.75" fill="none"/>
<circle cx="731.90" cy="423.79" r="3.1" stroke="#231f20" stroke-width="1.75" fill="none"/>
<circle cx="692.30" cy="417.15" r="3.1" stroke="#231f20" stroke-width="1.75" fill="none"/>
<circle cx="703.71" cy="432.40" r="3.1" stroke="#231f20" stroke-width="1.75" fill="none"/>
<circle cx="688.05" cy="410.44" r="3.1" stroke="#231f20" stroke-width="1.75" fill="none"/>
<circle cx="718.90" cy="428.98" r="3.1" stroke="#231f20" stroke-width="1.75" fill="none"/>
<circle cx="675.45" cy="438.60" r="3.1" stroke="#231f20" stroke-width="1.75" fill="none"/>
<circle cx="722.38" cy="418.06" r="3.1" stroke="#231f20" stroke-width="1.75" fill="none"/>
<circle cx="712.52" cy="383.14" r="3.1" stroke="#231f20" stroke-width="1.75" fill="none"/>
<circle cx="720.14" cy="420.01" r="3.1" stroke="#231f20" stroke-width="1.75" fill="none"/>
<circle cx="737.74" cy="425.68" r="3.1" stroke="#231f20" stroke-width="1.75" fill="none"/>
<circle cx="755.20" cy="410.54" r="3.1" stroke="#231f20" stroke-width="1.75" fill="none"/>
<circle cx="704.64" cy="468.44" r="3.1" stroke="#231f20" stroke-width="1.75" fill="none"/>
<circle cx="724.88" cy="405.55" r="3.1" stroke="#231f20" stroke-width="1.75" fill="none"/>
<circle cx="721.96" cy="433.24" r="3.1" stroke="#231f20" stroke-width="1.75" fill="none"/>
<circle cx="713.52" cy="430.36" r="3.1" stroke="#231f20" stroke-width="1.75" fill="none"/>
<circle cx="693.26" cy="423.36" r="3.1" stroke="#231f20" stroke-width="1.75" fill="none"/>
<circle cx="725.18" cy="422.78" r="3.1" stroke="#231f20" stroke-width="1.75" fill="none"/>
<circle cx="738.44" cy="438.43" r="3.1" stroke="#231f20" stroke-width="1.75" fill="none"/>
<circle cx="723.77" cy="433.09" r="3.1" stroke="#231f20" stroke-width="1.75" fill="none"/>
<circle cx="694.39" cy="408.78" r="3.1" stroke="#231f20" stroke-width="1.75" fill="none"/>
<circle cx="720.29" cy="406.01" r="3.1" stroke="#231f20" stroke-width="1.75" fill="none"/>
<circle cx="719.67" cy="426.06" r="3.1" stroke="#231f20" stroke-width="1.75" fill="none"/>
<circle cx="725.44" cy="394.33" r="3.1" stroke="#231f20" stroke-width="1.75" fill="none"/>
<circle cx="738.25" cy="436.70" r="3.1" stroke="#231f20" stroke-width="1.75" fill="none"/>
<circle cx="736.96" cy="430.59" r="3.1" stroke="#231f20" stroke-width="1.75" fill="none"/>
<circle cx="741.76" cy="381.12" r="3.1" stroke="#231f20" stroke-width="1.75" fill="none"/>
<circle cx="686.85" cy="405.09" r="3.1" stroke="#231f20" stroke-width="1.75" fill="none"/>
<circle cx="671.44" cy="425.71" r="3.1" stroke="#231f20" stroke-width="1.75" fill="none"/>
<circle cx="718.41" cy="427.63" r="3.1" stroke="#231f20" stroke-width="1.75" fill="none"/>
<circle cx="700.49" cy="401.92" r="3.1" stroke="#231f20" stroke-width="1.75" fill="none"/>
<circle cx="723.20" cy="394.92" r="3.1" stroke="#231f20" stroke-width="1.75" fill="none"/>
<circle cx="716.92" cy="406.59" r="3.1" stroke="#231f20" stroke-width="1.75" fill="none"/>
<circle cx="698.44" cy="455.97" r="3.1" stroke="#231f20" stroke-width="1.75" fill="none"/>
<circle cx="717.30" cy="447.10" r="3.1" stroke="#231f20" stroke-width="1.75" fill="none"/>
<circle cx="720.75" cy="451.31" r="3.1" stroke="#231f20" stroke-width="1.75" fill="none"/>
<circle cx="680.39" cy="432.80" r="3.1" stroke="#231f20" stroke-width="1.75" fill="none"/>
<circle cx="713.36" cy="434.84" r="3.1" stroke="#231f20" stroke-width="1.75" fill="none"/>
<circle cx="721.73" cy="424.20" r="3.1" stroke="#231f20" stroke-width="1.75" fill="none"/>
<circle cx="717.05" cy="459.90" r="3.1" stroke="#231f20" stroke-width="1.75" fill="none"/>
<circle cx="727.51" cy="423.92" r="3.1" stroke="#231f20" stroke-width="1.75" fill="none"/>
<circle cx="724.64" cy="420.03" r="3.1" stroke="#231f20" stroke-width="1.75" fill="none"/>
<circle cx="722.28" cy="405.41" r="3.1" stroke="#231f20" stroke-width="1.75" fill="none"/>
<circle cx="730.02" cy="434.30" r="3.1" stroke="#231f20" stroke-width="1.75" fill="none"/>
<circle cx="744.91" cy="410.55" r="3.1" stroke="#231f20" stroke-width="1.75" fill="none"/>
<circle cx="694.34" cy="405.69" r="3.1" stroke="#231f20" stroke-width="1.75" fill="none"/>
<circle cx="731.95" cy="407.74" r="3.1" stroke="#231f20" stroke-width="1.75" fill="none"/>
<circle cx="741.08" cy="398.21" r="3.1" stroke="#231f20" stroke-width="1.75" fill="none"/>
<circle cx="706.87" cy="404.21" r="3.1" stroke="#231f20" stroke-width="1.75" fill="none"/>
<circle cx="721.81" cy="419.21" r="3.1" stroke="#231f20" stroke-width="1.75" fill="none"/>
<circle cx="715.57" cy="454.62" r="3.1" stroke="#231f20" stroke-width="1.75" fill="none"/>
<circle cx="706.01" cy="411.76" r="3.1" stroke="#231f20" stroke-width="1.75" fill="none"/>
<circle cx="738.98" cy="442.08" r="3.1" stroke="#231f20" stroke-width="1.75" fill="none"/>
<circle cx="742.52" cy="444.57" r="3.1" stroke="#231f20" stroke-width="1.75" fill="none"/>
<circle cx="714.91" cy="418.51" r="3.1" stroke="#231f20" stroke-width="1.75" fill="none"/>
<circle cx="705.57" cy="459.27" r="3.1" stroke="#231f20" stroke-width="1.75" fill="none"/>
<circle cx="691.03" cy="432.89" r="3.1" stroke="#231f20" stroke-width="1.75" fill="none"/>
<circle cx="705.77" cy="413.76" r="3.1" stroke="#231f20" stroke-width="1.75" fill="none"/>
<circle cx="701.31" cy="407.77" r="3.1" stroke="#231f20" stroke-width="1.75" fill="none"/>
<circle cx="733.19" cy="390.29" r="3.1" stroke="#231f20" stroke-width="1.75" fill="none"/>
<circle cx="711.56" cy="434.05" r="3.1" stroke="#231f20" stroke-width="1.75" fill="none"/>
<circle cx="710.07" cy="419.47" r="3.1" stroke="#231f20" stroke-width="1.75" fill="none"/>
<circle cx="725.78" cy="403.10" r="3.1" stroke="#231f20" stroke-width="1.75" fill="none"/>
<circle cx="732.04" cy="444.62" r="3.1" stroke="#231f20" stroke-width="1.75" fill="none"/>
<circle cx="733.31" cy="439.28" r="3.1" stroke="#231f20" stroke-width="1.75" fill="none"/>
<circle cx="715.32" cy="448.00" r="3.1" stroke="#231f20" stroke-width="1.75" fill="none"/>
<circle cx="739.69" cy="378.11" r="3.1" stroke="#231f20" stroke-width="1.75" fill="none"/>
<circle cx="704.27" cy="427.83" r="3.1" stroke="#231f20" stroke-width="1.75" fill="none"/>
<circle cx="687.91" cy="423.38" r="3.1" stroke="#231f20" stroke-width="1.75" fill="none"/>
<circle cx="743.16" cy="413.44" r="3.1" stroke="#231f20" stroke-width="1.75" fill="none"/>
<circle cx="727.12" cy="407.68" r="3.1" stroke="#231f20" stroke-width="1.75" fill="none"/>
<circle cx="742.10" cy="433.50" r="3.1" stroke="#231f20" stroke-width="1.75" fill="none"/>
<circle cx="710.55" cy="431.38" r="3.1" stroke="#231f20" stroke-width="1.75" fill="none"/>
<circle cx="716.68" cy="441.45" r="3.1" stroke="#231f20" stroke-width="1.75" fill="none"/>
<circle cx="728.96" cy="438.72" r="3.1" stroke="#231f20" stroke-width="1.75" fill="none"/>
<circle cx="703.74" cy="415.14" r="3.1" stroke="#231f20" stroke-width="1.75" fill="none"/>
<circle cx="709.48" cy="444.77" r="3.1" stroke="#231f20" stroke-width="1.75" fill="none"/>
<circle cx="711.51" cy="428.48" r="3.1" stroke="#231f20" stroke-width="1.75" fill="none"/>
<circle cx="714.41" cy="421.41" r="3.1" stroke="#231f20" stroke-width="1.75" fill="none"/>
<circle cx="741.09" cy="402.28" r="3.1" stroke="#231f20" stroke-width="1.75" fill="none"/>
<circle cx="739.18" cy="437.58" r="3.1" stroke="#231f20" stroke-width="1.75" fill="none"/>
<circle cx="695.83" cy="432.03" r="3.1" stroke="#231f20" stroke-width="1.75" fill="none"/>
<circle cx="688.14" cy="428.96" r="3.1" stroke="#231f20" stroke-width="1.75" fill="none"/>
<circle cx="688.61" cy="436.73" r="3.1" stroke="#231f20" stroke-width="1.75" fill="none"/>
<circle cx="723.46" cy="417.24" r="3.1" stroke="#231f20" stroke-width="1.75" fill="none"/>
<circle cx="726.59" cy="427.14" r="3.1" stroke="#231f20" stroke-width="1.75" fill="none"/>
<circle cx="736.97" cy="448.75" r="3.1" stroke="#231f20" stroke-width="1.75" fill="none"/>
<circle cx="709.51" cy="419.97" r="3.1" stroke="#231f20" stroke-width="1.75" fill="none"/>
<circle cx="696.35" cy="425.96" r="3.1" stroke="#231f20" stroke-width="1.75" fill="none"/>
<circle cx="729.22" cy="392.55" r="3.1" stroke="#231f20" stroke-width="1.75" fill="none"/>
<circle cx="718.43" cy="441.63" r="3.1" stroke="#231f20" stroke-width="1.75" fill="none"/>
<circle cx="750.65" cy="432.19" r="3.1" stroke="#231f20" stroke-width="1.75" fill="none"/>
<circle cx="700.92" cy="439.57" r="3.1" stroke="#231f20" stroke-width="1.75" fill="none"/>
<circle cx="736.62" cy="429.33" r="3.1" stroke="#231f20" stroke-width="1.75" fill="none"/>
<circle cx="684.97" cy="405.62" r="3.1" stroke="#231f20" stroke-width="1.75" fill="none"/>
<circle cx="728.71" cy="449.96" r="3.1" stroke="#231f20" stroke-width="1.75" fill="none"/>
<circle cx="716.25" cy="422.86" r="3.1" stroke="#231f20" stroke-width="1.75" fill="none"/>
<circle cx="709.54" cy="441.96" r="3.1" stroke="#231f20" stroke-width="1.75" fill="none"/>
<circle cx="756.36" cy="407.65" r="3.1" stroke="#231f20" stroke-width="1.75" fill="none"/>
<circle cx="727.77" cy="401.57" r="3.1" stroke="#231f20" stroke-width="1.75" fill="none"/>
<circle cx="690.42" cy="406.90" r="3.1" stroke="#231f20" stroke-width="1.75" fill="none"/>
<circle cx="724.65" cy="425.20" r="3.1" stroke="#231f20" stroke-width="1.75" fill="none"/>
<circle cx="700.86" cy="449.35" r="3.1" stroke="#231f20" stroke-width="1.75" fill="none"/>
<circle cx="752.81" cy="461.20" r="3.1" stroke="#231f20" stroke-width="1.75" fill="none"/>
<circle cx="720.98" cy="416.23" r="3.1" stroke="#231f20" stroke-width="1.75" fill="none"/>
<circle cx="722.26" cy="425.33" r="3.1" stroke="#231f20" stroke-width="1.75" fill="none"/>
<circle cx="740.26" cy="406.50" r="3.1" stroke="#231f20" stroke-width="1.75" fill="none"/>
<circle cx="720.97" cy="441.09" r="3.1" stroke="#231f20" stroke-width="1.75" fill="none"/>
<circle cx="729.73" cy="434.90" r="3.1" stroke="#231f20" stroke-width="1.75" fill="none"/>
<circle cx="711.50" cy="393.40" r="3.1" stroke="#231f20" stroke-width="1.75" fill="none"/>
<circle cx="714.53" cy="464.78" r="3.1" stroke="#231f20" stroke-width="1.75" fill="none"/>
<circle cx="727.59" cy="419.58" r="3.1" stroke="#231f20" stroke-width="1.75" fill="none"/>
<circle cx="704.01" cy="417.51" r="3.1" stroke="#231f20" stroke-width="1.75" fill="none"/>
<circle cx="728.28" cy="410.81" r="3.1" stroke="#231f20" stroke-width="1.75" fill="none"/>
<circle cx="721.44" cy="402.37" r="3.1" stroke="#231f20" stroke-width="1.75" fill="none"/>
<circle cx="714.31" cy="392.93" r="3.1" stroke="#231f20" stroke-width="1.75" fill="none"/>
<circle cx="747.62" cy="414.59" r="3.1" stroke="#231f20" stroke-width="1.75" fill="none"/>
<circle cx="746.01" cy="405.17" r="3.1" stroke="#231f20" stroke-width="1.75" fill="none"/>
<circle cx="740.39" cy="411.82" r="3.1" stroke="#231f20" stroke-width="1.75" fill="none"/>
<circle cx="749.48" cy="400.04" r="3.1" stroke="#231f20" stroke-width="1.75" fill="none"/>
<circle cx="756.94" cy="408.58" r="3.1" stroke="#231f20" stroke-width="1.75" fill="none"/>
<circle cx="769.73" cy="421.15" r="3.1" stroke="#231f20" stroke-width="1.75" fill="none"/>
<circle cx="777.72" cy="406.41" r="3.1" stroke="#231f20" stroke-width="1.75" fill="none"/>
<circle cx="755.35" cy="400.79" r="3.1" stroke="#231f20" stroke-width="1.75" fill="none"/>
<circle cx="755.47" cy="424.23" r="3.1" stroke="#231f20" stroke-width="1.75" fill="none"/>
<circle cx="752.64" cy="420.97" r="3.1" stroke="#231f20" stroke-width="1.75" fill="none"/>
<circle cx="747.75" cy="426.50" r="3.1" stroke="#231f20" stroke-width="1.75" fill="none"/>
<circle cx="741.49" cy="439.26" r="3.1" stroke="#231f20" stroke-width="1.75" fill="none"/>
<circle cx="755.52" cy="401.65" r="3.1" stroke="#231f20" stroke-width="1.75" fill="none"/>
<circle cx="731.16" cy="406.03" r="3.1" stroke="#231f20" stroke-width="1.75" fill="none"/>
<circle cx="782.49" cy="419.47" r="3.1" stroke="#231f20" stroke-width="1.75" fill="none"/>
<circle cx="739.06" cy="402.00" r="3.1" stroke="#231f20" stroke-width="1.75" fill="none"/>
<circle cx="728.86" cy="431.92" r="3.1" stroke="#231f20" stroke-width="1.75" fill="none"/>
<circle cx="738.25" cy="406.49" r="3.1" stroke="#231f20" stroke-width="1.75" fill="none"/>
<circle cx="759.92" cy="406.68" r="3.1" stroke="#231f20" stroke-width="1.75" fill="none"/>
<circle cx="723.03" cy="419.09" r="3.1" stroke="#231f20" stroke-width="1.75" fill="none"/>
<circle cx="763.94" cy="383.47" r="3.1" stroke="#231f20" stroke-width="1.75" fill="none"/>
<circle cx="756.41" cy="401.85" r="3.1" stroke="#231f20" stroke-width="1.75" fill="none"/>
<circle cx="744.83" cy="391.08" r="3.1" stroke="#231f20" stroke-width="1.75" fill="none"/>
<circle cx="733.33" cy="430.05" r="3.1" stroke="#231f20" stroke-width="1.75" fill="none"/>
<circle cx="743.33" cy="423.96" r="3.1" stroke="#231f20" stroke-width="1.75" fill="none"/>
<circle cx="746.80" cy="373.43" r="3.1" stroke="#231f20" stroke-width="1.75" fill="none"/>
<circle cx="753.71" cy="398.46" r="3.1" stroke="#231f20" stroke-width="1.75" fill="none"/>
<circle cx="780.55" cy="427.34" r="3.1" stroke="#231f20" stroke-width="1.75" fill="none"/>
<circle cx="735.37" cy="404.53" r="3.1" stroke="#231f20" stroke-width="1.75" fill="none"/>
<circle cx="749.40" cy="385.35" r="3.1" stroke="#231f20" stroke-width="1.75" fill="none"/>
<circle cx="732.91" cy="417.62" r="3.1" stroke="#231f20" stroke-width="1.75" fill="none"/>
<circle cx="750.28" cy="386.89" r="3.1" stroke="#231f20" stroke-width="1.75" fill="none"/>
<circle cx="764.17" cy="406.36" r="3.1" stroke="#231f20" stroke-width="1.75" fill="none"/>
<circle cx="750.98" cy="391.75" r="3.1" stroke="#231f20" stroke-width="1.75" fill="none"/>
<circle cx="739.67" cy="406.76" r="3.1" stroke="#231f20" stroke-width="1.75" fill="none"/>
<circle cx="759.10" cy="380.86" r="3.1" stroke="#231f20" stroke-width="1.75" fill="none"/>
<circle cx="757.46" cy="425.76" r="3.1" stroke="#231f20" stroke-width="1.75" fill="none"/>
<circle cx="752.52" cy="399.31" r="3.1" stroke="#231f20" stroke-width="1.75" fill="none"/>
<circle cx="752.02" cy="386.96" r="3.1" stroke="#231f20" stroke-width="1.75" fill="none"/>
<circle cx="758.21" cy="424.77" r="3.1" stroke="#231f20" stroke-width="1.75" fill="none"/>
<circle cx="757.05" cy="404.78" r="3.1" stroke="#231f20" stroke-width="1.75" fill="none"/>
<circle cx="746.34" cy="440.77" r="3.1" stroke="#231f20" stroke-width="1.75" fill="none"/>
<circle cx="726.92" cy="433.00" r="3.1" stroke="#231f20" stroke-width="1.75" fill="none"/>
<circle cx="771.91" cy="398.60" r="3.1" stroke="#231f20" stroke-width="1.75" fill="none"/>
<circle cx="760.58" cy="450.08" r="3.1" stroke="#231f20" stroke-width="1.75" fill="none"/>
<circle cx="738.92" cy="436.96" r="3.1" stroke="#231f20" stroke-width="1.75" fill="none"/>
<circle cx="742.88" cy="388.57" r="3.1" stroke="#231f20" stroke-width="1.75" fill="none"/>
<circle cx="734.74" cy="429.10" r="3.1" stroke="#231f20" stroke-width="1.75" fill="none"/>
<circle cx="778.03" cy="405.47" r="3.1" stroke="#231f20" stroke-width="1.75" fill="none"/>
<circle cx="756.81" cy="397.80" r="3.1" stroke="#231f20" stroke-width="1.75" fill="none"/>
<circle cx="752.54" cy="439.74" r="3.1" stroke="#231f20" stroke-width="1.75" fill="none"/>
<circle cx="725.40" cy="419.72" r="3.1" stroke="#231f20" stroke-width="1.75" fill="none"/>
<circle cx="781.86" cy="413.68" r="3.1" stroke="#231f20" stroke-width="1.75" fill="none"/>
<circle cx="746.44" cy="438.75" r="3.1" stroke="#231f20" stroke-width="1.75" fill="none"/>
<circle cx="736.43" cy="396.28" r="3.1" stroke="#231f20" stroke-width="1.75" fill="none"/>
<circle cx="731.21" cy="420.65" r="3.1" stroke="#231f20" stroke-width="1.75" fill="none"/>
<circle cx="759.88" cy="397.01" r="3.1" stroke="#231f20" stroke-width="1.75" fill="none"/>
<circle cx="748.96" cy="388.11" r="3.1" stroke="#231f20" stroke-width="1.75" fill="none"/>
<circle cx="744.36" cy="391.10" r="3.1" stroke="#231f20" stroke-width="1.75" fill="none"/>
<circle cx="748.67" cy="400.11" r="3.1" stroke="#231f20" stroke-width="1.75" fill="none"/>
<circle cx="730.85" cy="429.58" r="3.1" stroke="#231f20" stroke-width="1.75" fill="none"/>
<circle cx="761.17" cy="435.62" r="3.1" stroke="#231f20" stroke-width="1.75" fill="none"/>
<circle cx="737.65" cy="415.55" r="3.1" stroke="#231f20" stroke-width="1.75" fill="none"/>
<circle cx="750.72" cy="439.02" r="3.1" stroke="#231f20" stroke-width="1.75" fill="none"/>
<circle cx="758.22" cy="424.21" r="3.1" stroke="#231f20" stroke-width="1.75" fill="none"/>
<circle cx="763.92" cy="420.96" r="3.1" stroke="#231f20" stroke-width="1.75" fill="none"/>
<circle cx="766.62" cy="418.85" r="3.1" stroke="#231f20" stroke-width="1.75" fill="none"/>
<circle cx="745.46" cy="409.67" r="3.1" stroke="#231f20" stroke-width="1.75" fill="none"/>
<circle cx="762.46" cy="420.25" r="3.1" stroke="#231f20" stroke-width="1.75" fill="none"/>
<circle cx="765.77" cy="399.97" r="3.1" stroke="#231f20" stroke-width="1.75" fill="none"/>
<circle cx="745.40" cy="402.33" r="3.1" stroke="#231f20" stroke-width="1.75" fill="none"/>
<circle cx="752.54" cy="402.75" r="3.1" stroke="#231f20" stroke-width="1.75" fill="none"/>
<circle cx="769.55" cy="405.92" r="3.1" stroke="#231f20" stroke-width="1.75" fill="none"/>
<circle cx="729.89" cy="429.59" r="3.1" stroke="#231f20" stroke-width="1.75" fill="none"/>
<circle cx="756.24" cy="426.04" r="3.1" stroke="#231f20" stroke-width="1.75" fill="none"/>
<circle cx="760.28" cy="375.62" r="3.1" stroke="#231f20" stroke-width="1.75" fill="none"/>
<circle cx="749.57" cy="420.97" r="3.1" stroke="#231f20" stroke-width="1.75" fill="none"/>
<circle cx="747.38" cy="391.01" r="3.1" stroke="#231f20" stroke-width="1.75" fill="none"/>
<circle cx="782.01" cy="378.77" r="3.1" stroke="#231f20" stroke-width="1.75" fill="none"/>
<circle cx="770.96" cy="409.37" r="3.1" stroke="#231f20" stroke-width="1.75" fill="none"/>
<circle cx="773.00" cy="406.09" r="3.1" stroke="#231f20" stroke-width="1.75" fill="none"/>
<circle cx="754.33" cy="454.87" r="3.1" stroke="#231f20" stroke-width="1.75" fill="none"/>
<circle cx="767.62" cy="417.43" r="3.1" stroke="#231f20" stroke-width="1.75" fill="none"/>
<circle cx="753.28" cy="436.63" r="3.1" stroke="#231f20" stroke-width="1.75" fill="none"/>
<circle cx="735.44" cy="403.59" r="3.1" stroke="#231f20" stroke-width="1.75" fill="none"/>
<circle cx="754.76" cy="385.79" r="3.1" stroke="#231f20" stroke-width="1.75" fill="none"/>
<circle cx="757.72" cy="377.62" r="3.1" stroke="#231f20" stroke-width="1.75" fill="none"/>
<circle cx="771.05" cy="374.34" r="3.1" stroke="#231f20" stroke-width="1.75" fill="none"/>
<circle cx="778.75" cy="378.35" r="3.1" stroke="#231f20" stroke-width="1.75" fill="none"/>
<circle cx="779.98" cy="388.57" r="3.1" stroke="#231f20" stroke-width="1.75" fill="none"/>
<circle cx="765.54" cy="374.46" r="3.1" stroke="#231f20" stroke-width="1.75" fill="none"/>
<circle cx="775.72" cy="378.16" r="3.1" stroke="#231f20" stroke-width="1.75" fill="none"/>
<circle cx="768.95" cy="379.71" r="3.1" stroke="#231f20" stroke-width="1.75" fill="none"/>
<circle cx="764.25" cy="392.06" r="3.1" stroke="#231f20" stroke-width="1.75" fill="none"/>
<circle cx="766.63" cy="388.01" r="3.1" stroke="#231f20" stroke-width="1.75" fill="none"/>
<circle cx="777.75" cy="387.47" r="3.1" stroke="#231f20" stroke-width="1.75" fill="none"/>
<circle cx="772.39" cy="373.70" r="3.1" stroke="#231f20" stroke-width="1.75" fill="none"/>
<circle cx="762.79" cy="370.20" r="3.1" stroke="#231f20" stroke-width="1.75" fill="none"/>
<circle cx="759.67" cy="377.98" r="3.1" stroke="#231f20" stroke-width="1.75" fill="none"/>
<circle cx="753.93" cy="381.98" r="3.1" stroke="#231f20" stroke-width="1.75" fill="none"/>
<circle cx="766.68" cy="383.80" r="3.1" stroke="#231f20" stroke-width="1.75" fill="none"/>
<circle cx="773.78" cy="378.04" r="3.1" stroke="#231f20" stroke-width="1.75" fill="none"/>
<circle cx="765.88" cy="375.40" r="3.1" stroke="#231f20" stroke-width="1.75" fill="none"/>
<circle cx="753.56" cy="379.84" r="3.1" stroke="#231f20" stroke-width="1.75" fill="none"/>
<circle cx="776.12" cy="377.52" r="3.1" stroke="#231f20" stroke-width="1.75" fill="none"/>
<circle cx="753.47" cy="387.42" r="3.1" stroke="#231f20" stroke-width="1.75" fill="none"/>
<circle cx="763.72" cy="379.51" r="3.1" stroke="#231f20" stroke-width="1.75" fill="none"/>
<circle cx="764.45" cy="385.63" r="3.1" stroke="#231f20" stroke-width="1.75" fill="none"/>
<circle cx="768.62" cy="367.01" r="3.1" stroke="#231f20" stroke-width="1.75" fill="none"/>
<circle cx="777.07" cy="385.47" r="3.1" stroke="#231f20" stroke-width="1.75" fill="none"/>
<circle cx="770.49" cy="362.99" r="3.1" stroke="#231f20" stroke-width="1.75" fill="none"/>
<circle cx="766.05" cy="368.26" r="3.1" stroke="#231f20" stroke-width="1.75" fill="none"/>
<circle cx="761.24" cy="381.49" r="3.1" stroke="#231f20" stroke-width="1.75" fill="none"/>
<circle cx="725.33" cy="470.46" r="3.1" stroke="#231f20" stroke-width="1.75" fill="none"/>
<circle cx="715.55" cy="477.12" r="3.1" stroke="#231f20" stroke-width="1.75" fill="none"/>
<circle cx="684.29" cy="467.55" r="3.1" stroke="#231f20" stroke-width="1.75" fill="none"/>
<circle cx="720.38" cy="485.41" r="3.1" stroke="#231f20" stroke-width="1.75" fill="none"/>
<circle cx="705.85" cy="484.90" r="3.1" stroke="#231f20" stroke-width="1.75" fill="none"/>
<circle cx="700.53" cy="463.28" r="3.1" stroke="#231f20" stroke-width="1.75" fill="none"/>
<circle cx="685.67" cy="476.93" r="3.1" stroke="#231f20" stroke-width="1.75" fill="none"/>
<circle cx="695.55" cy="467.22" r="3.1" stroke="#231f20" stroke-width="1.75" fill="none"/>
<circle cx="725.35" cy="466.52" r="3.1" stroke="#231f20" stroke-width="1.75" fill="none"/>
<circle cx="706.62" cy="474.21" r="3.1" stroke="#231f20" stroke-width="1.75" fill="none"/>
<circle cx="736.32" cy="465.07" r="3.1" stroke="#231f20" stroke-width="1.75" fill="none"/>
<circle cx="699.18" cy="459.72" r="3.1" stroke="#231f20" stroke-width="1.75" fill="none"/>
<circle cx="711.09" cy="471.51" r="3.1" stroke="#231f20" stroke-width="1.75" fill="none"/>
<circle cx="679.07" cy="463.30" r="3.1" stroke="#231f20" stroke-width="1.75" fill="none"/>
<circle cx="717.99" cy="469.73" r="3.1" stroke="#231f20" stroke-width="1.75" fill="none"/>
<circle cx="716.29" cy="471.50" r="3.1" stroke="#231f20" stroke-width="1.75" fill="none"/>
<circle cx="727.08" cy="483.76" r="3.1" stroke="#231f20" stroke-width="1.75" fill="none"/>
<circle cx="701.70" cy="474.00" r="3.1" stroke="#231f20" stroke-width="1.75" fill="none"/>
<circle cx="714.57" cy="472.33" r="3.1" stroke="#231f20" stroke-width="1.75" fill="none"/>
<circle cx="722.26" cy="475.55" r="3.1" stroke="#231f20" stroke-width="1.75" fill="none"/>
<circle cx="694.84" cy="457.14" r="3.1" stroke="#231f20" stroke-width="1.75" fill="none"/>
<circle cx="712.02" cy="476.04" r="3.1" stroke="#231f20" stroke-width="1.75" fill="none"/>
<circle cx="716.12" cy="469.75" r="3.1" stroke="#231f20" stroke-width="1.75" fill="none"/>
<circle cx="713.78" cy="471.79" r="3.1" stroke="#231f20" stroke-width="1.75" fill="none"/>
<circle cx="691.05" cy="467.06" r="3.1" stroke="#231f20" stroke-width="1.75" fill="none"/>
<circle cx="708.93" cy="461.04" r="3.1" stroke="#231f20" stroke-width="1.75" fill="none"/>
<circle cx="727.40" cy="455.78" r="3.1" stroke="#231f20" stroke-width="1.75" fill="none"/>
<circle cx="708.72" cy="469.48" r="3.1" stroke="#231f20" stroke-width="1.75" fill="none"/>
<circle cx="710.21" cy="455.41" r="3.1" stroke="#231f20" stroke-width="1.75" fill="none"/>
<circle cx="705.25" cy="457.14" r="3.1" stroke="#231f20" stroke-width="1.75" fill="none"/>
<circle cx="686.72" cy="479.75" r="3.1" stroke="#231f20" stroke-width="1.75" fill="none"/>
<circle cx="706.73" cy="467.77" r="3.1" stroke="#231f20" stroke-width="1.75" fill="none"/>
<circle cx="692.22" cy="475.01" r="3.1" stroke="#231f20" stroke-width="1.75" fill="none"/>
<circle cx="704.10" cy="484.44" r="3.1" stroke="#231f20" stroke-width="1.75" fill="none"/>
<circle cx="702.31" cy="464.95" r="3.1" stroke="#231f20" stroke-width="1.75" fill="none"/>
<circle cx="703.22" cy="475.04" r="3.1" stroke="#231f20" stroke-width="1.75" fill="none"/>
<circle cx="691.62" cy="470.05" r="3.1" stroke="#231f20" stroke-width="1.75" fill="none"/>
<circle cx="710.83" cy="478.07" r="3.1" stroke="#231f20" stroke-width="1.75" fill="none"/>
<circle cx="737.87" cy="490.56" r="3.1" stroke="#231f20" stroke-width="1.75" fill="none"/>
<circle cx="709.67" cy="479.62" r="3.1" stroke="#231f20" stroke-width="1.75" fill="none"/>
<line x1="666.00" y1="448.50" x2="789.00" y2="399.10" stroke="#fa0d0d" stroke-width="3.8" stroke-linecap="round"/>
<text x="0.80" y="583.00" font-size="20" text-anchor="start" font-weight="bold" font-style="normal" fill="#231f20" >F</text>
<line x1="65.00" y1="593.10" x2="65.00" y2="732.10" stroke="#231f20" stroke-width="1.55" />
<line x1="60.20" y1="593.10" x2="65.00" y2="593.10" stroke="#231f20" stroke-width="1.55" />
<text x="57.20" y="597.80" font-size="13" text-anchor="end" font-weight="normal" font-style="normal" fill="#231f20" >500</text>
<line x1="60.20" y1="620.90" x2="65.00" y2="620.90" stroke="#231f20" stroke-width="1.55" />
<text x="57.20" y="625.60" font-size="13" text-anchor="end" font-weight="normal" font-style="normal" fill="#231f20" >400</text>
<line x1="60.20" y1="648.70" x2="65.00" y2="648.70" stroke="#231f20" stroke-width="1.55" />
<text x="57.20" y="653.40" font-size="13" text-anchor="end" font-weight="normal" font-style="normal" fill="#231f20" >300</text>
<line x1="60.20" y1="676.50" x2="65.00" y2="676.50" stroke="#231f20" stroke-width="1.55" />
<text x="57.20" y="681.20" font-size="13" text-anchor="end" font-weight="normal" font-style="normal" fill="#231f20" >200</text>
<line x1="60.20" y1="704.30" x2="65.00" y2="704.30" stroke="#231f20" stroke-width="1.55" />
<text x="57.20" y="709.00" font-size="13" text-anchor="end" font-weight="normal" font-style="normal" fill="#231f20" >100</text>
<line x1="60.20" y1="732.10" x2="65.00" y2="732.10" stroke="#231f20" stroke-width="1.55" />
<text x="57.20" y="736.80" font-size="13" text-anchor="end" font-weight="normal" font-style="normal" fill="#231f20" >0</text>
<line x1="71.90" y1="740.00" x2="253.80" y2="740.00" stroke="#231f20" stroke-width="1.55" />
<line x1="71.90" y1="740.00" x2="71.90" y2="744.50" stroke="#231f20" stroke-width="1.55" />
<text x="69.90" y="758.00" font-size="13.5" text-anchor="middle" font-weight="normal" font-style="normal" fill="#231f20" >-3</text>
<line x1="108.28" y1="740.00" x2="108.28" y2="744.50" stroke="#231f20" stroke-width="1.55" />
<text x="106.28" y="758.00" font-size="13.5" text-anchor="middle" font-weight="normal" font-style="normal" fill="#231f20" >-2</text>
<line x1="144.66" y1="740.00" x2="144.66" y2="744.50" stroke="#231f20" stroke-width="1.55" />
<text x="142.66" y="758.00" font-size="13.5" text-anchor="middle" font-weight="normal" font-style="normal" fill="#231f20" >-1</text>
<line x1="181.04" y1="740.00" x2="181.04" y2="744.50" stroke="#231f20" stroke-width="1.55" />
<text x="181.04" y="758.00" font-size="13.5" text-anchor="middle" font-weight="normal" font-style="normal" fill="#231f20" >0</text>
<line x1="217.42" y1="740.00" x2="217.42" y2="744.50" stroke="#231f20" stroke-width="1.55" />
<text x="217.42" y="758.00" font-size="13.5" text-anchor="middle" font-weight="normal" font-style="normal" fill="#231f20" >1</text>
<line x1="253.80" y1="740.00" x2="253.80" y2="744.50" stroke="#231f20" stroke-width="1.55" />
<text x="253.80" y="758.00" font-size="13.5" text-anchor="middle" font-weight="normal" font-style="normal" fill="#231f20" >2</text>
<text x="166.00" y="774.00" font-size="13.5" text-anchor="middle" font-weight="normal" font-style="normal" fill="#231f20" >time rel. to SWD onset (s)</text>
<text x="0" y="0" font-size="13.5" text-anchor="middle" fill="#231f20" transform="translate(26.9,662) rotate(-90)">Firing rate (sp/sec)</text>
<path d="M71.90,732.60V667.51h1.88V732.60zM73.73,732.60V666.28h1.88V732.60zM75.55,732.60V659.44h1.88V732.60zM77.38,732.60V663.54h1.88V732.60zM79.20,732.60V659.55h1.88V732.60zM81.03,732.60V660.26h1.88V732.60zM82.86,732.60V662.89h1.88V732.60zM84.68,732.60V660.13h1.88V732.60zM86.51,732.60V661.96h1.88V732.60zM88.33,732.60V655.18h1.88V732.60zM90.16,732.60V660.87h1.88V732.60zM91.99,732.60V653.89h1.88V732.60zM93.81,732.60V663.29h1.88V732.60zM95.64,732.60V666.33h1.88V732.60zM97.46,732.60V664.72h1.88V732.60zM99.29,732.60V661.30h1.88V732.60zM101.12,732.60V660.67h1.88V732.60zM102.94,732.60V666.06h1.88V732.60zM104.77,732.60V665.43h1.88V732.60zM106.59,732.60V667.93h1.88V732.60zM108.42,732.60V666.26h1.88V732.60zM110.25,732.60V669.27h1.88V732.60zM112.07,732.60V666.98h1.88V732.60zM113.90,732.60V665.56h1.88V732.60zM115.72,732.60V663.90h1.88V732.60zM117.55,732.60V669.16h1.88V732.60zM119.38,732.60V665.46h1.88V732.60zM121.20,732.60V669.53h1.88V732.60zM123.03,732.60V668.49h1.88V732.60zM124.85,732.60V668.10h1.88V732.60zM126.68,732.60V667.71h1.88V732.60zM128.51,732.60V670.68h1.88V732.60zM130.33,732.60V668.56h1.88V732.60zM132.16,732.60V670.38h1.88V732.60zM133.98,732.60V665.82h1.88V732.60zM135.81,732.60V669.85h1.88V732.60zM137.64,732.60V666.82h1.88V732.60zM139.46,732.60V657.37h1.88V732.60zM141.29,732.60V671.48h1.88V732.60zM143.11,732.60V668.62h1.88V732.60zM144.94,732.60V670.06h1.88V732.60zM146.77,732.60V672.36h1.88V732.60zM148.59,732.60V672.57h1.88V732.60zM150.42,732.60V669.28h1.88V732.60zM152.24,732.60V672.45h1.88V732.60zM154.07,732.60V677.92h1.88V732.60zM155.90,732.60V674.64h1.88V732.60zM157.72,732.60V678.94h1.88V732.60zM159.55,732.60V676.84h1.88V732.60zM161.37,732.60V682.59h1.88V732.60zM163.20,732.60V677.01h1.88V732.60zM165.03,732.60V680.39h1.88V732.60zM166.85,732.60V682.26h1.88V732.60zM168.68,732.60V679.25h1.88V732.60zM170.50,732.60V680.18h1.88V732.60zM172.33,732.60V676.55h1.88V732.60zM174.16,732.60V673.76h1.88V732.60zM175.98,732.60V671.13h1.88V732.60zM177.81,732.60V657.70h1.88V732.60zM179.63,732.60V646.96h1.88V732.60zM181.46,732.60V631.75h1.88V732.60zM183.29,732.60V629.73h1.88V732.60zM185.11,732.60V629.03h1.88V732.60zM186.94,732.60V628.37h1.88V732.60zM188.76,732.60V633.56h1.88V732.60zM190.59,732.60V629.97h1.88V732.60zM192.42,732.60V634.11h1.88V732.60zM194.24,732.60V637.14h1.88V732.60zM196.07,732.60V643.64h1.88V732.60zM197.89,732.60V627.66h1.88V732.60zM199.72,732.60V639.84h1.88V732.60zM201.55,732.60V634.54h1.88V732.60zM203.37,732.60V639.73h1.88V732.60zM205.20,732.60V626.74h1.88V732.60zM207.02,732.60V626.49h1.88V732.60zM208.85,732.60V643.77h1.88V732.60zM210.68,732.60V634.59h1.88V732.60zM212.50,732.60V620.37h1.88V732.60zM214.33,732.60V619.02h1.88V732.60zM216.15,732.60V627.56h1.88V732.60zM217.98,732.60V641.58h1.88V732.60zM219.81,732.60V629.50h1.88V732.60zM221.63,732.60V642.48h1.88V732.60zM223.46,732.60V643.12h1.88V732.60zM225.28,732.60V630.03h1.88V732.60zM227.11,732.60V638.91h1.88V732.60zM228.94,732.60V634.31h1.88V732.60zM230.76,732.60V630.79h1.88V732.60zM232.59,732.60V644.04h1.88V732.60zM234.41,732.60V631.49h1.88V732.60zM236.24,732.60V632.79h1.88V732.60zM238.07,732.60V631.65h1.88V732.60zM239.89,732.60V634.51h1.88V732.60zM241.72,732.60V645.62h1.88V732.60zM243.54,732.60V635.41h1.88V732.60zM245.37,732.60V635.27h1.88V732.60zM247.20,732.60V636.58h1.88V732.60zM249.02,732.60V637.10h1.88V732.60zM250.85,732.60V638.12h1.88V732.60zM252.67,732.60V635.76h1.88V732.60z" fill="#000"/>
<polyline points="72.70,730.60 72.70,672.21 74.37,684.29 76.47,667.02 78.53,681.78 80.16,667.95 81.66,678.04 83.51,669.70 85.90,680.62 87.41,668.15 89.57,682.41 91.90,668.83 93.82,681.91 95.28,672.28 97.08,682.96 98.55,674.03 100.19,679.68 102.06,669.03 103.79,679.35 105.21,671.31 107.00,686.40 108.65,670.27 110.36,686.84 112.69,674.89 114.18,684.83 116.17,673.69 117.71,686.86 119.46,676.40 120.93,681.51 122.78,678.16 124.49,687.07 126.64,676.48 128.27,686.66 130.05,672.81 132.22,688.48 133.89,674.53 135.71,684.36 137.23,676.49 139.28,684.53 140.77,676.12 142.70,688.00 144.97,679.30 147.34,685.76 149.48,680.20 151.64,687.51 153.57,677.62 155.73,693.64 158.05,684.87 159.70,697.56 161.68,688.46 164.06,700.68 166.26,688.66 168.47,696.36 170.16,684.57 172.16,695.95 173.64,682.68 175.46,686.96 177.70,676.92 179.58,683.01 181.60,650.95 182.94,664.31 184.59,649.51 186.27,683.94 188.00,633.10 189.56,675.99 191.16,639.89 192.73,667.38 194.42,636.92 195.86,663.28 197.47,647.50 198.90,686.49 200.66,634.33 202.27,682.68 203.64,641.17 205.22,667.32 206.87,640.49 208.20,683.89 209.59,635.23 210.98,686.58 212.71,646.14 214.02,675.05 215.48,639.92 217.02,660.84 218.43,640.94 220.11,667.42 221.70,648.25 223.42,679.16 224.83,650.06 226.72,666.49 228.32,650.30 229.71,667.32 231.52,643.87 232.80,663.60 234.42,649.71 236.16,680.88 237.82,651.75 239.18,686.91 241.07,646.83 242.59,679.11 243.87,653.43 245.14,668.43 246.58,654.33 248.45,689.38 250.33,658.14 252.10,689.76 253.80,658.55" fill="none" stroke="#ff0d0d" stroke-width="2.3" stroke-linejoin="round" />
<polygon points="144.59,633.51 149.81,631.49 155.82,646.96 159.36,645.58 158.28,661.02 147.06,650.36 150.60,648.98" fill="#2b2522"/>
<text x="269.50" y="582.70" font-size="20" text-anchor="start" font-weight="bold" font-style="normal" fill="#231f20" >G</text>
<line x1="331.50" y1="592.10" x2="331.50" y2="732.20" stroke="#231f20" stroke-width="1.55" />
<line x1="326.10" y1="592.10" x2="331.50" y2="592.10" stroke="#231f20" stroke-width="1.55" />
<text x="320.80" y="596.80" font-size="13" text-anchor="end" font-weight="normal" font-style="normal" fill="#231f20" >350</text>
<line x1="326.10" y1="615.45" x2="331.50" y2="615.45" stroke="#231f20" stroke-width="1.55" />
<line x1="326.10" y1="638.80" x2="331.50" y2="638.80" stroke="#231f20" stroke-width="1.55" />
<text x="320.80" y="643.50" font-size="13" text-anchor="end" font-weight="normal" font-style="normal" fill="#231f20" >250</text>
<line x1="326.10" y1="662.15" x2="331.50" y2="662.15" stroke="#231f20" stroke-width="1.55" />
<line x1="326.10" y1="685.50" x2="331.50" y2="685.50" stroke="#231f20" stroke-width="1.55" />
<text x="320.80" y="690.20" font-size="13" text-anchor="end" font-weight="normal" font-style="normal" fill="#231f20" >150</text>
<line x1="326.10" y1="708.85" x2="331.50" y2="708.85" stroke="#231f20" stroke-width="1.55" />
<line x1="326.10" y1="732.20" x2="331.50" y2="732.20" stroke="#231f20" stroke-width="1.55" />
<text x="320.80" y="736.90" font-size="13" text-anchor="end" font-weight="normal" font-style="normal" fill="#231f20" >50</text>
<line x1="338.20" y1="739.60" x2="520.50" y2="739.60" stroke="#231f20" stroke-width="1.55" />
<line x1="338.20" y1="739.60" x2="338.20" y2="744.20" stroke="#231f20" stroke-width="1.55" />
<text x="338.20" y="758.20" font-size="13.5" text-anchor="middle" font-weight="normal" font-style="normal" fill="#231f20" >-3</text>
<line x1="374.65" y1="739.60" x2="374.65" y2="744.20" stroke="#231f20" stroke-width="1.55" />
<text x="374.65" y="758.20" font-size="13.5" text-anchor="middle" font-weight="normal" font-style="normal" fill="#231f20" >-2</text>
<line x1="411.10" y1="739.60" x2="411.10" y2="744.20" stroke="#231f20" stroke-width="1.55" />
<text x="411.10" y="758.20" font-size="13.5" text-anchor="middle" font-weight="normal" font-style="normal" fill="#231f20" >-1</text>
<line x1="447.55" y1="739.60" x2="447.55" y2="744.20" stroke="#231f20" stroke-width="1.55" />
<text x="447.55" y="758.20" font-size="13.5" text-anchor="middle" font-weight="normal" font-style="normal" fill="#231f20" >0</text>
<line x1="484.00" y1="739.60" x2="484.00" y2="744.20" stroke="#231f20" stroke-width="1.55" />
<text x="484.00" y="758.20" font-size="13.5" text-anchor="middle" font-weight="normal" font-style="normal" fill="#231f20" >1</text>
<line x1="520.45" y1="739.60" x2="520.45" y2="744.20" stroke="#231f20" stroke-width="1.55" />
<text x="520.45" y="758.20" font-size="13.5" text-anchor="middle" font-weight="normal" font-style="normal" fill="#231f20" >2</text>
<text x="431.90" y="773.50" font-size="13.5" text-anchor="middle" font-weight="normal" font-style="normal" fill="#231f20" >time rel. to SWD onset (s)</text>
<text x="0" y="0" font-size="13.5" text-anchor="middle" fill="#231f20" transform="translate(291.9,661.5) rotate(-90)">Firing rate (sp/sec)</text>
<path d="M340.20,608.80 L340.84,604.84 L341.48,609.81 L342.13,606.77 L342.77,609.88 L343.41,610.05 L344.05,607.48 L344.69,604.83 L345.34,609.53 L345.98,608.65 L346.62,607.90 L347.26,609.62 L347.91,604.62 L348.55,605.09 L349.19,610.24 L349.83,604.43 L350.47,606.71 L351.12,608.41 L351.76,602.12 L352.40,606.84 L353.04,608.68 L353.69,612.22 L354.33,614.96 L354.97,614.11 L355.61,611.33 L356.25,610.54 L356.90,610.84 L357.54,608.60 L358.18,611.90 L358.82,610.78 L359.46,611.69 L360.11,611.30 L360.75,612.67 L361.39,606.64 L362.03,605.89 L362.68,609.00 L363.32,610.99 L363.96,612.96 L364.60,615.46 L365.24,615.27 L365.89,617.20 L366.53,614.96 L367.17,611.63 L367.81,614.57 L368.45,612.84 L369.10,614.16 L369.74,609.34 L370.38,613.49 L371.02,607.37 L371.66,608.36 L372.31,609.24 L372.95,615.39 L373.59,617.15 L374.23,614.92 L374.88,617.06 L375.52,616.65 L376.16,621.07 L376.80,621.54 L377.44,617.06 L378.09,618.59 L378.73,616.96 L379.37,618.18 L380.01,617.52 L380.65,617.99 L381.30,623.88 L381.94,620.11 L382.58,622.35 L383.22,627.90 L383.87,619.68 L384.51,622.31 L385.15,621.71 L385.79,620.94 L386.43,619.11 L387.08,620.71 L387.72,615.86 L388.36,620.42 L389.00,618.92 L389.64,621.45 L390.29,619.13 L390.93,619.59 L391.57,624.26 L392.21,622.06 L392.86,624.62 L393.50,623.28 L394.14,622.56 L394.78,625.76 L395.42,623.08 L396.07,622.72 L396.71,623.92 L397.35,625.91 L397.99,629.21 L398.63,626.45 L399.28,627.18 L399.92,629.69 L400.56,630.49 L401.20,629.90 L401.85,626.76 L402.49,627.15 L403.13,628.81 L403.77,636.88 L404.41,636.87 L405.06,630.78 L405.70,632.63 L406.34,636.56 L406.98,633.19 L407.62,636.91 L408.27,635.48 L408.91,634.80 L409.55,637.33 L410.19,633.06 L410.84,634.10 L411.48,638.70 L412.12,637.62 L412.76,632.94 L413.40,636.88 L414.05,635.71 L414.69,634.39 L415.33,637.86 L415.97,637.66 L416.62,635.19 L417.26,639.55 L417.90,641.15 L418.54,641.09 L419.18,639.73 L419.83,641.42 L420.47,638.23 L421.11,643.82 L421.75,641.97 L422.39,647.34 L423.04,648.63 L423.68,646.71 L424.32,644.92 L424.96,646.96 L425.61,648.47 L426.25,647.67 L426.89,648.42 L427.53,646.61 L428.17,650.81 L428.82,649.73 L429.46,651.29 L430.10,654.48 L430.74,651.48 L431.38,651.75 L432.03,658.74 L432.67,653.52 L433.31,652.03 L433.95,649.17 L434.60,644.90 L435.24,652.31 L435.88,650.07 L436.52,650.47 L437.16,651.24 L437.81,653.87 L438.45,652.80 L439.09,657.90 L439.73,663.49 L440.37,658.67 L441.02,648.89 L441.66,643.10 L442.30,629.30 L442.94,626.73 L443.58,614.63 L444.23,617.05 L444.87,600.98 L445.51,594.32 L446.15,605.78 L446.80,613.09 L447.44,619.56 L448.08,610.66 L448.72,611.42 L449.36,602.21 L450.01,613.46 L450.65,606.68 L451.29,612.59 L451.93,608.82 L452.57,607.42 L453.22,606.35 L453.86,609.94 L454.50,606.13 L455.14,606.88 L455.79,618.86 L456.43,629.71 L457.07,611.36 L457.71,616.07 L458.35,619.52 L459.00,610.03 L459.64,622.66 L460.28,628.39 L460.92,632.63 L461.56,621.47 L462.21,622.18 L462.85,629.57 L463.49,619.14 L464.13,618.16 L464.78,617.09 L465.42,623.51 L466.06,625.30 L466.70,629.71 L467.34,629.31 L467.99,628.80 L468.63,608.42 L469.27,611.51 L469.91,621.33 L470.56,623.32 L471.20,619.25 L471.84,614.98 L472.48,615.50 L473.12,615.53 L473.77,614.38 L474.41,612.65 L475.05,621.71 L475.69,628.77 L476.33,628.07 L476.98,622.65 L477.62,624.01 L478.26,630.89 L478.90,617.41 L479.55,629.00 L480.19,630.57 L480.83,606.48 L481.47,621.06 L482.11,627.11 L482.76,634.30 L483.40,637.70 L484.04,624.40 L484.68,618.68 L485.32,620.72 L485.97,632.52 L486.61,635.83 L487.25,631.14 L487.89,622.18 L488.53,617.42 L489.18,616.03 L489.82,614.97 L490.46,619.57 L491.10,612.49 L491.75,610.04 L492.39,613.83 L493.03,621.78 L493.67,620.05 L494.31,625.51 L494.96,620.57 L495.60,631.94 L496.24,628.47 L496.88,619.99 L497.52,618.47 L498.17,616.82 L498.81,609.80 L499.45,616.09 L500.09,613.53 L500.74,610.89 L501.38,619.89 L502.02,609.99 L502.66,609.51 L503.30,612.49 L503.95,617.97 L504.59,619.15 L505.23,628.45 L505.87,625.79 L506.51,623.92 L507.16,623.93 L507.80,617.77 L508.44,626.67 L509.08,630.52 L509.73,635.80 L510.37,646.59 L511.01,640.58 L511.65,639.07 L512.29,628.89 L512.94,623.82 L513.58,620.52 L514.22,619.51 L514.86,612.22 L515.50,615.80 L516.15,619.44 L516.79,620.98 L517.43,627.69 L518.07,625.94 L518.72,627.68 L519.36,618.76 L520.00,621.65 L520.00,631.65 L519.36,628.76 L518.72,637.68 L518.07,635.94 L517.43,637.69 L516.79,630.98 L516.15,629.44 L515.50,625.80 L514.86,622.22 L514.22,629.51 L513.58,630.52 L512.94,633.82 L512.29,638.89 L511.65,649.07 L511.01,650.58 L510.37,656.59 L509.73,645.80 L509.08,640.52 L508.44,636.67 L507.80,627.77 L507.16,633.93 L506.51,633.92 L505.87,635.79 L505.23,638.45 L504.59,629.15 L503.95,627.97 L503.30,622.49 L502.66,619.51 L502.02,619.99 L501.38,629.89 L500.74,620.89 L500.09,623.53 L499.45,626.09 L498.81,619.80 L498.17,626.82 L497.52,628.47 L496.88,629.99 L496.24,638.47 L495.60,641.94 L494.96,630.57 L494.31,635.51 L493.67,630.05 L493.03,631.78 L492.39,623.83 L491.75,620.04 L491.10,622.49 L490.46,629.57 L489.82,624.97 L489.18,626.03 L488.53,627.42 L487.89,632.18 L487.25,641.14 L486.61,645.83 L485.97,642.52 L485.32,630.72 L484.68,628.68 L484.04,634.40 L483.40,647.70 L482.76,644.30 L482.11,637.11 L481.47,631.06 L480.83,616.48 L480.19,640.57 L479.55,639.00 L478.90,627.41 L478.26,640.89 L477.62,634.01 L476.98,632.65 L476.33,638.07 L475.69,638.77 L475.05,631.71 L474.41,622.65 L473.77,624.38 L473.12,625.53 L472.48,625.50 L471.84,624.98 L471.20,629.25 L470.56,633.32 L469.91,631.33 L469.27,621.51 L468.63,618.42 L467.99,638.80 L467.34,639.31 L466.70,639.71 L466.06,635.30 L465.42,633.51 L464.78,627.09 L464.13,628.16 L463.49,629.14 L462.85,639.57 L462.21,632.18 L461.56,631.47 L460.92,642.63 L460.28,638.39 L459.64,632.66 L459.00,620.03 L458.35,629.52 L457.71,626.07 L457.07,621.36 L456.43,639.71 L455.79,628.86 L455.14,616.88 L454.50,616.13 L453.86,619.94 L453.22,616.35 L452.57,617.42 L451.93,618.82 L451.29,622.59 L450.65,616.68 L450.01,623.46 L449.36,612.21 L448.72,621.42 L448.08,620.66 L447.44,629.56 L446.80,623.09 L446.15,615.78 L445.51,604.32 L444.87,610.98 L444.23,627.05 L443.58,624.63 L442.94,636.73 L442.30,639.30 L441.66,653.10 L441.02,658.89 L440.37,668.67 L439.73,673.49 L439.09,667.90 L438.45,662.80 L437.81,663.87 L437.16,661.24 L436.52,660.47 L435.88,660.07 L435.24,662.31 L434.60,654.90 L433.95,659.17 L433.31,662.03 L432.67,663.52 L432.03,668.74 L431.38,661.75 L430.74,661.48 L430.10,664.48 L429.46,661.29 L428.82,659.73 L428.17,660.81 L427.53,656.61 L426.89,658.42 L426.25,657.67 L425.61,658.47 L424.96,656.96 L424.32,654.92 L423.68,656.71 L423.04,658.63 L422.39,657.34 L421.75,651.97 L421.11,653.82 L420.47,648.23 L419.83,651.42 L419.18,649.73 L418.54,651.09 L417.90,651.15 L417.26,649.55 L416.62,645.19 L415.97,647.66 L415.33,647.86 L414.69,644.39 L414.05,645.71 L413.40,646.88 L412.76,642.94 L412.12,647.62 L411.48,648.70 L410.84,644.10 L410.19,643.06 L409.55,647.33 L408.91,644.80 L408.27,645.48 L407.62,646.91 L406.98,643.19 L406.34,646.56 L405.70,642.63 L405.06,640.78 L404.41,646.87 L403.77,646.88 L403.13,638.81 L402.49,637.15 L401.85,636.76 L401.20,639.90 L400.56,640.49 L399.92,639.69 L399.28,637.18 L398.63,636.45 L397.99,639.21 L397.35,635.91 L396.71,633.92 L396.07,632.72 L395.42,633.08 L394.78,635.76 L394.14,632.56 L393.50,633.28 L392.86,634.62 L392.21,632.06 L391.57,634.26 L390.93,629.59 L390.29,629.13 L389.64,631.45 L389.00,628.92 L388.36,630.42 L387.72,625.86 L387.08,630.71 L386.43,629.11 L385.79,630.94 L385.15,631.71 L384.51,632.31 L383.87,629.68 L383.22,637.90 L382.58,632.35 L381.94,630.11 L381.30,633.88 L380.65,627.99 L380.01,627.52 L379.37,628.18 L378.73,626.96 L378.09,628.59 L377.44,627.06 L376.80,631.54 L376.16,631.07 L375.52,626.65 L374.88,627.06 L374.23,624.92 L373.59,627.15 L372.95,625.39 L372.31,619.24 L371.66,618.36 L371.02,617.37 L370.38,623.49 L369.74,619.34 L369.10,624.16 L368.45,622.84 L367.81,624.57 L367.17,621.63 L366.53,624.96 L365.89,627.20 L365.24,625.27 L364.60,625.46 L363.96,622.96 L363.32,620.99 L362.68,619.00 L362.03,615.89 L361.39,616.64 L360.75,622.67 L360.11,621.30 L359.46,621.69 L358.82,620.78 L358.18,621.90 L357.54,618.60 L356.90,620.84 L356.25,620.54 L355.61,621.33 L354.97,624.11 L354.33,624.96 L353.69,622.22 L353.04,618.68 L352.40,616.84 L351.76,612.12 L351.12,618.41 L350.47,616.71 L349.83,614.43 L349.19,620.24 L348.55,615.09 L347.91,614.62 L347.26,619.62 L346.62,617.90 L345.98,618.65 L345.34,619.53 L344.69,614.83 L344.05,617.48 L343.41,620.05 L342.77,619.88 L342.13,616.77 L341.48,619.81 L340.84,614.84 L340.20,618.80Z" fill="#b5e3f7"/>
<path d="M340.20,690.18 L340.84,690.89 L341.48,690.91 L342.13,692.27 L342.77,691.82 L343.41,690.86 L344.05,693.76 L344.69,691.69 L345.34,693.41 L345.98,688.09 L346.62,691.53 L347.26,690.21 L347.91,690.07 L348.55,693.21 L349.19,691.77 L349.83,688.45 L350.47,690.25 L351.12,694.67 L351.76,690.56 L352.40,692.29 L353.04,691.68 L353.69,693.56 L354.33,693.71 L354.97,691.80 L355.61,691.12 L356.25,688.61 L356.90,691.14 L357.54,690.54 L358.18,692.31 L358.82,691.57 L359.46,688.75 L360.11,690.92 L360.75,689.42 L361.39,693.58 L362.03,696.11 L362.68,697.03 L363.32,692.38 L363.96,691.01 L364.60,693.97 L365.24,691.36 L365.89,692.11 L366.53,696.27 L367.17,692.36 L367.81,694.41 L368.45,688.08 L369.10,685.33 L369.74,693.01 L370.38,694.95 L371.02,692.77 L371.66,694.81 L372.31,688.40 L372.95,692.87 L373.59,691.83 L374.23,695.96 L374.88,690.30 L375.52,694.62 L376.16,693.93 L376.80,698.05 L377.44,696.86 L378.09,699.87 L378.73,696.38 L379.37,693.02 L380.01,696.62 L380.65,699.46 L381.30,695.48 L381.94,696.75 L382.58,694.85 L383.22,697.93 L383.87,699.20 L384.51,696.07 L385.15,696.18 L385.79,696.94 L386.43,694.41 L387.08,694.98 L387.72,698.56 L388.36,700.27 L389.00,702.39 L389.64,701.82 L390.29,703.55 L390.93,706.30 L391.57,705.20 L392.21,703.41 L392.86,703.52 L393.50,703.76 L394.14,704.53 L394.78,702.64 L395.42,701.81 L396.07,699.04 L396.71,698.25 L397.35,696.89 L397.99,701.07 L398.63,702.22 L399.28,703.25 L399.92,702.43 L400.56,702.75 L401.20,701.33 L401.85,701.51 L402.49,702.31 L403.13,701.39 L403.77,700.82 L404.41,699.54 L405.06,702.69 L405.70,699.35 L406.34,701.65 L406.98,703.94 L407.62,704.32 L408.27,701.90 L408.91,698.60 L409.55,702.12 L410.19,701.12 L410.84,702.41 L411.48,704.90 L412.12,700.80 L412.76,701.35 L413.40,702.25 L414.05,701.36 L414.69,701.52 L415.33,704.15 L415.97,706.94 L416.62,703.13 L417.26,698.48 L417.90,700.44 L418.54,703.06 L419.18,704.21 L419.83,706.26 L420.47,701.66 L421.11,706.60 L421.75,703.40 L422.39,705.47 L423.04,704.81 L423.68,699.45 L424.32,696.89 L424.96,697.99 L425.61,696.95 L426.25,700.28 L426.89,698.27 L427.53,691.13 L428.17,698.05 L428.82,692.98 L429.46,692.75 L430.10,693.64 L430.74,693.15 L431.38,694.60 L432.03,695.29 L432.67,693.16 L433.31,696.05 L433.95,694.97 L434.60,693.88 L435.24,691.33 L435.88,687.55 L436.52,686.67 L437.16,681.71 L437.81,690.09 L438.45,680.39 L439.09,681.52 L439.73,685.45 L440.37,678.91 L441.02,683.43 L441.66,679.82 L442.30,673.20 L442.94,674.36 L443.58,678.27 L444.23,675.77 L444.87,671.91 L445.51,657.70 L446.15,655.85 L446.80,652.74 L447.44,651.92 L448.08,644.14 L448.72,645.59 L449.36,656.40 L450.01,639.97 L450.65,649.17 L451.29,651.42 L451.93,655.73 L452.57,656.86 L453.22,660.70 L453.86,658.35 L454.50,669.63 L455.14,668.28 L455.79,657.78 L456.43,661.08 L457.07,658.54 L457.71,651.72 L458.35,647.76 L459.00,646.67 L459.64,640.18 L460.28,641.01 L460.92,637.86 L461.56,638.49 L462.21,644.15 L462.85,646.24 L463.49,646.63 L464.13,642.83 L464.78,637.17 L465.42,641.93 L466.06,644.60 L466.70,642.43 L467.34,642.18 L467.99,653.36 L468.63,647.97 L469.27,641.48 L469.91,638.86 L470.56,648.83 L471.20,641.59 L471.84,642.59 L472.48,635.94 L473.12,633.38 L473.77,634.97 L474.41,644.40 L475.05,637.90 L475.69,632.23 L476.33,640.63 L476.98,636.90 L477.62,631.88 L478.26,635.79 L478.90,636.21 L479.55,637.66 L480.19,642.62 L480.83,638.19 L481.47,641.23 L482.11,640.52 L482.76,642.03 L483.40,642.96 L484.04,645.16 L484.68,644.90 L485.32,638.87 L485.97,635.44 L486.61,629.62 L487.25,635.96 L487.89,638.01 L488.53,641.14 L489.18,641.23 L489.82,645.60 L490.46,637.47 L491.10,645.44 L491.75,642.37 L492.39,627.36 L493.03,638.50 L493.67,640.08 L494.31,632.92 L494.96,639.51 L495.60,638.51 L496.24,638.21 L496.88,643.42 L497.52,640.17 L498.17,640.60 L498.81,641.15 L499.45,645.53 L500.09,637.82 L500.74,645.41 L501.38,648.59 L502.02,652.23 L502.66,652.86 L503.30,656.54 L503.95,644.69 L504.59,650.89 L505.23,645.92 L505.87,650.13 L506.51,651.29 L507.16,644.99 L507.80,655.03 L508.44,648.32 L509.08,647.51 L509.73,650.41 L510.37,650.76 L511.01,655.31 L511.65,644.50 L512.29,639.08 L512.94,649.50 L513.58,641.72 L514.22,647.58 L514.86,650.45 L515.50,658.34 L516.15,668.38 L516.79,656.74 L517.43,657.08 L518.07,662.62 L518.72,656.08 L519.36,651.67 L520.00,655.39 L520.00,664.39 L519.36,660.67 L518.72,665.08 L518.07,671.62 L517.43,666.08 L516.79,665.74 L516.15,677.38 L515.50,667.34 L514.86,659.45 L514.22,656.58 L513.58,650.72 L512.94,658.50 L512.29,648.08 L511.65,653.50 L511.01,664.31 L510.37,659.76 L509.73,659.41 L509.08,656.51 L508.44,657.32 L507.80,664.03 L507.16,653.99 L506.51,660.29 L505.87,659.13 L505.23,654.92 L504.59,659.89 L503.95,653.69 L503.30,665.54 L502.66,661.86 L502.02,661.23 L501.38,657.59 L500.74,654.41 L500.09,646.82 L499.45,654.53 L498.81,650.15 L498.17,649.60 L497.52,649.17 L496.88,652.42 L496.24,647.21 L495.60,647.51 L494.96,648.51 L494.31,641.92 L493.67,649.08 L493.03,647.50 L492.39,636.36 L491.75,651.37 L491.10,654.44 L490.46,646.47 L489.82,654.60 L489.18,650.23 L488.53,650.14 L487.89,647.01 L487.25,644.96 L486.61,638.62 L485.97,644.44 L485.32,647.87 L484.68,653.90 L484.04,654.16 L483.40,651.96 L482.76,651.03 L482.11,649.52 L481.47,650.23 L480.83,647.19 L480.19,651.62 L479.55,646.66 L478.90,645.21 L478.26,644.79 L477.62,640.88 L476.98,645.90 L476.33,649.63 L475.69,641.23 L475.05,646.90 L474.41,653.40 L473.77,643.97 L473.12,642.38 L472.48,644.94 L471.84,651.59 L471.20,650.59 L470.56,657.83 L469.91,647.86 L469.27,650.48 L468.63,656.97 L467.99,662.36 L467.34,651.18 L466.70,651.43 L466.06,653.60 L465.42,650.93 L464.78,646.17 L464.13,651.83 L463.49,655.63 L462.85,655.24 L462.21,653.15 L461.56,647.49 L460.92,646.86 L460.28,650.01 L459.64,649.18 L459.00,655.67 L458.35,656.76 L457.71,660.72 L457.07,667.54 L456.43,670.08 L455.79,666.78 L455.14,677.28 L454.50,678.63 L453.86,667.35 L453.22,669.70 L452.57,665.86 L451.93,664.73 L451.29,660.42 L450.65,658.17 L450.01,648.97 L449.36,665.40 L448.72,654.59 L448.08,653.14 L447.44,660.92 L446.80,661.74 L446.15,664.85 L445.51,666.70 L444.87,680.91 L444.23,684.77 L443.58,687.27 L442.94,683.36 L442.30,682.20 L441.66,688.82 L441.02,692.43 L440.37,687.91 L439.73,694.45 L439.09,690.52 L438.45,689.39 L437.81,699.09 L437.16,690.71 L436.52,695.67 L435.88,696.55 L435.24,700.33 L434.60,702.88 L433.95,703.97 L433.31,705.05 L432.67,702.16 L432.03,704.29 L431.38,703.60 L430.74,702.15 L430.10,702.64 L429.46,701.75 L428.82,701.98 L428.17,707.05 L427.53,700.13 L426.89,707.27 L426.25,709.28 L425.61,705.95 L424.96,706.99 L424.32,705.89 L423.68,708.45 L423.04,713.81 L422.39,714.47 L421.75,712.40 L421.11,715.60 L420.47,710.66 L419.83,715.26 L419.18,713.21 L418.54,712.06 L417.90,709.44 L417.26,707.48 L416.62,712.13 L415.97,715.94 L415.33,713.15 L414.69,710.52 L414.05,710.36 L413.40,711.25 L412.76,710.35 L412.12,709.80 L411.48,713.90 L410.84,711.41 L410.19,710.12 L409.55,711.12 L408.91,707.60 L408.27,710.90 L407.62,713.32 L406.98,712.94 L406.34,710.65 L405.70,708.35 L405.06,711.69 L404.41,708.54 L403.77,709.82 L403.13,710.39 L402.49,711.31 L401.85,710.51 L401.20,710.33 L400.56,711.75 L399.92,711.43 L399.28,712.25 L398.63,711.22 L397.99,710.07 L397.35,705.89 L396.71,707.25 L396.07,708.04 L395.42,710.81 L394.78,711.64 L394.14,713.53 L393.50,712.76 L392.86,712.52 L392.21,712.41 L391.57,714.20 L390.93,715.30 L390.29,712.55 L389.64,710.82 L389.00,711.39 L388.36,709.27 L387.72,707.56 L387.08,703.98 L386.43,703.41 L385.79,705.94 L385.15,705.18 L384.51,705.07 L383.87,708.20 L383.22,706.93 L382.58,703.85 L381.94,705.75 L381.30,704.48 L380.65,708.46 L380.01,705.62 L379.37,702.02 L378.73,705.38 L378.09,708.87 L377.44,705.86 L376.80,707.05 L376.16,702.93 L375.52,703.62 L374.88,699.30 L374.23,704.96 L373.59,700.83 L372.95,701.87 L372.31,697.40 L371.66,703.81 L371.02,701.77 L370.38,703.95 L369.74,702.01 L369.10,694.33 L368.45,697.08 L367.81,703.41 L367.17,701.36 L366.53,705.27 L365.89,701.11 L365.24,700.36 L364.60,702.97 L363.96,700.01 L363.32,701.38 L362.68,706.03 L362.03,705.11 L361.39,702.58 L360.75,698.42 L360.11,699.92 L359.46,697.75 L358.82,700.57 L358.18,701.31 L357.54,699.54 L356.90,700.14 L356.25,697.61 L355.61,700.12 L354.97,700.80 L354.33,702.71 L353.69,702.56 L353.04,700.68 L352.40,701.29 L351.76,699.56 L351.12,703.67 L350.47,699.25 L349.83,697.45 L349.19,700.77 L348.55,702.21 L347.91,699.07 L347.26,699.21 L346.62,700.53 L345.98,697.09 L345.34,702.41 L344.69,700.69 L344.05,702.76 L343.41,699.86 L342.77,700.82 L342.13,701.27 L341.48,699.91 L340.84,699.89 L340.20,699.18Z" fill="#f8b8b5"/>
<path d="M340.20,607.61V621.59M340.84,603.12V617.45M341.48,607.41V622.77M342.13,603.30V617.40M342.77,610.36V623.98M343.41,609.23V624.99M344.05,605.07V621.73M344.69,602.69V619.81M345.34,604.92V620.01M345.98,606.68V619.60M346.62,606.26V619.77M347.26,606.76V622.26M347.91,604.01V617.33M348.55,604.47V615.64M349.19,607.22V622.97M349.83,602.53V618.68M350.47,603.21V616.13M351.12,606.58V621.28M351.76,599.06V615.51M352.40,603.21V617.17M353.04,608.84V618.72M353.69,610.13V624.77M354.33,612.04V626.58M354.97,613.25V623.54M355.61,612.19V625.82M356.25,609.14V621.45M356.90,609.33V621.77M357.54,607.00V621.31M358.18,608.89V621.42M358.82,611.30V621.85M359.46,610.07V623.35M360.11,612.28V623.40M360.75,608.01V626.07M361.39,606.74V618.61M362.03,605.73V619.38M362.68,607.66V620.57M363.32,610.24V621.70M363.96,613.78V627.09M364.60,615.08V626.98M365.24,612.54V625.06M365.89,613.33V630.65M366.53,613.21V626.17M367.17,609.19V621.89M367.81,612.32V627.49M368.45,610.28V624.40M369.10,614.73V627.40M369.74,605.01V619.92M370.38,613.07V628.29M371.02,604.76V618.77M371.66,608.69V622.03M372.31,604.81V619.95M372.95,616.13V626.28M373.59,614.41V629.85M374.23,614.17V628.96M374.88,614.90V628.96M375.52,617.03V626.48M376.16,619.47V633.22M376.80,618.21V632.93M377.44,617.97V627.20M378.09,616.13V629.74M378.73,615.91V630.95M379.37,615.17V633.13M380.01,613.07V627.80M380.65,614.63V628.70M381.30,620.68V638.04M381.94,615.90V631.86M382.58,622.73V633.86M383.22,626.41V636.91M383.87,620.50V631.16M384.51,618.20V633.77M385.15,618.21V631.21M385.79,620.76V630.21M386.43,618.99V633.26M387.08,618.26V631.60M387.72,614.81V626.45M388.36,617.20V632.63M389.00,616.85V633.58M389.64,618.82V634.42M390.29,619.78V634.11M390.93,615.91V632.93M391.57,622.05V639.07M392.21,618.17V633.92M392.86,625.10V637.99M393.50,622.66V633.78M394.14,619.25V636.66M394.78,624.62V638.20M395.42,621.59V636.99M396.07,623.53V635.17M396.71,621.83V634.21M397.35,626.90V636.16M397.99,625.67V641.28M398.63,625.43V639.25M399.28,623.86V637.18M399.92,628.27V643.88M400.56,630.76V640.16M401.20,627.75V644.67M401.85,622.47V641.70M402.49,626.91V637.96M403.13,628.53V638.62M403.77,633.82V650.83M404.41,633.36V647.63M405.06,630.26V640.49M405.70,631.87V647.53M406.34,632.95V651.12M406.98,633.35V646.18M407.62,632.38V650.35M408.27,634.18V650.47M408.91,631.35V645.41M409.55,635.38V649.20M410.19,633.42V647.37M410.84,630.94V646.78M411.48,634.17V651.87M412.12,636.37V652.25M412.76,631.56V641.95M413.40,633.78V649.15M414.05,632.91V646.16M414.69,629.42V648.74M415.33,633.34V649.36M415.97,634.16V648.27M416.62,632.81V647.61M417.26,636.31V650.40M417.90,641.46V652.34M418.54,641.51V653.38M419.18,640.36V650.78M419.83,638.60V650.49M420.47,638.74V652.06M421.11,643.86V657.40M421.75,642.30V655.86M422.39,648.00V659.77M423.04,643.65V663.11M423.68,642.52V656.24M424.32,644.77V656.54M424.96,647.30V657.90M425.61,648.76V662.49M426.25,647.62V657.96M426.89,644.53V659.85M427.53,643.00V659.69M428.17,650.72V661.27M428.82,646.29V662.96M429.46,646.52V662.09M430.10,650.66V667.65M430.74,648.25V662.50M431.38,649.59V666.53M432.03,655.82V673.01M432.67,650.18V666.85M433.31,647.34V665.04M433.95,648.97V659.76M434.60,643.79V659.08M435.24,648.00V664.92M435.88,650.96V661.83M436.52,651.06V662.58M437.16,649.19V662.12M437.81,652.78V665.66M438.45,649.07V662.45M439.09,655.36V671.17M439.73,661.84V677.13M440.37,659.31V669.12M441.02,647.56V661.93M441.66,642.91V653.02M442.30,626.48V643.39M442.94,625.40V640.76M443.58,612.71V629.11M444.23,613.45V627.95M444.87,598.99V612.08M445.51,591.47V603.40M446.15,604.48V615.63M446.80,610.40V627.60M447.44,615.75V628.76M448.08,606.20V623.78M448.72,609.22V623.34M449.36,599.08V616.85M450.01,608.92V627.40M450.65,603.74V616.39M451.29,612.57V625.33M451.93,605.68V619.46M452.57,607.81V621.78M453.22,604.66V621.03M453.86,605.21V619.96M454.50,604.57V615.54M455.14,607.34V616.62M455.79,616.42V632.70M456.43,628.50V644.23M457.07,611.46V622.09M457.71,613.17V626.68M458.35,617.75V634.43M459.00,607.42V623.14M459.64,620.75V633.28M460.28,624.05V640.31M460.92,632.37V645.19M461.56,621.21V630.79M462.21,620.01V636.46M462.85,626.88V640.30M463.49,618.55V633.79M464.13,618.05V632.48M464.78,612.86V627.83M465.42,621.28V635.48M466.06,620.67V637.69M466.70,627.78V639.95M467.34,626.96V639.71M467.99,628.55V638.75M468.63,607.72V618.56M469.27,612.39V624.72M469.91,617.32V635.06M470.56,621.95V634.19M471.20,614.66V630.39M471.84,611.60V626.49M472.48,615.56V630.32M473.12,612.73V628.20M473.77,612.92V623.81M474.41,610.40V623.05M475.05,622.06V636.54M475.69,624.74V639.01M476.33,624.61V639.62M476.98,620.46V634.19M477.62,621.02V635.80M478.26,630.37V640.73M478.90,616.53V629.57M479.55,629.32V638.17M480.19,626.29V643.63M480.83,601.94V619.38M481.47,621.66V631.28M482.11,623.19V639.53M482.76,634.90V646.27M483.40,634.52V651.57M484.04,621.37V636.90M484.68,617.60V629.11M485.32,617.32V633.54M485.97,628.89V647.38M486.61,632.59V646.21M487.25,626.21V640.20M487.89,619.89V636.06M488.53,613.29V626.49M489.18,614.37V625.82M489.82,612.95V624.06M490.46,616.76V633.65M491.10,612.05V624.47M491.75,605.53V623.58M492.39,612.77V627.38M493.03,618.80V635.07M493.67,617.51V629.30M494.31,621.21V640.08M494.96,618.41V631.80M495.60,629.63V644.33M496.24,625.77V639.68M496.88,618.52V630.72M497.52,616.15V627.52M498.17,612.77V629.55M498.81,609.02V621.82M499.45,611.15V630.36M500.09,611.28V623.82M500.74,611.49V623.91M501.38,615.42V632.41M502.02,608.31V624.11M502.66,607.70V623.51M503.30,610.95V622.94M503.95,617.08V628.40M504.59,619.73V629.77M505.23,627.08V643.20M505.87,625.76V639.86M506.51,620.59V634.57M507.16,622.74V638.58M507.80,615.25V630.14M508.44,625.74V637.23M509.08,630.87V643.85M509.73,634.58V647.01M510.37,645.11V658.05M511.01,640.03V652.86M511.65,638.55V649.39M512.29,625.30V638.90M512.94,619.98V633.90M513.58,620.22V634.61M514.22,614.83V629.59M514.86,608.81V623.66M515.50,611.89V626.86M516.15,619.30V631.99M516.79,621.35V635.39M517.43,624.42V637.02M518.07,626.32V638.69M518.72,627.84V640.63M519.36,618.09V631.28M520.00,618.63V636.14" stroke="#80cff3" stroke-width="0.9" fill="none"/>
<path d="M340.20,688.73V698.63M340.84,689.15V700.03M341.48,691.83V702.07M342.13,691.23V705.45M342.77,689.21V703.35M343.41,688.77V702.18M344.05,689.81V703.69M344.69,687.37V701.27M345.34,690.29V706.38M345.98,687.91V696.79M346.62,687.41V700.20M347.26,690.03V701.36M347.91,687.53V699.98M348.55,690.14V705.62M349.19,690.58V700.84M349.83,688.02V699.72M350.47,689.97V700.84M351.12,691.38V707.57M351.76,687.35V701.22M352.40,692.69V704.48M353.04,691.67V703.06M353.69,693.54V706.40M354.33,689.66V705.41M354.97,691.19V704.81M355.61,690.32V701.36M356.25,688.81V698.79M356.90,688.80V699.19M357.54,689.81V700.83M358.18,690.39V700.69M358.82,691.39V702.09M359.46,688.23V696.83M360.11,690.49V700.38M360.75,685.83V702.25M361.39,689.60V704.39M362.03,693.08V707.94M362.68,697.55V708.10M363.32,691.96V702.06M363.96,688.31V701.77M364.60,693.22V706.26M365.24,690.51V704.52M365.89,692.50V701.86M366.53,696.88V708.97M367.17,690.39V702.26M367.81,693.24V703.62M368.45,687.63V696.84M369.10,683.86V697.77M369.74,692.78V705.98M370.38,695.62V707.20M371.02,692.30V701.60M371.66,691.36V706.58M372.31,687.52V700.11M372.95,690.43V701.09M373.59,691.16V701.50M374.23,696.07V709.37M374.88,688.10V700.17M375.52,695.54V702.84M376.16,693.36V704.29M376.80,695.88V708.81M377.44,693.88V708.77M378.09,696.46V711.55M378.73,695.25V709.84M379.37,691.01V702.25M380.01,694.92V707.25M380.65,696.05V710.46M381.30,692.20V705.44M381.94,696.84V708.24M382.58,691.00V707.94M383.22,698.30V706.69M383.87,695.18V710.42M384.51,693.74V708.58M385.15,694.60V705.80M385.79,695.40V708.75M386.43,693.12V704.21M387.08,691.37V703.78M387.72,694.40V708.27M388.36,698.97V709.00M389.00,700.98V713.25M389.64,702.02V710.39M390.29,702.59V711.59M390.93,703.84V716.10M391.57,705.54V717.28M392.21,699.13V713.72M392.86,702.35V714.27M393.50,700.10V712.46M394.14,703.57V715.47M394.78,702.57V713.71M395.42,698.06V709.83M396.07,695.70V708.81M396.71,697.08V708.56M397.35,696.80V709.32M397.99,698.31V711.26M398.63,698.08V710.43M399.28,702.07V713.69M399.92,702.49V714.91M400.56,701.07V714.28M401.20,700.10V711.90M401.85,697.12V714.73M402.49,703.22V715.41M403.13,698.35V709.74M403.77,698.36V713.11M404.41,695.18V710.96M405.06,703.04V710.81M405.70,696.05V711.72M406.34,698.48V709.85M406.98,703.50V716.64M407.62,702.82V712.57M408.27,700.57V715.40M408.91,696.61V708.37M409.55,702.00V713.40M410.19,698.28V714.43M410.84,703.29V712.55M411.48,703.72V714.87M412.12,699.52V711.63M412.76,699.28V711.38M413.40,703.23V710.44M414.05,699.11V711.83M414.69,697.84V713.75M415.33,704.23V715.10M415.97,707.28V719.21M416.62,703.07V715.33M417.26,695.88V707.27M417.90,700.36V713.84M418.54,699.35V713.89M419.18,704.28V716.45M419.83,701.84V719.06M420.47,697.59V709.67M421.11,702.92V720.09M421.75,703.15V712.19M422.39,705.57V716.32M423.04,701.33V717.15M423.68,697.55V711.32M424.32,696.73V709.58M424.96,696.69V708.18M425.61,695.28V706.71M426.25,697.89V712.54M426.89,695.94V709.07M427.53,688.46V702.97M428.17,694.56V707.44M428.82,690.99V702.88M429.46,692.00V701.24M430.10,694.33V706.67M430.74,693.68V704.96M431.38,691.00V707.42M432.03,691.78V708.54M432.67,689.44V701.88M433.31,694.90V705.65M433.95,695.00V706.47M434.60,692.80V705.86M435.24,691.13V702.48M435.88,688.24V695.76M436.52,686.96V696.41M437.16,678.40V690.88M437.81,689.62V702.25M438.45,680.19V693.65M439.09,680.03V691.29M439.73,681.56V694.82M440.37,675.28V688.58M441.02,680.80V695.86M441.66,676.25V691.08M442.30,671.02V686.00M442.94,672.17V684.04M443.58,677.67V689.76M444.23,675.57V684.04M444.87,668.03V683.96M445.51,657.24V668.67M446.15,654.60V664.03M446.80,652.59V662.84M447.44,651.44V660.25M448.08,640.79V655.72M448.72,642.00V658.84M449.36,656.94V669.46M450.01,636.40V649.05M450.65,646.85V660.28M451.29,647.39V663.22M451.93,655.45V663.79M452.57,652.74V664.91M453.22,657.56V673.42M453.86,657.01V671.22M454.50,669.39V678.39M455.14,665.93V677.30M455.79,654.20V669.72M456.43,660.48V674.05M457.07,655.88V669.04M457.71,649.42V661.04M458.35,646.27V656.07M459.00,646.42V657.69M459.64,640.60V651.65M460.28,636.52V652.14M460.92,633.93V649.03M461.56,638.44V650.02M462.21,640.52V653.58M462.85,644.40V654.70M463.49,642.13V655.63M464.13,638.35V656.31M464.78,633.01V647.75M465.42,640.52V654.75M466.06,643.45V655.52M466.70,640.69V652.94M467.34,637.95V653.23M467.99,653.72V664.77M468.63,643.64V656.35M469.27,638.85V654.86M469.91,636.05V647.71M470.56,645.15V658.76M471.20,640.06V651.47M471.84,642.54V655.89M472.48,635.64V648.01M473.12,632.76V644.95M473.77,632.77V644.97M474.41,640.06V655.26M475.05,635.73V649.16M475.69,628.73V645.37M476.33,638.15V653.73M476.98,632.81V645.76M477.62,628.71V643.79M478.26,631.48V643.87M478.90,636.65V645.02M479.55,637.92V649.12M480.19,638.89V656.08M480.83,637.50V649.36M481.47,641.67V652.33M482.11,639.22V652.06M482.76,641.12V653.49M483.40,640.75V653.68M484.04,644.31V657.12M484.68,644.86V658.33M485.32,635.48V649.19M485.97,633.50V645.67M486.61,627.96V640.10M487.25,635.16V648.39M487.89,633.94V648.91M488.53,639.05V649.37M489.18,637.71V650.06M489.82,643.80V657.83M490.46,637.04V648.44M491.10,643.57V653.80M491.75,640.27V653.76M492.39,625.80V640.72M493.03,635.17V647.39M493.67,640.06V649.03M494.31,631.59V642.81M494.96,639.57V652.85M495.60,636.26V647.54M496.24,638.02V648.96M496.88,643.27V653.55M497.52,635.75V649.72M498.17,636.93V650.53M498.81,637.93V652.12M499.45,641.72V656.87M500.09,634.87V648.75M500.74,643.02V656.40M501.38,646.51V658.23M502.02,652.42V660.56M502.66,650.52V661.29M503.30,652.67V669.96M503.95,644.53V653.40M504.59,647.93V659.99M505.23,644.73V659.11M505.87,648.84V662.74M506.51,647.62V660.78M507.16,642.54V655.99M507.80,651.15V665.43M508.44,644.88V658.47M509.08,644.90V657.15M509.73,646.91V660.61M510.37,649.81V663.58M511.01,654.48V665.38M511.65,644.51V653.23M512.29,638.07V652.09M512.94,647.71V658.42M513.58,642.21V651.32M514.22,646.40V658.91M514.86,651.22V659.64M515.50,656.13V667.22M516.15,667.77V679.48M516.79,652.63V665.13M517.43,653.74V666.62M518.07,662.52V673.49M518.72,656.38V669.02M519.36,651.39V664.81M520.00,653.18V665.83" stroke="#f4908d" stroke-width="0.9" fill="none"/>
<polyline points="340.20,613.80 340.84,609.84 341.48,614.81 342.13,611.77 342.77,614.88 343.41,615.05 344.05,612.48 344.69,609.83 345.34,614.53 345.98,613.65 346.62,612.90 347.26,614.62 347.91,609.62 348.55,610.09 349.19,615.24 349.83,609.43 350.47,611.71 351.12,613.41 351.76,607.12 352.40,611.84 353.04,613.68 353.69,617.22 354.33,619.96 354.97,619.11 355.61,616.33 356.25,615.54 356.90,615.84 357.54,613.60 358.18,616.90 358.82,615.78 359.46,616.69 360.11,616.30 360.75,617.67 361.39,611.64 362.03,610.89 362.68,614.00 363.32,615.99 363.96,617.96 364.60,620.46 365.24,620.27 365.89,622.20 366.53,619.96 367.17,616.63 367.81,619.57 368.45,617.84 369.10,619.16 369.74,614.34 370.38,618.49 371.02,612.37 371.66,613.36 372.31,614.24 372.95,620.39 373.59,622.15 374.23,619.92 374.88,622.06 375.52,621.65 376.16,626.07 376.80,626.54 377.44,622.06 378.09,623.59 378.73,621.96 379.37,623.18 380.01,622.52 380.65,622.99 381.30,628.88 381.94,625.11 382.58,627.35 383.22,632.90 383.87,624.68 384.51,627.31 385.15,626.71 385.79,625.94 386.43,624.11 387.08,625.71 387.72,620.86 388.36,625.42 389.00,623.92 389.64,626.45 390.29,624.13 390.93,624.59 391.57,629.26 392.21,627.06 392.86,629.62 393.50,628.28 394.14,627.56 394.78,630.76 395.42,628.08 396.07,627.72 396.71,628.92 397.35,630.91 397.99,634.21 398.63,631.45 399.28,632.18 399.92,634.69 400.56,635.49 401.20,634.90 401.85,631.76 402.49,632.15 403.13,633.81 403.77,641.88 404.41,641.87 405.06,635.78 405.70,637.63 406.34,641.56 406.98,638.19 407.62,641.91 408.27,640.48 408.91,639.80 409.55,642.33 410.19,638.06 410.84,639.10 411.48,643.70 412.12,642.62 412.76,637.94 413.40,641.88 414.05,640.71 414.69,639.39 415.33,642.86 415.97,642.66 416.62,640.19 417.26,644.55 417.90,646.15 418.54,646.09 419.18,644.73 419.83,646.42 420.47,643.23 421.11,648.82 421.75,646.97 422.39,652.34 423.04,653.63 423.68,651.71 424.32,649.92 424.96,651.96 425.61,653.47 426.25,652.67 426.89,653.42 427.53,651.61 428.17,655.81 428.82,654.73 429.46,656.29 430.10,659.48 430.74,656.48 431.38,656.75 432.03,663.74 432.67,658.52 433.31,657.03 433.95,654.17 434.60,649.90 435.24,657.31 435.88,655.07 436.52,655.47 437.16,656.24 437.81,658.87 438.45,657.80 439.09,662.90 439.73,668.49 440.37,663.67 441.02,653.89 441.66,648.10 442.30,634.30 442.94,631.73 443.58,619.63 444.23,622.05 444.87,605.98 445.51,599.32 446.15,610.78 446.80,618.09 447.44,624.56 448.08,615.66 448.72,616.42 449.36,607.21 450.01,618.46 450.65,611.68 451.29,617.59 451.93,613.82 452.57,612.42 453.22,611.35 453.86,614.94 454.50,611.13 455.14,611.88 455.79,623.86 456.43,634.71 457.07,616.36 457.71,621.07 458.35,624.52 459.00,615.03 459.64,627.66 460.28,633.39 460.92,637.63 461.56,626.47 462.21,627.18 462.85,634.57 463.49,624.14 464.13,623.16 464.78,622.09 465.42,628.51 466.06,630.30 466.70,634.71 467.34,634.31 467.99,633.80 468.63,613.42 469.27,616.51 469.91,626.33 470.56,628.32 471.20,624.25 471.84,619.98 472.48,620.50 473.12,620.53 473.77,619.38 474.41,617.65 475.05,626.71 475.69,633.77 476.33,633.07 476.98,627.65 477.62,629.01 478.26,635.89 478.90,622.41 479.55,634.00 480.19,635.57 480.83,611.48 481.47,626.06 482.11,632.11 482.76,639.30 483.40,642.70 484.04,629.40 484.68,623.68 485.32,625.72 485.97,637.52 486.61,640.83 487.25,636.14 487.89,627.18 488.53,622.42 489.18,621.03 489.82,619.97 490.46,624.57 491.10,617.49 491.75,615.04 492.39,618.83 493.03,626.78 493.67,625.05 494.31,630.51 494.96,625.57 495.60,636.94 496.24,633.47 496.88,624.99 497.52,623.47 498.17,621.82 498.81,614.80 499.45,621.09 500.09,618.53 500.74,615.89 501.38,624.89 502.02,614.99 502.66,614.51 503.30,617.49 503.95,622.97 504.59,624.15 505.23,633.45 505.87,630.79 506.51,628.92 507.16,628.93 507.80,622.77 508.44,631.67 509.08,635.52 509.73,640.80 510.37,651.59 511.01,645.58 511.65,644.07 512.29,633.89 512.94,628.82 513.58,625.52 514.22,624.51 514.86,617.22 515.50,620.80 516.15,624.44 516.79,625.98 517.43,632.69 518.07,630.94 518.72,632.68 519.36,623.76 520.00,626.65" fill="none" stroke="#1088cf" stroke-width="3.0" stroke-linejoin="round" />
<polyline points="340.20,694.68 340.84,695.39 341.48,695.41 342.13,696.77 342.77,696.32 343.41,695.36 344.05,698.26 344.69,696.19 345.34,697.91 345.98,692.59 346.62,696.03 347.26,694.71 347.91,694.57 348.55,697.71 349.19,696.27 349.83,692.95 350.47,694.75 351.12,699.17 351.76,695.06 352.40,696.79 353.04,696.18 353.69,698.06 354.33,698.21 354.97,696.30 355.61,695.62 356.25,693.11 356.90,695.64 357.54,695.04 358.18,696.81 358.82,696.07 359.46,693.25 360.11,695.42 360.75,693.92 361.39,698.08 362.03,700.61 362.68,701.53 363.32,696.88 363.96,695.51 364.60,698.47 365.24,695.86 365.89,696.61 366.53,700.77 367.17,696.86 367.81,698.91 368.45,692.58 369.10,689.83 369.74,697.51 370.38,699.45 371.02,697.27 371.66,699.31 372.31,692.90 372.95,697.37 373.59,696.33 374.23,700.46 374.88,694.80 375.52,699.12 376.16,698.43 376.80,702.55 377.44,701.36 378.09,704.37 378.73,700.88 379.37,697.52 380.01,701.12 380.65,703.96 381.30,699.98 381.94,701.25 382.58,699.35 383.22,702.43 383.87,703.70 384.51,700.57 385.15,700.68 385.79,701.44 386.43,698.91 387.08,699.48 387.72,703.06 388.36,704.77 389.00,706.89 389.64,706.32 390.29,708.05 390.93,710.80 391.57,709.70 392.21,707.91 392.86,708.02 393.50,708.26 394.14,709.03 394.78,707.14 395.42,706.31 396.07,703.54 396.71,702.75 397.35,701.39 397.99,705.57 398.63,706.72 399.28,707.75 399.92,706.93 400.56,707.25 401.20,705.83 401.85,706.01 402.49,706.81 403.13,705.89 403.77,705.32 404.41,704.04 405.06,707.19 405.70,703.85 406.34,706.15 406.98,708.44 407.62,708.82 408.27,706.40 408.91,703.10 409.55,706.62 410.19,705.62 410.84,706.91 411.48,709.40 412.12,705.30 412.76,705.85 413.40,706.75 414.05,705.86 414.69,706.02 415.33,708.65 415.97,711.44 416.62,707.63 417.26,702.98 417.90,704.94 418.54,707.56 419.18,708.71 419.83,710.76 420.47,706.16 421.11,711.10 421.75,707.90 422.39,709.97 423.04,709.31 423.68,703.95 424.32,701.39 424.96,702.49 425.61,701.45 426.25,704.78 426.89,702.77 427.53,695.63 428.17,702.55 428.82,697.48 429.46,697.25 430.10,698.14 430.74,697.65 431.38,699.10 432.03,699.79 432.67,697.66 433.31,700.55 433.95,699.47 434.60,698.38 435.24,695.83 435.88,692.05 436.52,691.17 437.16,686.21 437.81,694.59 438.45,684.89 439.09,686.02 439.73,689.95 440.37,683.41 441.02,687.93 441.66,684.32 442.30,677.70 442.94,678.86 443.58,682.77 444.23,680.27 444.87,676.41 445.51,662.20 446.15,660.35 446.80,657.24 447.44,656.42 448.08,648.64 448.72,650.09 449.36,660.90 450.01,644.47 450.65,653.67 451.29,655.92 451.93,660.23 452.57,661.36 453.22,665.20 453.86,662.85 454.50,674.13 455.14,672.78 455.79,662.28 456.43,665.58 457.07,663.04 457.71,656.22 458.35,652.26 459.00,651.17 459.64,644.68 460.28,645.51 460.92,642.36 461.56,642.99 462.21,648.65 462.85,650.74 463.49,651.13 464.13,647.33 464.78,641.67 465.42,646.43 466.06,649.10 466.70,646.93 467.34,646.68 467.99,657.86 468.63,652.47 469.27,645.98 469.91,643.36 470.56,653.33 471.20,646.09 471.84,647.09 472.48,640.44 473.12,637.88 473.77,639.47 474.41,648.90 475.05,642.40 475.69,636.73 476.33,645.13 476.98,641.40 477.62,636.38 478.26,640.29 478.90,640.71 479.55,642.16 480.19,647.12 480.83,642.69 481.47,645.73 482.11,645.02 482.76,646.53 483.40,647.46 484.04,649.66 484.68,649.40 485.32,643.37 485.97,639.94 486.61,634.12 487.25,640.46 487.89,642.51 488.53,645.64 489.18,645.73 489.82,650.10 490.46,641.97 491.10,649.94 491.75,646.87 492.39,631.86 493.03,643.00 493.67,644.58 494.31,637.42 494.96,644.01 495.60,643.01 496.24,642.71 496.88,647.92 497.52,644.67 498.17,645.10 498.81,645.65 499.45,650.03 500.09,642.32 500.74,649.91 501.38,653.09 502.02,656.73 502.66,657.36 503.30,661.04 503.95,649.19 504.59,655.39 505.23,650.42 505.87,654.63 506.51,655.79 507.16,649.49 507.80,659.53 508.44,652.82 509.08,652.01 509.73,654.91 510.37,655.26 511.01,659.81 511.65,649.00 512.29,643.58 512.94,654.00 513.58,646.22 514.22,652.08 514.86,654.95 515.50,662.84 516.15,672.88 516.79,661.24 517.43,661.58 518.07,667.12 518.72,660.58 519.36,656.17 520.00,659.89" fill="none" stroke="#ea2320" stroke-width="3.0" stroke-linejoin="round" />
<line x1="392.40" y1="585.60" x2="411.20" y2="585.60" stroke="#2aa0dc" stroke-width="1.7" />
<line x1="411.70" y1="591.90" x2="447.80" y2="591.90" stroke="#2aa0dc" stroke-width="1.7" />
<text x="402.40" y="589.50" font-size="17" text-anchor="middle" font-weight="bold" font-style="normal" fill="#2aa0dc" letter-spacing="1.5">**</text>
<text x="430.60" y="594.80" font-size="17" text-anchor="middle" font-weight="bold" font-style="normal" fill="#2aa0dc" letter-spacing="1.5">***</text>
<line x1="429.25" y1="723.10" x2="448.00" y2="723.10" stroke="#ff1a1a" stroke-width="1.7" />
<text x="439.40" y="725.10" font-size="17" text-anchor="middle" font-weight="bold" font-style="normal" fill="#ef2b2b" >*</text>
<rect x="478.25" y="692.9" width="10.5" height="8" fill="#f0221c"/>
<rect x="478.25" y="710" width="10.5" height="7.5" fill="#1a8fd6"/>
<text x="492.60" y="700.60" font-size="13.5" text-anchor="start" font-weight="normal" font-style="normal" fill="#231f20" >σ</text>
<text x="492.60" y="717.60" font-size="13.5" text-anchor="start" font-weight="normal" font-style="normal" fill="#231f20" >mean</text>
<text x="537.00" y="583.00" font-size="20" text-anchor="start" font-weight="bold" font-style="normal" fill="#231f20" >H</text>
<line x1="600.00" y1="589.70" x2="600.00" y2="731.80" stroke="#231f20" stroke-width="1.55" />
<line x1="594.40" y1="589.70" x2="600.00" y2="589.70" stroke="#231f20" stroke-width="1.55" />
<text x="590.20" y="594.40" font-size="13" text-anchor="end" font-weight="normal" font-style="normal" fill="#231f20" >1.2</text>
<line x1="594.40" y1="618.12" x2="600.00" y2="618.12" stroke="#231f20" stroke-width="1.55" />
<text x="590.20" y="622.82" font-size="13" text-anchor="end" font-weight="normal" font-style="normal" fill="#231f20" >1</text>
<line x1="594.40" y1="646.54" x2="600.00" y2="646.54" stroke="#231f20" stroke-width="1.55" />
<text x="590.20" y="651.24" font-size="13" text-anchor="end" font-weight="normal" font-style="normal" fill="#231f20" >0.8</text>
<line x1="594.40" y1="674.96" x2="600.00" y2="674.96" stroke="#231f20" stroke-width="1.55" />
<text x="590.20" y="679.66" font-size="13" text-anchor="end" font-weight="normal" font-style="normal" fill="#231f20" >0.6</text>
<line x1="594.40" y1="703.38" x2="600.00" y2="703.38" stroke="#231f20" stroke-width="1.55" />
<text x="590.20" y="708.08" font-size="13" text-anchor="end" font-weight="normal" font-style="normal" fill="#231f20" >0.4</text>
<line x1="594.40" y1="731.80" x2="600.00" y2="731.80" stroke="#231f20" stroke-width="1.55" />
<text x="590.20" y="736.50" font-size="13" text-anchor="end" font-weight="normal" font-style="normal" fill="#231f20" >0.2</text>
<line x1="607.10" y1="741.20" x2="790.10" y2="741.20" stroke="#231f20" stroke-width="1.55" />
<line x1="607.10" y1="741.20" x2="607.10" y2="745.50" stroke="#231f20" stroke-width="1.55" />
<text x="608.10" y="758.30" font-size="13.5" text-anchor="middle" font-weight="normal" font-style="normal" fill="#231f20" >-3</text>
<line x1="643.70" y1="741.20" x2="643.70" y2="745.50" stroke="#231f20" stroke-width="1.55" />
<text x="644.40" y="758.30" font-size="13.5" text-anchor="middle" font-weight="normal" font-style="normal" fill="#231f20" >-2</text>
<line x1="680.30" y1="741.20" x2="680.30" y2="745.50" stroke="#231f20" stroke-width="1.55" />
<text x="681.10" y="758.30" font-size="13.5" text-anchor="middle" font-weight="normal" font-style="normal" fill="#231f20" >-1</text>
<line x1="716.90" y1="741.20" x2="716.90" y2="745.50" stroke="#231f20" stroke-width="1.55" />
<text x="717.75" y="758.30" font-size="13.5" text-anchor="middle" font-weight="normal" font-style="normal" fill="#231f20" >0</text>
<line x1="753.50" y1="741.20" x2="753.50" y2="745.50" stroke="#231f20" stroke-width="1.55" />
<text x="754.70" y="758.30" font-size="13.5" text-anchor="middle" font-weight="normal" font-style="normal" fill="#231f20" >1</text>
<line x1="790.10" y1="741.20" x2="790.10" y2="745.50" stroke="#231f20" stroke-width="1.55" />
<text x="791.90" y="758.30" font-size="13.5" text-anchor="middle" font-weight="normal" font-style="normal" fill="#231f20" >2</text>
<text x="703.00" y="773.50" font-size="13.5" text-anchor="middle" font-weight="normal" font-style="normal" fill="#231f20" >time rel. to SWD onset (s)</text>
<text x="0" y="0" font-size="13.5" text-anchor="middle" fill="#231f20" transform="translate(568,665.5) rotate(-90)">σ / mean</text>
<path d="M608.75,688.46 L609.25,685.16 L609.76,688.61 L610.26,690.33 L610.76,692.83 L611.27,694.11 L611.77,683.41 L612.27,686.53 L612.78,689.52 L613.28,686.89 L613.78,688.49 L614.29,686.47 L614.79,688.33 L615.30,690.47 L615.80,694.95 L616.30,695.27 L616.81,696.19 L617.31,693.66 L617.81,691.77 L618.32,689.38 L618.82,692.19 L619.32,689.58 L619.83,687.60 L620.33,682.19 L620.83,681.97 L621.34,690.99 L621.84,693.49 L622.34,695.93 L622.85,690.20 L623.35,688.43 L623.85,691.69 L624.36,688.98 L624.86,687.96 L625.36,682.78 L625.87,684.23 L626.37,682.94 L626.88,683.40 L627.38,683.38 L627.88,685.76 L628.39,688.03 L628.89,691.42 L629.39,686.42 L629.90,682.49 L630.40,684.84 L630.90,686.71 L631.41,683.56 L631.91,681.01 L632.41,685.26 L632.92,685.61 L633.42,682.85 L633.92,686.04 L634.43,691.06 L634.93,687.47 L635.43,688.81 L635.94,691.75 L636.44,684.92 L636.94,687.98 L637.45,691.28 L637.95,690.77 L638.45,688.33 L638.96,688.23 L639.46,687.58 L639.97,695.68 L640.47,693.50 L640.97,693.76 L641.48,693.55 L641.98,695.13 L642.48,689.93 L642.99,687.00 L643.49,684.10 L643.99,684.89 L644.50,686.30 L645.00,687.74 L645.50,692.73 L646.01,697.07 L646.51,695.02 L647.01,695.78 L647.52,693.22 L648.02,692.91 L648.52,690.95 L649.03,691.54 L649.53,689.39 L650.03,688.47 L650.54,687.71 L651.04,692.82 L651.55,693.72 L652.05,696.33 L652.55,690.11 L653.06,693.45 L653.56,690.31 L654.06,689.12 L654.57,691.04 L655.07,689.14 L655.57,687.23 L656.08,684.09 L656.58,690.75 L657.08,685.55 L657.59,690.34 L658.09,695.17 L658.59,693.47 L659.10,692.47 L659.60,691.85 L660.10,684.48 L660.61,682.41 L661.11,679.52 L661.61,681.51 L662.12,681.94 L662.62,688.75 L663.12,694.35 L663.63,697.77 L664.13,692.81 L664.64,691.57 L665.14,690.06 L665.64,690.98 L666.15,686.03 L666.65,681.80 L667.15,681.00 L667.66,688.02 L668.16,685.52 L668.66,688.65 L669.17,695.76 L669.67,692.40 L670.17,694.26 L670.68,697.69 L671.18,697.62 L671.68,695.23 L672.19,690.46 L672.69,689.16 L673.19,689.40 L673.70,689.81 L674.20,691.44 L674.70,695.46 L675.21,697.01 L675.71,697.00 L676.22,700.43 L676.72,698.96 L677.22,694.18 L677.73,692.36 L678.23,692.53 L678.73,692.45 L679.24,689.77 L679.74,691.10 L680.24,693.11 L680.75,688.77 L681.25,688.71 L681.75,689.47 L682.26,689.46 L682.76,692.61 L683.26,691.98 L683.77,690.08 L684.27,690.84 L684.77,689.70 L685.28,691.82 L685.78,689.09 L686.28,687.05 L686.79,694.03 L687.29,694.68 L687.80,694.93 L688.30,697.14 L688.80,698.53 L689.31,695.47 L689.81,690.29 L690.31,686.06 L690.82,687.13 L691.32,691.42 L691.82,692.03 L692.33,689.82 L692.83,687.97 L693.33,692.58 L693.84,686.90 L694.34,690.01 L694.84,686.10 L695.35,680.14 L695.85,677.95 L696.35,681.73 L696.86,677.55 L697.36,678.44 L697.86,676.53 L698.37,675.75 L698.87,679.91 L699.38,678.43 L699.88,675.70 L700.38,673.10 L700.89,673.25 L701.39,674.37 L701.89,679.49 L702.40,671.98 L702.90,671.87 L703.40,672.06 L703.91,673.14 L704.41,673.88 L704.91,675.27 L705.42,674.48 L705.92,667.28 L706.42,667.59 L706.93,662.80 L707.43,661.39 L707.93,658.69 L708.44,659.38 L708.94,660.58 L709.44,661.81 L709.95,666.61 L710.45,663.45 L710.95,662.90 L711.46,660.03 L711.96,661.62 L712.47,661.03 L712.97,661.44 L713.47,667.73 L713.98,665.74 L714.48,660.99 L714.98,662.80 L715.49,657.61 L715.99,661.08 L716.49,662.82 L717.00,664.60 L717.50,661.45 L718.00,662.55 L718.51,654.55 L719.01,652.68 L719.51,649.43 L720.02,651.35 L720.52,651.51 L721.02,648.54 L721.53,653.76 L722.03,655.79 L722.53,656.55 L723.04,651.51 L723.54,654.28 L724.05,653.09 L724.55,647.48 L725.05,647.98 L725.56,648.31 L726.06,645.17 L726.56,644.98 L727.07,649.59 L727.57,646.22 L728.07,649.80 L728.58,648.14 L729.08,646.08 L729.58,646.71 L730.09,647.62 L730.59,639.22 L731.09,634.51 L731.60,633.94 L732.10,634.41 L732.60,633.24 L733.11,634.35 L733.61,636.35 L734.11,639.16 L734.62,642.05 L735.12,641.23 L735.62,640.43 L736.13,644.05 L736.63,642.29 L737.14,639.72 L737.64,637.16 L738.14,634.07 L738.65,631.89 L739.15,630.42 L739.65,633.98 L740.16,630.45 L740.66,635.51 L741.16,635.94 L741.67,639.20 L742.17,633.61 L742.67,631.17 L743.18,630.35 L743.68,627.26 L744.18,631.57 L744.69,631.18 L745.19,632.53 L745.69,634.69 L746.20,635.63 L746.70,632.09 L747.20,635.03 L747.71,639.55 L748.21,638.78 L748.72,640.70 L749.22,641.10 L749.72,640.51 L750.23,635.52 L750.73,634.57 L751.23,638.50 L751.74,634.46 L752.24,635.95 L752.74,639.03 L753.25,639.93 L753.75,637.99 L754.25,639.23 L754.76,635.61 L755.26,635.82 L755.76,631.94 L756.27,634.50 L756.77,631.23 L757.27,634.72 L757.78,634.21 L758.28,637.80 L758.78,643.12 L759.29,641.76 L759.79,641.96 L760.30,638.22 L760.80,637.20 L761.30,637.19 L761.81,636.43 L762.31,637.64 L762.81,635.48 L763.32,631.63 L763.82,632.25 L764.32,636.64 L764.83,639.31 L765.33,637.79 L765.83,637.95 L766.34,638.92 L766.84,639.11 L767.34,635.19 L767.85,636.97 L768.35,634.95 L768.85,638.15 L769.36,635.23 L769.86,639.67 L770.36,638.83 L770.87,641.60 L771.37,640.68 L771.88,636.92 L772.38,637.20 L772.88,630.83 L773.39,629.11 L773.89,630.11 L774.39,630.51 L774.90,632.26 L775.40,634.62 L775.90,632.08 L776.41,632.56 L776.91,634.40 L777.41,635.77 L777.92,638.97 L778.42,631.23 L778.92,634.44 L779.43,632.95 L779.93,631.02 L780.43,633.02 L780.94,632.64 L781.44,637.12 L781.94,633.77 L782.45,635.31 L782.95,632.74 L783.45,637.05 L783.96,634.75 L784.46,632.94 L784.97,635.80 L785.47,636.53 L785.97,635.51 L786.48,634.90 L786.98,637.97 L787.48,637.75 L787.99,642.52 L788.49,638.99 L788.99,646.27 L789.50,641.84 L790.00,641.09 L790.00,649.09 L789.50,649.84 L788.99,654.27 L788.49,646.99 L787.99,650.52 L787.48,645.75 L786.98,645.97 L786.48,642.90 L785.97,643.51 L785.47,644.53 L784.97,643.80 L784.46,640.94 L783.96,642.75 L783.45,645.05 L782.95,640.74 L782.45,643.31 L781.94,641.77 L781.44,645.12 L780.94,640.64 L780.43,641.02 L779.93,639.02 L779.43,640.95 L778.92,642.44 L778.42,639.23 L777.92,646.97 L777.41,643.77 L776.91,642.40 L776.41,640.56 L775.90,640.08 L775.40,642.62 L774.90,640.26 L774.39,638.51 L773.89,638.11 L773.39,637.11 L772.88,638.83 L772.38,645.20 L771.88,644.92 L771.37,648.68 L770.87,649.60 L770.36,646.83 L769.86,647.67 L769.36,643.23 L768.85,646.15 L768.35,642.95 L767.85,644.97 L767.34,643.19 L766.84,647.11 L766.34,646.92 L765.83,645.95 L765.33,645.79 L764.83,647.31 L764.32,644.64 L763.82,640.25 L763.32,639.63 L762.81,643.48 L762.31,645.64 L761.81,644.43 L761.30,645.19 L760.80,645.20 L760.30,646.22 L759.79,649.96 L759.29,649.76 L758.78,651.12 L758.28,645.80 L757.78,642.21 L757.27,642.72 L756.77,639.23 L756.27,642.50 L755.76,639.94 L755.26,643.82 L754.76,643.61 L754.25,647.23 L753.75,645.99 L753.25,647.93 L752.74,647.03 L752.24,643.95 L751.74,642.46 L751.23,646.50 L750.73,642.57 L750.23,643.52 L749.72,648.51 L749.22,649.10 L748.72,648.70 L748.21,646.78 L747.71,647.55 L747.20,643.03 L746.70,640.09 L746.20,643.63 L745.69,642.69 L745.19,640.53 L744.69,639.18 L744.18,639.57 L743.68,635.26 L743.18,638.35 L742.67,639.17 L742.17,641.61 L741.67,647.20 L741.16,643.94 L740.66,643.51 L740.16,638.45 L739.65,641.98 L739.15,638.42 L738.65,639.89 L738.14,642.07 L737.64,645.16 L737.14,647.72 L736.63,650.29 L736.13,652.05 L735.62,648.43 L735.12,649.23 L734.62,650.05 L734.11,647.16 L733.61,644.35 L733.11,642.35 L732.60,641.24 L732.10,642.41 L731.60,641.94 L731.09,642.51 L730.59,647.22 L730.09,655.62 L729.58,654.71 L729.08,654.08 L728.58,656.14 L728.07,657.80 L727.57,654.22 L727.07,657.59 L726.56,652.98 L726.06,653.17 L725.56,656.31 L725.05,655.98 L724.55,655.48 L724.05,661.09 L723.54,662.28 L723.04,659.51 L722.53,664.55 L722.03,663.79 L721.53,661.76 L721.02,656.54 L720.52,659.51 L720.02,659.35 L719.51,657.43 L719.01,660.68 L718.51,662.55 L718.00,670.55 L717.50,669.45 L717.00,672.60 L716.49,670.82 L715.99,669.08 L715.49,665.61 L714.98,670.80 L714.48,668.99 L713.98,673.74 L713.47,675.73 L712.97,669.44 L712.47,669.03 L711.96,669.62 L711.46,668.03 L710.95,670.90 L710.45,671.45 L709.95,674.61 L709.44,669.81 L708.94,668.58 L708.44,667.38 L707.93,666.69 L707.43,669.39 L706.93,670.80 L706.42,675.59 L705.92,675.28 L705.42,682.48 L704.91,683.27 L704.41,681.88 L703.91,681.14 L703.40,680.06 L702.90,679.87 L702.40,679.98 L701.89,687.49 L701.39,682.37 L700.89,681.25 L700.38,681.10 L699.88,683.70 L699.38,686.43 L698.87,687.91 L698.37,683.75 L697.86,684.53 L697.36,686.44 L696.86,685.55 L696.35,689.73 L695.85,685.95 L695.35,688.14 L694.84,694.10 L694.34,698.01 L693.84,694.90 L693.33,700.58 L692.83,695.97 L692.33,697.82 L691.82,700.03 L691.32,699.42 L690.82,695.13 L690.31,694.06 L689.81,698.29 L689.31,703.47 L688.80,706.53 L688.30,705.14 L687.80,702.93 L687.29,702.68 L686.79,702.03 L686.28,695.05 L685.78,697.09 L685.28,699.82 L684.77,697.70 L684.27,698.84 L683.77,698.08 L683.26,699.98 L682.76,700.61 L682.26,697.46 L681.75,697.47 L681.25,696.71 L680.75,696.77 L680.24,701.11 L679.74,699.10 L679.24,697.77 L678.73,700.45 L678.23,700.53 L677.73,700.36 L677.22,702.18 L676.72,706.96 L676.22,708.43 L675.71,705.00 L675.21,705.01 L674.70,703.46 L674.20,699.44 L673.70,697.81 L673.19,697.40 L672.69,697.16 L672.19,698.46 L671.68,703.23 L671.18,705.62 L670.68,705.69 L670.17,702.26 L669.67,700.40 L669.17,703.76 L668.66,696.65 L668.16,693.52 L667.66,696.02 L667.15,689.00 L666.65,689.80 L666.15,694.03 L665.64,698.98 L665.14,698.06 L664.64,699.57 L664.13,700.81 L663.63,705.77 L663.12,702.35 L662.62,696.75 L662.12,689.94 L661.61,689.51 L661.11,687.52 L660.61,690.41 L660.10,692.48 L659.60,699.85 L659.10,700.47 L658.59,701.47 L658.09,703.17 L657.59,698.34 L657.08,693.55 L656.58,698.75 L656.08,692.09 L655.57,695.23 L655.07,697.14 L654.57,699.04 L654.06,697.12 L653.56,698.31 L653.06,701.45 L652.55,698.11 L652.05,704.33 L651.55,701.72 L651.04,700.82 L650.54,695.71 L650.03,696.47 L649.53,697.39 L649.03,699.54 L648.52,698.95 L648.02,700.91 L647.52,701.22 L647.01,703.78 L646.51,703.02 L646.01,705.07 L645.50,700.73 L645.00,695.74 L644.50,694.30 L643.99,692.89 L643.49,692.10 L642.99,695.00 L642.48,697.93 L641.98,703.13 L641.48,701.55 L640.97,701.76 L640.47,701.50 L639.97,703.68 L639.46,695.58 L638.96,696.23 L638.45,696.33 L637.95,698.77 L637.45,699.28 L636.94,695.98 L636.44,692.92 L635.94,699.75 L635.43,696.81 L634.93,695.47 L634.43,699.06 L633.92,694.04 L633.42,690.85 L632.92,693.61 L632.41,693.26 L631.91,689.01 L631.41,691.56 L630.90,694.71 L630.40,692.84 L629.90,690.49 L629.39,694.42 L628.89,699.42 L628.39,696.03 L627.88,693.76 L627.38,691.38 L626.88,691.40 L626.37,690.94 L625.87,692.23 L625.36,690.78 L624.86,695.96 L624.36,696.98 L623.85,699.69 L623.35,696.43 L622.85,698.20 L622.34,703.93 L621.84,701.49 L621.34,698.99 L620.83,689.97 L620.33,690.19 L619.83,695.60 L619.32,697.58 L618.82,700.19 L618.32,697.38 L617.81,699.77 L617.31,701.66 L616.81,704.19 L616.30,703.27 L615.80,702.95 L615.30,698.47 L614.79,696.33 L614.29,694.47 L613.78,696.49 L613.28,694.89 L612.78,697.52 L612.27,694.53 L611.77,691.41 L611.27,702.11 L610.76,700.83 L610.26,698.33 L609.76,696.61 L609.25,693.16 L608.75,696.46Z" fill="#dcb6d9"/>
<path d="M608.75,686.29V700.13M609.25,681.83V693.32M609.76,685.58V698.68M610.26,686.74V700.23M610.76,691.78V703.16M611.27,692.67V705.75M611.77,682.43V695.08M612.27,685.90V694.09M612.78,686.72V697.05M613.28,686.87V697.95M613.78,688.50V698.05M614.29,682.73V694.19M614.79,685.70V699.50M615.30,688.58V701.26M615.80,693.35V703.40M616.30,694.37V704.21M616.81,694.59V707.76M617.31,692.59V704.70M617.81,689.85V703.23M618.32,687.57V700.78M618.82,688.91V702.39M619.32,687.58V698.52M619.83,687.84V698.22M620.33,681.22V692.20M620.83,679.39V690.04M621.34,688.61V702.37M621.84,689.74V703.78M622.34,693.71V706.51M622.85,689.66V699.18M623.35,685.33V698.13M623.85,688.41V700.55M624.36,688.57V697.65M624.86,688.21V698.66M625.36,680.97V694.22M625.87,684.01V695.18M626.37,679.49V692.74M626.88,680.26V693.01M627.38,682.33V694.24M627.88,685.47V694.62M628.39,684.83V699.61M628.89,689.37V700.76M629.39,683.66V693.97M629.90,682.89V690.57M630.40,683.69V693.93M630.90,684.25V697.71M631.41,683.03V693.80M631.91,679.94V689.91M632.41,683.47V695.91M632.92,685.94V694.79M633.42,680.03V692.04M633.92,683.30V694.06M634.43,687.70V698.78M634.93,683.97V697.52M635.43,689.21V698.34M635.94,691.82V701.61M636.44,683.54V696.12M636.94,685.78V697.25M637.45,691.59V702.01M637.95,687.65V701.91M638.45,686.55V697.75M638.96,687.02V698.77M639.46,684.38V695.31M639.97,692.66V706.72M640.47,693.78V704.89M640.97,692.39V703.57M641.48,693.28V702.68M641.98,692.57V704.61M642.48,690.37V699.22M642.99,685.63V698.23M643.49,681.20V692.36M643.99,681.90V696.45M644.50,682.99V694.31M645.00,688.03V697.07M645.50,691.77V703.91M646.01,696.58V704.94M646.51,694.52V705.42M647.01,692.67V704.17M647.52,692.45V702.97M648.02,690.02V704.41M648.52,690.51V699.08M649.03,691.23V701.88M649.53,689.02V701.26M650.03,688.73V698.50M650.54,686.13V696.25M651.04,689.86V702.29M651.55,689.84V703.26M652.05,695.34V706.85M652.55,687.30V701.26M653.06,692.01V705.18M653.56,690.34V701.13M654.06,689.15V697.13M654.57,690.95V702.28M655.07,688.00V699.09M655.57,683.78V697.00M656.08,682.22V692.90M656.58,690.48V701.60M657.08,684.84V693.25M657.59,688.34V698.26M658.09,694.39V703.71M658.59,693.52V704.39M659.10,692.55V703.99M659.60,691.08V703.45M660.10,683.86V693.62M660.61,681.93V694.06M661.11,677.05V688.61M661.61,681.45V692.30M662.12,682.19V693.69M662.62,685.16V700.33M663.12,690.88V704.28M663.63,694.75V708.07M664.13,691.25V703.61M664.64,687.63V700.57M665.14,688.29V697.88M665.64,688.35V700.21M666.15,685.38V694.56M666.65,680.54V691.13M667.15,679.39V692.54M667.66,687.60V696.26M668.16,682.95V694.12M668.66,685.47V697.14M669.17,692.33V704.82M669.67,690.09V703.77M670.17,690.71V703.39M670.68,694.07V708.26M671.18,697.17V707.32M671.68,694.42V704.01M672.19,689.04V701.94M672.69,688.39V699.50M673.19,688.27V700.15M673.70,687.46V700.94M674.20,691.73V701.98M674.70,694.46V705.59M675.21,697.42V707.90M675.71,695.10V705.23M676.22,698.66V709.42M676.72,696.44V710.70M677.22,691.46V702.87M677.73,689.03V700.21M678.23,688.65V700.83M678.73,692.35V703.99M679.24,689.15V699.66M679.74,688.14V701.70M680.24,691.85V703.33M680.75,684.99V698.10M681.25,684.90V699.27M681.75,688.34V698.75M682.26,688.56V699.04M682.76,689.84V703.13M683.26,689.13V700.79M683.77,686.73V698.70M684.27,691.21V701.11M684.77,686.46V698.73M685.28,691.88V700.81M685.78,685.32V700.03M686.28,687.18V698.47M686.79,691.28V702.85M687.29,692.58V705.25M687.80,693.18V702.93M688.30,694.29V707.11M688.80,696.39V708.51M689.31,693.62V705.91M689.81,688.02V699.46M690.31,683.19V694.04M690.82,684.47V697.52M691.32,691.91V701.55M691.82,692.32V703.30M692.33,687.72V700.49M692.83,685.54V699.80M693.33,690.31V702.94M693.84,683.11V698.06M694.34,687.49V700.36M694.84,686.21V693.77M695.35,677.48V690.58M695.85,674.66V686.86M696.35,679.41V691.60M696.86,678.02V685.59M697.36,677.59V690.11M697.86,675.08V684.06M698.37,674.96V687.02M698.87,679.76V691.48M699.38,677.93V687.67M699.88,673.92V687.31M700.38,670.46V684.29M700.89,672.68V683.83M701.39,673.00V685.81M701.89,678.08V689.21M702.40,668.43V681.95M702.90,671.23V680.12M703.40,669.59V681.39M703.91,669.49V683.83M704.41,673.02V682.92M704.91,671.30V684.84M705.42,671.14V685.12M705.92,664.49V675.29M706.42,664.48V676.69M706.93,662.48V674.59M707.43,660.69V673.20M707.93,655.23V669.23M708.44,658.65V669.93M708.94,659.94V668.62M709.44,661.73V671.61M709.95,663.17V674.36M710.45,660.99V672.44M710.95,662.06V672.82M711.46,657.95V671.75M711.96,661.73V669.95M712.47,658.84V670.95M712.97,660.51V669.44M713.47,664.01V675.77M713.98,662.12V674.32M714.48,660.42V669.02M714.98,663.03V671.15M715.49,655.75V665.53M715.99,661.02V669.28M716.49,661.21V674.39M717.00,661.76V672.62M717.50,661.14V670.61M718.00,659.85V673.03M718.51,651.80V663.27M719.01,651.53V661.07M719.51,647.67V657.15M720.02,647.80V662.93M720.52,648.65V662.68M721.02,648.13V656.47M721.53,653.33V663.32M722.03,656.11V664.79M722.53,653.85V665.85M723.04,651.63V662.64M723.54,653.13V663.85M724.05,649.67V663.31M724.55,646.41V658.82M725.05,648.14V656.41M725.56,645.48V658.99M726.06,642.91V654.33M726.56,645.15V656.97M727.07,649.83V657.47M727.57,644.76V657.01M728.07,648.83V658.59M728.58,644.76V656.05M729.08,642.37V655.14M729.58,643.32V657.72M730.09,644.68V657.97M730.59,637.16V649.27M731.09,634.60V646.49M731.60,632.29V642.91M732.10,633.33V644.16M732.60,633.50V642.74M733.11,633.49V643.76M733.61,633.03V648.02M734.11,637.41V647.79M734.62,642.20V650.75M735.12,639.40V652.80M735.62,636.76V649.61M736.13,641.36V655.66M736.63,638.45V651.45M737.14,638.44V650.69M737.64,636.66V648.07M738.14,631.45V641.75M738.65,630.28V640.21M739.15,626.70V640.36M739.65,631.79V642.95M740.16,628.34V638.13M740.66,631.82V644.23M741.16,633.55V645.64M741.67,635.52V649.51M742.17,632.70V644.51M742.67,631.42V640.09M743.18,627.41V638.10M743.68,626.00V634.86M744.18,631.63V639.74M744.69,628.02V642.99M745.19,631.16V642.94M745.69,634.60V645.86M746.20,632.26V646.87M746.70,630.18V643.35M747.20,634.58V645.20M747.71,636.76V647.90M748.21,635.21V649.44M748.72,640.32V652.63M749.22,640.87V648.99M749.72,638.17V648.87M750.23,631.71V645.75M750.73,633.47V643.04M751.23,637.11V647.95M751.74,634.62V644.45M752.24,632.46V643.69M752.74,635.43V650.00M753.25,639.32V650.83M753.75,637.60V648.21M754.25,635.98V651.14M754.76,632.04V645.94M755.26,633.88V647.81M755.76,630.42V643.12M756.27,630.67V644.38M756.77,627.95V639.81M757.27,633.13V645.03M757.78,632.07V644.59M758.28,635.70V645.38M758.78,641.94V651.69M759.29,642.06V650.82M759.79,641.67V651.07M760.30,638.72V649.89M760.80,636.29V645.99M761.30,636.93V645.10M761.81,636.25V647.64M762.31,634.66V648.24M762.81,631.57V645.64M763.32,630.73V641.60M763.82,631.05V641.73M764.32,636.89V646.45M764.83,636.23V647.78M765.33,634.34V647.33M765.83,634.93V647.47M766.34,637.60V648.61M766.84,635.67V646.88M767.34,631.49V645.85M767.85,635.44V648.89M768.35,634.36V645.16M768.85,634.39V647.11M769.36,633.02V645.74M769.86,638.88V650.34M770.36,638.61V648.26M770.87,642.00V649.64M771.37,637.12V648.28M771.88,634.75V645.25M772.38,634.41V649.03M772.88,629.12V642.05M773.39,625.26V640.20M773.89,628.37V637.74M774.39,628.27V639.45M774.90,629.71V642.00M775.40,634.28V643.44M775.90,630.26V641.32M776.41,632.99V641.36M776.91,631.08V642.53M777.41,634.64V645.34M777.92,635.33V647.90M778.42,629.57V642.51M778.92,634.64V644.31M779.43,630.93V642.29M779.93,627.06V639.00M780.43,629.67V643.25M780.94,631.08V644.30M781.44,635.76V645.81M781.94,633.27V643.03M782.45,633.54V644.86M782.95,633.04V642.35M783.45,633.85V649.03M783.96,634.84V646.18M784.46,631.03V644.40M784.97,633.10V644.70M785.47,635.39V645.21M785.97,632.59V647.37M786.48,633.33V646.31M786.98,635.95V646.39M787.48,636.92V648.10M787.99,642.89V652.32M788.49,635.63V646.55M788.99,645.18V657.84M789.50,640.78V651.25M790.00,637.97V652.53" stroke="#cc94c8" stroke-width="0.9" fill="none"/>
<polyline points="608.75,692.46 609.25,689.16 609.76,692.61 610.26,694.33 610.76,696.83 611.27,698.11 611.77,687.41 612.27,690.53 612.78,693.52 613.28,690.89 613.78,692.49 614.29,690.47 614.79,692.33 615.30,694.47 615.80,698.95 616.30,699.27 616.81,700.19 617.31,697.66 617.81,695.77 618.32,693.38 618.82,696.19 619.32,693.58 619.83,691.60 620.33,686.19 620.83,685.97 621.34,694.99 621.84,697.49 622.34,699.93 622.85,694.20 623.35,692.43 623.85,695.69 624.36,692.98 624.86,691.96 625.36,686.78 625.87,688.23 626.37,686.94 626.88,687.40 627.38,687.38 627.88,689.76 628.39,692.03 628.89,695.42 629.39,690.42 629.90,686.49 630.40,688.84 630.90,690.71 631.41,687.56 631.91,685.01 632.41,689.26 632.92,689.61 633.42,686.85 633.92,690.04 634.43,695.06 634.93,691.47 635.43,692.81 635.94,695.75 636.44,688.92 636.94,691.98 637.45,695.28 637.95,694.77 638.45,692.33 638.96,692.23 639.46,691.58 639.97,699.68 640.47,697.50 640.97,697.76 641.48,697.55 641.98,699.13 642.48,693.93 642.99,691.00 643.49,688.10 643.99,688.89 644.50,690.30 645.00,691.74 645.50,696.73 646.01,701.07 646.51,699.02 647.01,699.78 647.52,697.22 648.02,696.91 648.52,694.95 649.03,695.54 649.53,693.39 650.03,692.47 650.54,691.71 651.04,696.82 651.55,697.72 652.05,700.33 652.55,694.11 653.06,697.45 653.56,694.31 654.06,693.12 654.57,695.04 655.07,693.14 655.57,691.23 656.08,688.09 656.58,694.75 657.08,689.55 657.59,694.34 658.09,699.17 658.59,697.47 659.10,696.47 659.60,695.85 660.10,688.48 660.61,686.41 661.11,683.52 661.61,685.51 662.12,685.94 662.62,692.75 663.12,698.35 663.63,701.77 664.13,696.81 664.64,695.57 665.14,694.06 665.64,694.98 666.15,690.03 666.65,685.80 667.15,685.00 667.66,692.02 668.16,689.52 668.66,692.65 669.17,699.76 669.67,696.40 670.17,698.26 670.68,701.69 671.18,701.62 671.68,699.23 672.19,694.46 672.69,693.16 673.19,693.40 673.70,693.81 674.20,695.44 674.70,699.46 675.21,701.01 675.71,701.00 676.22,704.43 676.72,702.96 677.22,698.18 677.73,696.36 678.23,696.53 678.73,696.45 679.24,693.77 679.74,695.10 680.24,697.11 680.75,692.77 681.25,692.71 681.75,693.47 682.26,693.46 682.76,696.61 683.26,695.98 683.77,694.08 684.27,694.84 684.77,693.70 685.28,695.82 685.78,693.09 686.28,691.05 686.79,698.03 687.29,698.68 687.80,698.93 688.30,701.14 688.80,702.53 689.31,699.47 689.81,694.29 690.31,690.06 690.82,691.13 691.32,695.42 691.82,696.03 692.33,693.82 692.83,691.97 693.33,696.58 693.84,690.90 694.34,694.01 694.84,690.10 695.35,684.14 695.85,681.95 696.35,685.73 696.86,681.55 697.36,682.44 697.86,680.53 698.37,679.75 698.87,683.91 699.38,682.43 699.88,679.70 700.38,677.10 700.89,677.25 701.39,678.37 701.89,683.49 702.40,675.98 702.90,675.87 703.40,676.06 703.91,677.14 704.41,677.88 704.91,679.27 705.42,678.48 705.92,671.28 706.42,671.59 706.93,666.80 707.43,665.39 707.93,662.69 708.44,663.38 708.94,664.58 709.44,665.81 709.95,670.61 710.45,667.45 710.95,666.90 711.46,664.03 711.96,665.62 712.47,665.03 712.97,665.44 713.47,671.73 713.98,669.74 714.48,664.99 714.98,666.80 715.49,661.61 715.99,665.08 716.49,666.82 717.00,668.60 717.50,665.45 718.00,666.55 718.51,658.55 719.01,656.68 719.51,653.43 720.02,655.35 720.52,655.51 721.02,652.54 721.53,657.76 722.03,659.79 722.53,660.55 723.04,655.51 723.54,658.28 724.05,657.09 724.55,651.48 725.05,651.98 725.56,652.31 726.06,649.17 726.56,648.98 727.07,653.59 727.57,650.22 728.07,653.80 728.58,652.14 729.08,650.08 729.58,650.71 730.09,651.62 730.59,643.22 731.09,638.51 731.60,637.94 732.10,638.41 732.60,637.24 733.11,638.35 733.61,640.35 734.11,643.16 734.62,646.05 735.12,645.23 735.62,644.43 736.13,648.05 736.63,646.29 737.14,643.72 737.64,641.16 738.14,638.07 738.65,635.89 739.15,634.42 739.65,637.98 740.16,634.45 740.66,639.51 741.16,639.94 741.67,643.20 742.17,637.61 742.67,635.17 743.18,634.35 743.68,631.26 744.18,635.57 744.69,635.18 745.19,636.53 745.69,638.69 746.20,639.63 746.70,636.09 747.20,639.03 747.71,643.55 748.21,642.78 748.72,644.70 749.22,645.10 749.72,644.51 750.23,639.52 750.73,638.57 751.23,642.50 751.74,638.46 752.24,639.95 752.74,643.03 753.25,643.93 753.75,641.99 754.25,643.23 754.76,639.61 755.26,639.82 755.76,635.94 756.27,638.50 756.77,635.23 757.27,638.72 757.78,638.21 758.28,641.80 758.78,647.12 759.29,645.76 759.79,645.96 760.30,642.22 760.80,641.20 761.30,641.19 761.81,640.43 762.31,641.64 762.81,639.48 763.32,635.63 763.82,636.25 764.32,640.64 764.83,643.31 765.33,641.79 765.83,641.95 766.34,642.92 766.84,643.11 767.34,639.19 767.85,640.97 768.35,638.95 768.85,642.15 769.36,639.23 769.86,643.67 770.36,642.83 770.87,645.60 771.37,644.68 771.88,640.92 772.38,641.20 772.88,634.83 773.39,633.11 773.89,634.11 774.39,634.51 774.90,636.26 775.40,638.62 775.90,636.08 776.41,636.56 776.91,638.40 777.41,639.77 777.92,642.97 778.42,635.23 778.92,638.44 779.43,636.95 779.93,635.02 780.43,637.02 780.94,636.64 781.44,641.12 781.94,637.77 782.45,639.31 782.95,636.74 783.45,641.05 783.96,638.75 784.46,636.94 784.97,639.80 785.47,640.53 785.97,639.51 786.48,638.90 786.98,641.97 787.48,641.75 787.99,646.52 788.49,642.99 788.99,650.27 789.50,645.84 790.00,645.09" fill="none" stroke="#9c4997" stroke-width="3.2" stroke-linejoin="round" />
<text x="708.00" y="634.50" font-size="17" text-anchor="middle" font-weight="bold" font-style="normal" fill="#e8609e" letter-spacing="1.2">***</text>
<line x1="698.75" y1="632.00" x2="717.50" y2="632.00" stroke="#e8609e" stroke-width="1.7" />
</svg></body></html>
